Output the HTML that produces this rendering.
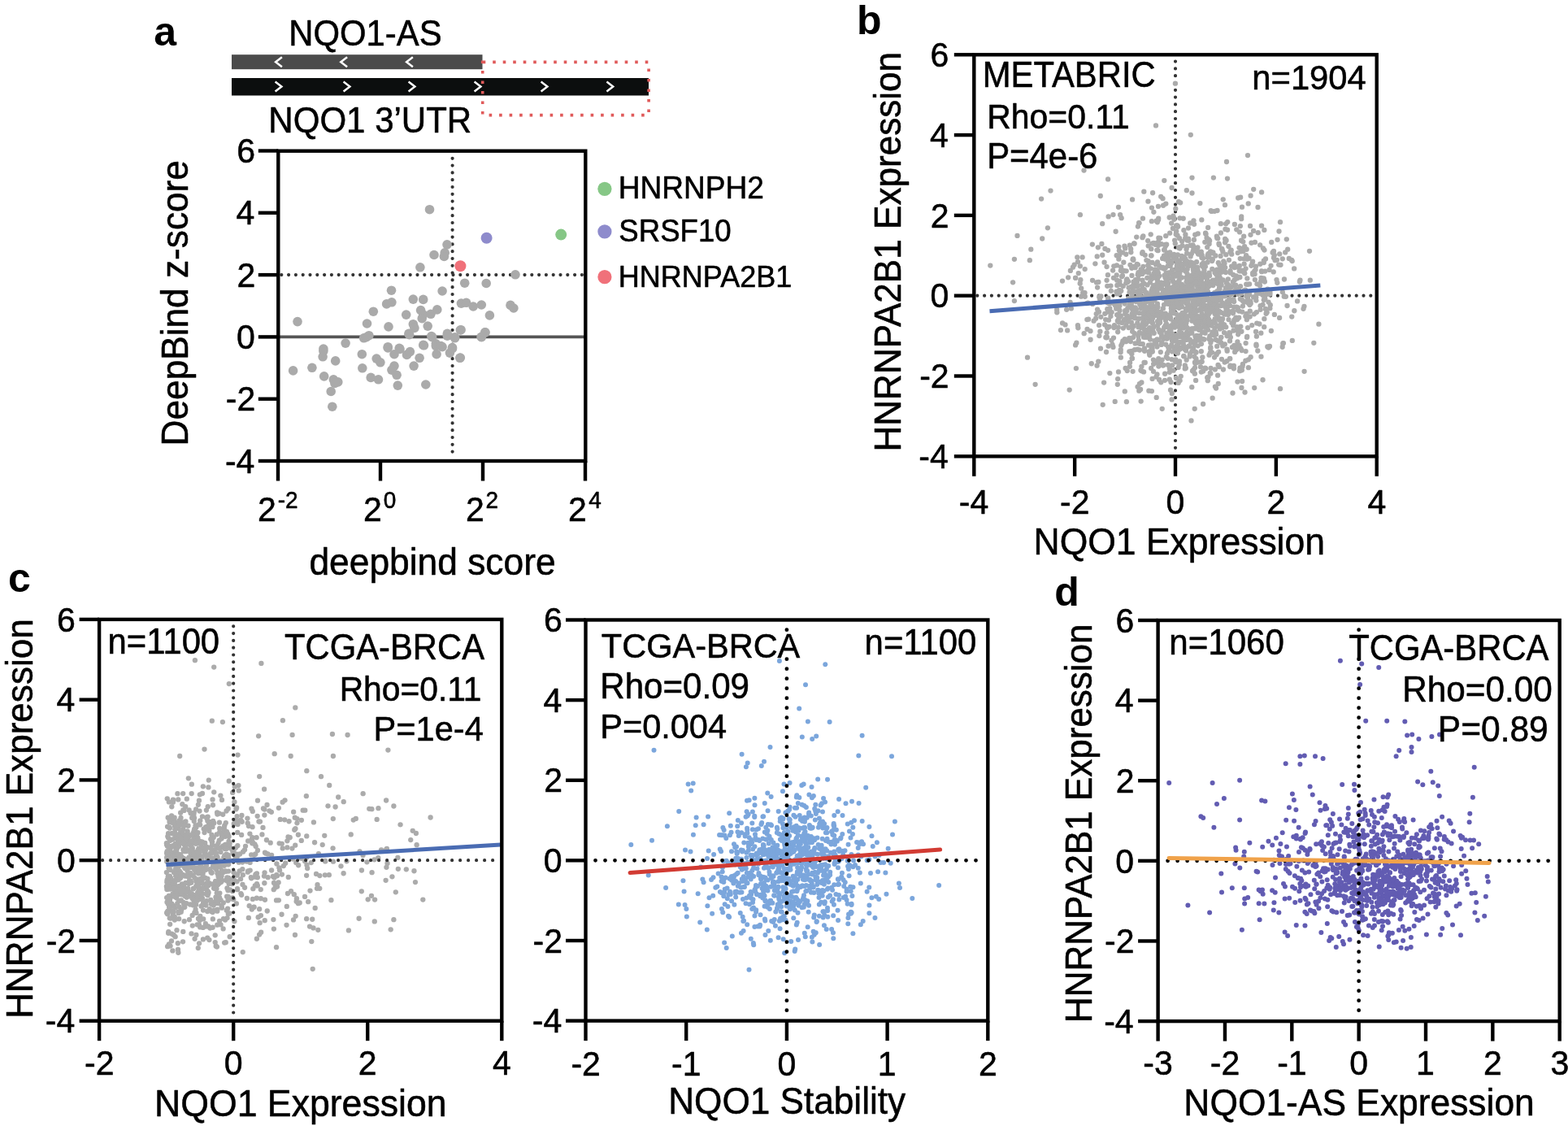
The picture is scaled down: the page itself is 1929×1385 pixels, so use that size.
<!DOCTYPE html>
<html><head><meta charset="utf-8"><title>Figure</title>
<style>html,body{margin:0;padding:0;background:#fff;overflow:hidden;}svg{display:block;}</style></head>
<body><svg width="1929" height="1385" viewBox="0 0 1929 1385" font-family="'Liberation Sans', Arial, Helvetica, sans-serif">
<rect width="100%" height="100%" fill="#fff"/>
<text transform="translate(189.34 55.5)" font-size="50" font-weight="bold" fill="#000">a</text>
<text transform="translate(355.37 55.5) scale(1 1.04)" font-size="41.82" fill="#000" stroke="#000" stroke-width="0.55" stroke-linejoin="round">NQO1-AS</text>
<rect x="285" y="67.2" width="308.5" height="18" fill="#4b4b4b"/>
<rect x="285" y="96" width="513" height="21.5" fill="#0c0e0e"/>
<polyline points="346.9,70.2 339.1,76.2 346.9,82.2" fill="none" stroke="#fff" stroke-width="2.5"/>
<polyline points="427.1,70.2 419.3,76.2 427.1,82.2" fill="none" stroke="#fff" stroke-width="2.5"/>
<polyline points="507.9,70.2 500.1,76.2 507.9,82.2" fill="none" stroke="#fff" stroke-width="2.5"/>
<polyline points="338.6,100.4 346.4,106.4 338.6,112.4" fill="none" stroke="#fff" stroke-width="2.5"/>
<polyline points="422.6,100.4 430.4,106.4 422.6,112.4" fill="none" stroke="#fff" stroke-width="2.5"/>
<polyline points="502.6,100.4 510.4,106.4 502.6,112.4" fill="none" stroke="#fff" stroke-width="2.5"/>
<polyline points="583.6,100.4 591.4,106.4 583.6,112.4" fill="none" stroke="#fff" stroke-width="2.5"/>
<polyline points="665.6,100.4 673.4,106.4 665.6,112.4" fill="none" stroke="#fff" stroke-width="2.5"/>
<polyline points="746.4,100.4 754.2,106.4 746.4,112.4" fill="none" stroke="#fff" stroke-width="2.5"/>
<rect x="593.7" y="76.4" width="204.4" height="65.2" fill="none" stroke="#e05a5a" stroke-width="3.6" stroke-dasharray="3.6 8.9"/>
<text transform="translate(330.35 163.1) scale(1 1.04)" font-size="42.05" fill="#000" stroke="#000" stroke-width="0.55" stroke-linejoin="round">NQO1 3’UTR</text>
<line x1="346.3" y1="338.1" x2="717.3" y2="338.1" stroke="#333" stroke-width="4.2" stroke-linecap="round" stroke-dasharray="0 8.8"/>
<line x1="556.6" y1="194.8" x2="556.6" y2="564" stroke="#333" stroke-width="4.2" stroke-linecap="round" stroke-dasharray="0 8.8"/>
<line x1="342.3" y1="414.4" x2="720.3" y2="414.4" stroke="#555" stroke-width="3.6"/>
<g fill="#aaa"><circle cx="528.5" cy="257.7" r="5.8"/><circle cx="550" cy="300.8" r="5.8"/><circle cx="547.2" cy="310.9" r="5.8"/><circle cx="546.4" cy="315.5" r="5.8"/><circle cx="534" cy="313.5" r="5.8"/><circle cx="516.9" cy="328.8" r="5.8"/><circle cx="634" cy="337.8" r="5.8"/><circle cx="571.7" cy="348.2" r="5.8"/><circle cx="598.2" cy="348.5" r="5.8"/><circle cx="481.5" cy="357.2" r="5.8"/><circle cx="544.1" cy="358" r="5.8"/><circle cx="508.3" cy="368.1" r="5.8"/><circle cx="520.7" cy="368.4" r="5.8"/><circle cx="481.9" cy="371.8" r="5.8"/><circle cx="475.6" cy="373.9" r="5.8"/><circle cx="567.4" cy="373.1" r="5.8"/><circle cx="573.6" cy="372.3" r="5.8"/><circle cx="582.2" cy="377" r="5.8"/><circle cx="592.3" cy="375" r="5.8"/><circle cx="628" cy="375.4" r="5.8"/><circle cx="631.9" cy="379" r="5.8"/><circle cx="459.3" cy="383.2" r="5.8"/><circle cx="517.6" cy="381.6" r="5.8"/><circle cx="537.8" cy="380.9" r="5.8"/><circle cx="499.7" cy="387.1" r="5.8"/><circle cx="520.7" cy="387.1" r="5.8"/><circle cx="530" cy="386.3" r="5.8"/><circle cx="602.4" cy="387.9" r="5.8"/><circle cx="519.2" cy="391.7" r="5.8"/><circle cx="366" cy="395.6" r="5.8"/><circle cx="451.5" cy="398" r="5.8"/><circle cx="478" cy="401.9" r="5.8"/><circle cx="508.3" cy="398.7" r="5.8"/><circle cx="509.9" cy="403.4" r="5.8"/><circle cx="526.2" cy="401.1" r="5.8"/><circle cx="567.1" cy="405.7" r="5.8"/><circle cx="597" cy="408.8" r="5.8"/><circle cx="592.3" cy="414.3" r="5.8"/><circle cx="502.9" cy="410.4" r="5.8"/><circle cx="550.3" cy="410.4" r="5.8"/><circle cx="559.6" cy="415.8" r="5.8"/><circle cx="453.9" cy="412.7" r="5.8"/><circle cx="447.6" cy="415.8" r="5.8"/><circle cx="530.8" cy="413.5" r="5.8"/><circle cx="425.1" cy="422.1" r="5.8"/><circle cx="477.2" cy="426.7" r="5.8"/><circle cx="491.2" cy="428.3" r="5.8"/><circle cx="520.7" cy="424.4" r="5.8"/><circle cx="397.9" cy="429" r="5.8"/><circle cx="536.3" cy="422.8" r="5.8"/><circle cx="544.1" cy="426.7" r="5.8"/><circle cx="556.5" cy="427.5" r="5.8"/><circle cx="397.9" cy="431.8" r="5.8"/><circle cx="397.1" cy="438.8" r="5.8"/><circle cx="412.7" cy="443.9" r="5.8"/><circle cx="360.6" cy="455.9" r="5.8"/><circle cx="383.9" cy="452.3" r="5.8"/><circle cx="445.3" cy="435.7" r="5.8"/><circle cx="445.8" cy="452.8" r="5.8"/><circle cx="463.2" cy="441.1" r="5.8"/><circle cx="467.9" cy="445.8" r="5.8"/><circle cx="477.2" cy="427.9" r="5.8"/><circle cx="485" cy="435.7" r="5.8"/><circle cx="492" cy="429.4" r="5.8"/><circle cx="500.5" cy="436.4" r="5.8"/><circle cx="504.4" cy="432.6" r="5.8"/><circle cx="521.5" cy="424.8" r="5.8"/><circle cx="516.1" cy="440.3" r="5.8"/><circle cx="509.1" cy="450.1" r="5.8"/><circle cx="485" cy="450.1" r="5.8"/><circle cx="481.9" cy="455.1" r="5.8"/><circle cx="488.1" cy="461.3" r="5.8"/><circle cx="398.7" cy="462.9" r="5.8"/><circle cx="410.3" cy="466.8" r="5.8"/><circle cx="415.8" cy="469.9" r="5.8"/><circle cx="411.9" cy="471.4" r="5.8"/><circle cx="407.2" cy="481.5" r="5.8"/><circle cx="408.8" cy="500.2" r="5.8"/><circle cx="456.2" cy="464.4" r="5.8"/><circle cx="465.5" cy="466.8" r="5.8"/><circle cx="489.3" cy="474.1" r="5.8"/><circle cx="523.8" cy="473" r="5.8"/><circle cx="536.3" cy="425.6" r="5.8"/><circle cx="537.1" cy="435.7" r="5.8"/><circle cx="542.5" cy="425.6" r="5.8"/><circle cx="553.4" cy="434.1" r="5.8"/><circle cx="556.5" cy="428.7" r="5.8"/><circle cx="565.8" cy="440.3" r="5.8"/><circle cx="592.3" cy="414.7" r="5.8"/><circle cx="559.6" cy="414.7" r="5.8"/><circle cx="503.6" cy="411.6" r="5.8"/><circle cx="450.8" cy="414.7" r="5.8"/><circle cx="531.6" cy="414.7" r="5.8"/><circle cx="550.3" cy="413.1" r="5.8"/><circle cx="566.3" cy="406" r="5.8"/><circle cx="566.3" cy="440" r="5.8"/><circle cx="596.7" cy="408.8" r="5.8"/></g>
<circle cx="598.6" cy="292.7" r="7" fill="#8e8bcc"/>
<circle cx="566.4" cy="327.2" r="7" fill="#f0717a"/>
<circle cx="690.2" cy="288.6" r="7" fill="#86c786"/>
<rect x="342.3" y="185.7" width="378" height="381.3" fill="none" stroke="#000" stroke-width="4.4"/>
<line x1="317.8" y1="185.5" x2="342.3" y2="185.5" stroke="#000" stroke-width="4.4"/>
<text transform="translate(291.2 200.16) scale(1 1.04)" font-size="41" fill="#000" stroke="#000" stroke-width="0.55" stroke-linejoin="round">6</text>
<line x1="317.8" y1="261.8" x2="342.3" y2="261.8" stroke="#000" stroke-width="4.4"/>
<text transform="translate(290.6 276.46) scale(1 1.04)" font-size="41" fill="#000" stroke="#000" stroke-width="0.55" stroke-linejoin="round">4</text>
<line x1="317.8" y1="338.1" x2="342.3" y2="338.1" stroke="#000" stroke-width="4.4"/>
<text transform="translate(291.46 352.76) scale(1 1.04)" font-size="41" fill="#000" stroke="#000" stroke-width="0.55" stroke-linejoin="round">2</text>
<line x1="317.8" y1="414.4" x2="342.3" y2="414.4" stroke="#000" stroke-width="4.4"/>
<text transform="translate(291 429.06) scale(1 1.04)" font-size="41" fill="#000" stroke="#000" stroke-width="0.55" stroke-linejoin="round">0</text>
<line x1="317.8" y1="490.7" x2="342.3" y2="490.7" stroke="#000" stroke-width="4.4"/>
<text transform="translate(277.81 505.36) scale(1 1.04)" font-size="41" fill="#000" stroke="#000" stroke-width="0.55" stroke-linejoin="round">-2</text>
<line x1="317.8" y1="567" x2="342.3" y2="567" stroke="#000" stroke-width="4.4"/>
<text transform="translate(276.95 581.66) scale(1 1.04)" font-size="41" fill="#000" stroke="#000" stroke-width="0.55" stroke-linejoin="round">-4</text>
<line x1="342" y1="567" x2="342" y2="591.5" stroke="#000" stroke-width="4.4"/>
<line x1="468" y1="567" x2="468" y2="591.5" stroke="#000" stroke-width="4.4"/>
<line x1="594" y1="567" x2="594" y2="591.5" stroke="#000" stroke-width="4.4"/>
<line x1="720" y1="567" x2="720" y2="591.5" stroke="#000" stroke-width="4.4"/>
<text transform="translate(317.04 641.4) scale(1 1.04)" font-size="41" fill="#000" stroke="#000" stroke-width="0.55" stroke-linejoin="round">2</text>
<text transform="translate(341.76 624.7) scale(1 1.04)" font-size="28" fill="#000" stroke="#000" stroke-width="0.55" stroke-linejoin="round">-2</text>
<text transform="translate(446.94 641.4) scale(1 1.04)" font-size="41" fill="#000" stroke="#000" stroke-width="0.55" stroke-linejoin="round">2</text>
<text transform="translate(471.81 624.7) scale(1 1.04)" font-size="28" fill="#000" stroke="#000" stroke-width="0.55" stroke-linejoin="round">0</text>
<text transform="translate(572.94 641.4) scale(1 1.04)" font-size="41" fill="#000" stroke="#000" stroke-width="0.55" stroke-linejoin="round">2</text>
<text transform="translate(597.49 624.7) scale(1 1.04)" font-size="28" fill="#000" stroke="#000" stroke-width="0.55" stroke-linejoin="round">2</text>
<text transform="translate(698.94 641.4) scale(1 1.04)" font-size="41" fill="#000" stroke="#000" stroke-width="0.55" stroke-linejoin="round">2</text>
<text transform="translate(724.26 624.7) scale(1 1.04)" font-size="28" fill="#000" stroke="#000" stroke-width="0.55" stroke-linejoin="round">4</text>
<text transform="translate(380.44 707) scale(1 1.04)" font-size="44.33" fill="#000" stroke="#000" stroke-width="0.55" stroke-linejoin="round">deepbind score</text>
<text transform="translate(230.9 548.43) rotate(-90) scale(1 1.04)" font-size="44.21" fill="#000" stroke="#000" stroke-width="0.55" stroke-linejoin="round">DeepBind z-score</text>
<circle cx="743.9" cy="232.3" r="8.6" fill="#86c786"/>
<circle cx="743.9" cy="284.9" r="8.6" fill="#8e8bcc"/>
<circle cx="743.9" cy="340.7" r="8.6" fill="#f0717a"/>
<text transform="translate(760.76 244) scale(1 1.04)" font-size="37.05" fill="#000" stroke="#000" stroke-width="0.55" stroke-linejoin="round">HNRNPH2</text>
<text transform="translate(761.34 297) scale(1 1.04)" font-size="36.59" fill="#000" stroke="#000" stroke-width="0.55" stroke-linejoin="round">SRSF10</text>
<text transform="translate(760.84 352.6) scale(1 1.04)" font-size="36.02" fill="#000" stroke="#000" stroke-width="0.55" stroke-linejoin="round">HNRNPA2B1</text>
<text transform="translate(1054 42.2)" font-size="50" font-weight="bold" fill="#000">b</text>
<line x1="1446" y1="75.6" x2="1446" y2="558.3" stroke="#333" stroke-width="4.2" stroke-linecap="round" stroke-dasharray="0 8.8"/>
<line x1="1202.3" y1="363.7" x2="1690.7" y2="363.7" stroke="#333" stroke-width="4.2" stroke-linecap="round" stroke-dasharray="0 8.8"/>
<g fill="#ababab"><circle cx="1374.17" cy="387.24" r="3.15"/><circle cx="1527.28" cy="295.98" r="3.15"/><circle cx="1405.69" cy="310.1" r="3.15"/><circle cx="1440.52" cy="470.08" r="3.15"/><circle cx="1451" cy="444.39" r="3.15"/><circle cx="1413.08" cy="409.76" r="3.15"/><circle cx="1377.36" cy="376.13" r="3.15"/><circle cx="1492.26" cy="374.89" r="3.15"/><circle cx="1475.86" cy="392.99" r="3.15"/><circle cx="1344.03" cy="344.78" r="3.15"/><circle cx="1589.02" cy="320.01" r="3.15"/><circle cx="1510.46" cy="361.34" r="3.15"/><circle cx="1412.03" cy="385.25" r="3.15"/><circle cx="1506.69" cy="364.38" r="3.15"/><circle cx="1428.69" cy="410.38" r="3.15"/><circle cx="1451.83" cy="328.64" r="3.15"/><circle cx="1500.23" cy="325.85" r="3.15"/><circle cx="1383.7" cy="417.11" r="3.15"/><circle cx="1488.1" cy="296.04" r="3.15"/><circle cx="1534.99" cy="367.07" r="3.15"/><circle cx="1530.62" cy="324.7" r="3.15"/><circle cx="1438.21" cy="369.37" r="3.15"/><circle cx="1506.73" cy="374.76" r="3.15"/><circle cx="1362.91" cy="338.14" r="3.15"/><circle cx="1446.28" cy="416.34" r="3.15"/><circle cx="1480.9" cy="379.13" r="3.15"/><circle cx="1378.74" cy="430.09" r="3.15"/><circle cx="1450.63" cy="344.55" r="3.15"/><circle cx="1553.55" cy="374.83" r="3.15"/><circle cx="1604.45" cy="376.79" r="3.15"/><circle cx="1499.58" cy="391.91" r="3.15"/><circle cx="1502.5" cy="334.67" r="3.15"/><circle cx="1400.65" cy="357.97" r="3.15"/><circle cx="1386.39" cy="382.3" r="3.15"/><circle cx="1374.83" cy="394.69" r="3.15"/><circle cx="1486.14" cy="279.91" r="3.15"/><circle cx="1498.13" cy="293.18" r="3.15"/><circle cx="1417.76" cy="424.61" r="3.15"/><circle cx="1385.29" cy="312.77" r="3.15"/><circle cx="1469.96" cy="341.77" r="3.15"/><circle cx="1473.12" cy="352.26" r="3.15"/><circle cx="1447.84" cy="347.65" r="3.15"/><circle cx="1527.64" cy="430.99" r="3.15"/><circle cx="1449.99" cy="248.22" r="3.15"/><circle cx="1451.52" cy="268.3" r="3.15"/><circle cx="1392.15" cy="368.84" r="3.15"/><circle cx="1463.03" cy="366.88" r="3.15"/><circle cx="1532.03" cy="356.77" r="3.15"/><circle cx="1458.77" cy="400.16" r="3.15"/><circle cx="1459.33" cy="341.36" r="3.15"/><circle cx="1479.99" cy="368.53" r="3.15"/><circle cx="1471.1" cy="419.59" r="3.15"/><circle cx="1485.5" cy="390.71" r="3.15"/><circle cx="1485.87" cy="398.5" r="3.15"/><circle cx="1490.52" cy="396.33" r="3.15"/><circle cx="1410" cy="387.32" r="3.15"/><circle cx="1472.38" cy="337.58" r="3.15"/><circle cx="1363.98" cy="393.7" r="3.15"/><circle cx="1470.49" cy="447.11" r="3.15"/><circle cx="1383.41" cy="302.64" r="3.15"/><circle cx="1451.23" cy="397.88" r="3.15"/><circle cx="1482.3" cy="297.81" r="3.15"/><circle cx="1431.65" cy="358.5" r="3.15"/><circle cx="1460.86" cy="342.39" r="3.15"/><circle cx="1361.83" cy="414.65" r="3.15"/><circle cx="1406.45" cy="366.93" r="3.15"/><circle cx="1494.5" cy="385.91" r="3.15"/><circle cx="1389.51" cy="375.26" r="3.15"/><circle cx="1492.35" cy="344.53" r="3.15"/><circle cx="1376.19" cy="391.91" r="3.15"/><circle cx="1403.59" cy="331.41" r="3.15"/><circle cx="1392.88" cy="440.94" r="3.15"/><circle cx="1455.7" cy="421.46" r="3.15"/><circle cx="1485.73" cy="346.76" r="3.15"/><circle cx="1394.57" cy="346.66" r="3.15"/><circle cx="1444.95" cy="317.7" r="3.15"/><circle cx="1547.69" cy="286.21" r="3.15"/><circle cx="1437.21" cy="348.03" r="3.15"/><circle cx="1408.81" cy="334.39" r="3.15"/><circle cx="1477.31" cy="355.31" r="3.15"/><circle cx="1442.55" cy="361.75" r="3.15"/><circle cx="1415.31" cy="375.04" r="3.15"/><circle cx="1352.99" cy="367.65" r="3.15"/><circle cx="1501.91" cy="393.08" r="3.15"/><circle cx="1422.76" cy="377.17" r="3.15"/><circle cx="1455.33" cy="329.52" r="3.15"/><circle cx="1394.69" cy="346.87" r="3.15"/><circle cx="1529.45" cy="308.98" r="3.15"/><circle cx="1497.9" cy="388.83" r="3.15"/><circle cx="1511.17" cy="382.72" r="3.15"/><circle cx="1449" cy="347.59" r="3.15"/><circle cx="1481.95" cy="408.25" r="3.15"/><circle cx="1506.03" cy="409.11" r="3.15"/><circle cx="1513.57" cy="335.53" r="3.15"/><circle cx="1473.09" cy="382.18" r="3.15"/><circle cx="1451.76" cy="327.03" r="3.15"/><circle cx="1434.81" cy="365.35" r="3.15"/><circle cx="1412.64" cy="391.91" r="3.15"/><circle cx="1400.28" cy="422.03" r="3.15"/><circle cx="1475.8" cy="310.23" r="3.15"/><circle cx="1441.36" cy="373.73" r="3.15"/><circle cx="1341.58" cy="417.74" r="3.15"/><circle cx="1446.44" cy="442.45" r="3.15"/><circle cx="1515.9" cy="427.03" r="3.15"/><circle cx="1439.61" cy="390.22" r="3.15"/><circle cx="1349.7" cy="315.38" r="3.15"/><circle cx="1448.2" cy="414.79" r="3.15"/><circle cx="1500.01" cy="354.16" r="3.15"/><circle cx="1466.8" cy="359.3" r="3.15"/><circle cx="1560.59" cy="427.55" r="3.15"/><circle cx="1563.53" cy="326.86" r="3.15"/><circle cx="1449.68" cy="470.91" r="3.15"/><circle cx="1501.63" cy="314.97" r="3.15"/><circle cx="1477.65" cy="370.19" r="3.15"/><circle cx="1499.81" cy="451.14" r="3.15"/><circle cx="1538.08" cy="277.92" r="3.15"/><circle cx="1502.02" cy="376.05" r="3.15"/><circle cx="1460.29" cy="295.52" r="3.15"/><circle cx="1418.06" cy="363.96" r="3.15"/><circle cx="1409.03" cy="410.98" r="3.15"/><circle cx="1453.83" cy="318.09" r="3.15"/><circle cx="1521.27" cy="282.37" r="3.15"/><circle cx="1472.41" cy="309.74" r="3.15"/><circle cx="1458.31" cy="429.86" r="3.15"/><circle cx="1469.95" cy="341.56" r="3.15"/><circle cx="1457.33" cy="429.37" r="3.15"/><circle cx="1486.47" cy="400.02" r="3.15"/><circle cx="1391.31" cy="310.23" r="3.15"/><circle cx="1342.76" cy="447.24" r="3.15"/><circle cx="1431.07" cy="252.73" r="3.15"/><circle cx="1389.82" cy="450.78" r="3.15"/><circle cx="1547.3" cy="431.49" r="3.15"/><circle cx="1446.26" cy="336.64" r="3.15"/><circle cx="1440.88" cy="383.52" r="3.15"/><circle cx="1367.66" cy="384.12" r="3.15"/><circle cx="1471.36" cy="417.39" r="3.15"/><circle cx="1419.76" cy="338.96" r="3.15"/><circle cx="1519.2" cy="358.98" r="3.15"/><circle cx="1503.21" cy="374.77" r="3.15"/><circle cx="1411.09" cy="414.62" r="3.15"/><circle cx="1478.69" cy="444.84" r="3.15"/><circle cx="1300.19" cy="381" r="3.15"/><circle cx="1416.93" cy="481.12" r="3.15"/><circle cx="1526.29" cy="401.57" r="3.15"/><circle cx="1500.31" cy="340.34" r="3.15"/><circle cx="1465.28" cy="339.12" r="3.15"/><circle cx="1453.62" cy="393.17" r="3.15"/><circle cx="1377.81" cy="349.94" r="3.15"/><circle cx="1468.02" cy="329.35" r="3.15"/><circle cx="1555.66" cy="365.47" r="3.15"/><circle cx="1331.61" cy="316.47" r="3.15"/><circle cx="1491.09" cy="321.04" r="3.15"/><circle cx="1489.54" cy="452.93" r="3.15"/><circle cx="1509.45" cy="381.32" r="3.15"/><circle cx="1405.77" cy="399.07" r="3.15"/><circle cx="1425.15" cy="297.72" r="3.15"/><circle cx="1457.89" cy="320.16" r="3.15"/><circle cx="1396.75" cy="370.01" r="3.15"/><circle cx="1385.25" cy="348.29" r="3.15"/><circle cx="1404.96" cy="332" r="3.15"/><circle cx="1451.25" cy="407.34" r="3.15"/><circle cx="1476.6" cy="380.44" r="3.15"/><circle cx="1453.89" cy="377.41" r="3.15"/><circle cx="1459.69" cy="392.97" r="3.15"/><circle cx="1416.33" cy="390.47" r="3.15"/><circle cx="1414.22" cy="363.28" r="3.15"/><circle cx="1519.13" cy="432.88" r="3.15"/><circle cx="1452.17" cy="429.06" r="3.15"/><circle cx="1450.59" cy="334.77" r="3.15"/><circle cx="1508.61" cy="295.73" r="3.15"/><circle cx="1525.85" cy="278.04" r="3.15"/><circle cx="1527.8" cy="455.23" r="3.15"/><circle cx="1478.41" cy="353.44" r="3.15"/><circle cx="1452.42" cy="413.96" r="3.15"/><circle cx="1471.77" cy="398.53" r="3.15"/><circle cx="1465.5" cy="383.43" r="3.15"/><circle cx="1534.9" cy="349.78" r="3.15"/><circle cx="1471.93" cy="344.81" r="3.15"/><circle cx="1491.66" cy="489.66" r="3.15"/><circle cx="1453.7" cy="402.66" r="3.15"/><circle cx="1533.4" cy="316.56" r="3.15"/><circle cx="1338.34" cy="372.67" r="3.15"/><circle cx="1476.97" cy="451.16" r="3.15"/><circle cx="1498.32" cy="419.32" r="3.15"/><circle cx="1389.25" cy="415.8" r="3.15"/><circle cx="1577.79" cy="318.33" r="3.15"/><circle cx="1446.73" cy="288.21" r="3.15"/><circle cx="1446.11" cy="427.6" r="3.15"/><circle cx="1393.79" cy="351.68" r="3.15"/><circle cx="1505.31" cy="385.33" r="3.15"/><circle cx="1468.08" cy="345.14" r="3.15"/><circle cx="1421.59" cy="386.79" r="3.15"/><circle cx="1468.18" cy="428.09" r="3.15"/><circle cx="1494.38" cy="403.83" r="3.15"/><circle cx="1524.51" cy="402.75" r="3.15"/><circle cx="1467.6" cy="302.38" r="3.15"/><circle cx="1400.32" cy="413.61" r="3.15"/><circle cx="1423.58" cy="348.53" r="3.15"/><circle cx="1324.35" cy="421.63" r="3.15"/><circle cx="1413.58" cy="408.98" r="3.15"/><circle cx="1497.25" cy="361.27" r="3.15"/><circle cx="1481.82" cy="400.99" r="3.15"/><circle cx="1449.14" cy="278.85" r="3.15"/><circle cx="1435.84" cy="311.04" r="3.15"/><circle cx="1545.56" cy="425.34" r="3.15"/><circle cx="1471.37" cy="348.54" r="3.15"/><circle cx="1507.11" cy="298.35" r="3.15"/><circle cx="1477.8" cy="432.26" r="3.15"/><circle cx="1417.15" cy="396.09" r="3.15"/><circle cx="1543.9" cy="297.91" r="3.15"/><circle cx="1384.75" cy="418.16" r="3.15"/><circle cx="1387.14" cy="346.89" r="3.15"/><circle cx="1430.84" cy="379.46" r="3.15"/><circle cx="1413.72" cy="367.74" r="3.15"/><circle cx="1423.53" cy="426.62" r="3.15"/><circle cx="1421.11" cy="379.55" r="3.15"/><circle cx="1511.51" cy="393.03" r="3.15"/><circle cx="1458.38" cy="288.47" r="3.15"/><circle cx="1475.34" cy="342.24" r="3.15"/><circle cx="1364.82" cy="373.41" r="3.15"/><circle cx="1407.04" cy="377.74" r="3.15"/><circle cx="1517.08" cy="338.01" r="3.15"/><circle cx="1386.71" cy="456.04" r="3.15"/><circle cx="1522.43" cy="420.48" r="3.15"/><circle cx="1396.57" cy="422.39" r="3.15"/><circle cx="1472.34" cy="413.02" r="3.15"/><circle cx="1407.08" cy="457.43" r="3.15"/><circle cx="1466.49" cy="349.06" r="3.15"/><circle cx="1404.04" cy="400.34" r="3.15"/><circle cx="1440.67" cy="314.34" r="3.15"/><circle cx="1550.58" cy="376.16" r="3.15"/><circle cx="1433.91" cy="394.02" r="3.15"/><circle cx="1571.33" cy="347.86" r="3.15"/><circle cx="1429.15" cy="354.98" r="3.15"/><circle cx="1388.3" cy="392.12" r="3.15"/><circle cx="1459.56" cy="346.53" r="3.15"/><circle cx="1431.99" cy="314.7" r="3.15"/><circle cx="1555.36" cy="392.15" r="3.15"/><circle cx="1504.34" cy="309.51" r="3.15"/><circle cx="1522.59" cy="381.22" r="3.15"/><circle cx="1491.28" cy="331" r="3.15"/><circle cx="1596.06" cy="370.39" r="3.15"/><circle cx="1500.54" cy="391.54" r="3.15"/><circle cx="1485.56" cy="358.9" r="3.15"/><circle cx="1408.04" cy="431.8" r="3.15"/><circle cx="1403.48" cy="455.43" r="3.15"/><circle cx="1465.78" cy="376.45" r="3.15"/><circle cx="1512.13" cy="384.15" r="3.15"/><circle cx="1518.92" cy="426.54" r="3.15"/><circle cx="1401.51" cy="274.36" r="3.15"/><circle cx="1485.56" cy="353.59" r="3.15"/><circle cx="1466.3" cy="409.71" r="3.15"/><circle cx="1391.58" cy="352.93" r="3.15"/><circle cx="1484.45" cy="347.18" r="3.15"/><circle cx="1325.93" cy="400.13" r="3.15"/><circle cx="1470.28" cy="385.96" r="3.15"/><circle cx="1397.18" cy="366.76" r="3.15"/><circle cx="1456.36" cy="283.14" r="3.15"/><circle cx="1347.37" cy="324.32" r="3.15"/><circle cx="1412.28" cy="326.29" r="3.15"/><circle cx="1498.37" cy="401.34" r="3.15"/><circle cx="1395.9" cy="430.23" r="3.15"/><circle cx="1453.34" cy="332.03" r="3.15"/><circle cx="1435.05" cy="361.4" r="3.15"/><circle cx="1433.73" cy="385.61" r="3.15"/><circle cx="1466.15" cy="389.73" r="3.15"/><circle cx="1482.89" cy="327.79" r="3.15"/><circle cx="1525.38" cy="341" r="3.15"/><circle cx="1502.74" cy="395.43" r="3.15"/><circle cx="1423.1" cy="382.04" r="3.15"/><circle cx="1535.89" cy="452.19" r="3.15"/><circle cx="1526.4" cy="428.77" r="3.15"/><circle cx="1366.47" cy="351.58" r="3.15"/><circle cx="1493.19" cy="395.48" r="3.15"/><circle cx="1502.32" cy="414.78" r="3.15"/><circle cx="1510.34" cy="359.1" r="3.15"/><circle cx="1486.46" cy="312.11" r="3.15"/><circle cx="1381.39" cy="419.35" r="3.15"/><circle cx="1440.04" cy="391.42" r="3.15"/><circle cx="1337.35" cy="393.09" r="3.15"/><circle cx="1446.29" cy="256.77" r="3.15"/><circle cx="1570.88" cy="319.84" r="3.15"/><circle cx="1494.12" cy="360.14" r="3.15"/><circle cx="1502.93" cy="441.78" r="3.15"/><circle cx="1426.03" cy="339.45" r="3.15"/><circle cx="1397.42" cy="349.98" r="3.15"/><circle cx="1394.31" cy="387.32" r="3.15"/><circle cx="1462.35" cy="411.03" r="3.15"/><circle cx="1409.54" cy="398.97" r="3.15"/><circle cx="1418.96" cy="456.81" r="3.15"/><circle cx="1520.49" cy="390.65" r="3.15"/><circle cx="1361.8" cy="401.75" r="3.15"/><circle cx="1380.43" cy="422.6" r="3.15"/><circle cx="1426.21" cy="392.04" r="3.15"/><circle cx="1449.6" cy="451.89" r="3.15"/><circle cx="1447.91" cy="320.59" r="3.15"/><circle cx="1375.72" cy="386.67" r="3.15"/><circle cx="1466.33" cy="431.9" r="3.15"/><circle cx="1447.92" cy="338.25" r="3.15"/><circle cx="1475.48" cy="347.24" r="3.15"/><circle cx="1393.6" cy="402.37" r="3.15"/><circle cx="1469.24" cy="438.47" r="3.15"/><circle cx="1467.87" cy="377.84" r="3.15"/><circle cx="1417.66" cy="354.55" r="3.15"/><circle cx="1442.84" cy="344.88" r="3.15"/><circle cx="1423.61" cy="332.23" r="3.15"/><circle cx="1532.56" cy="330.36" r="3.15"/><circle cx="1372.81" cy="373.56" r="3.15"/><circle cx="1358.11" cy="470.62" r="3.15"/><circle cx="1433.75" cy="329.61" r="3.15"/><circle cx="1416.63" cy="357.66" r="3.15"/><circle cx="1431.86" cy="330.55" r="3.15"/><circle cx="1496.25" cy="371.69" r="3.15"/><circle cx="1362.28" cy="380.17" r="3.15"/><circle cx="1407.11" cy="404.17" r="3.15"/><circle cx="1386.8" cy="388.51" r="3.15"/><circle cx="1476.37" cy="250.05" r="3.15"/><circle cx="1474.09" cy="312.53" r="3.15"/><circle cx="1414.81" cy="388.08" r="3.15"/><circle cx="1354.39" cy="364.4" r="3.15"/><circle cx="1546.49" cy="349.34" r="3.15"/><circle cx="1482.13" cy="402.08" r="3.15"/><circle cx="1479.43" cy="374.18" r="3.15"/><circle cx="1459.41" cy="358.44" r="3.15"/><circle cx="1454.87" cy="399.25" r="3.15"/><circle cx="1502.64" cy="350.67" r="3.15"/><circle cx="1454.4" cy="315.57" r="3.15"/><circle cx="1419.35" cy="336.49" r="3.15"/><circle cx="1495.71" cy="359.69" r="3.15"/><circle cx="1458.69" cy="382.87" r="3.15"/><circle cx="1411.28" cy="341.81" r="3.15"/><circle cx="1403.66" cy="402.95" r="3.15"/><circle cx="1521.69" cy="402.12" r="3.15"/><circle cx="1491.24" cy="311.4" r="3.15"/><circle cx="1567.84" cy="386.97" r="3.15"/><circle cx="1425.28" cy="441.22" r="3.15"/><circle cx="1412.93" cy="335.44" r="3.15"/><circle cx="1478.3" cy="338.57" r="3.15"/><circle cx="1533.87" cy="316.33" r="3.15"/><circle cx="1489.29" cy="377.42" r="3.15"/><circle cx="1479.97" cy="317.72" r="3.15"/><circle cx="1562.79" cy="375.23" r="3.15"/><circle cx="1412.94" cy="424.72" r="3.15"/><circle cx="1384.19" cy="385.99" r="3.15"/><circle cx="1412.87" cy="363.75" r="3.15"/><circle cx="1437.24" cy="427.08" r="3.15"/><circle cx="1476.56" cy="381.52" r="3.15"/><circle cx="1513.51" cy="358.88" r="3.15"/><circle cx="1478.4" cy="392.91" r="3.15"/><circle cx="1542.07" cy="365.5" r="3.15"/><circle cx="1408.14" cy="377.1" r="3.15"/><circle cx="1563.85" cy="406.98" r="3.15"/><circle cx="1409.03" cy="359.38" r="3.15"/><circle cx="1521.99" cy="342.34" r="3.15"/><circle cx="1401.86" cy="472.21" r="3.15"/><circle cx="1474.85" cy="404.69" r="3.15"/><circle cx="1458.19" cy="333.5" r="3.15"/><circle cx="1484.77" cy="349.81" r="3.15"/><circle cx="1498.1" cy="461.69" r="3.15"/><circle cx="1443.14" cy="361.93" r="3.15"/><circle cx="1451.48" cy="305.48" r="3.15"/><circle cx="1468.91" cy="329.67" r="3.15"/><circle cx="1380.94" cy="338.88" r="3.15"/><circle cx="1413.63" cy="379.3" r="3.15"/><circle cx="1362.74" cy="372.51" r="3.15"/><circle cx="1455.59" cy="426.85" r="3.15"/><circle cx="1581.89" cy="364.82" r="3.15"/><circle cx="1497.52" cy="258.98" r="3.15"/><circle cx="1405.98" cy="374.94" r="3.15"/><circle cx="1414.97" cy="417.54" r="3.15"/><circle cx="1510.89" cy="343.51" r="3.15"/><circle cx="1428.26" cy="470.28" r="3.15"/><circle cx="1363.65" cy="266.42" r="3.15"/><circle cx="1397.01" cy="344.12" r="3.15"/><circle cx="1395.23" cy="386.63" r="3.15"/><circle cx="1397.1" cy="391.31" r="3.15"/><circle cx="1493.8" cy="412.62" r="3.15"/><circle cx="1459.32" cy="365" r="3.15"/><circle cx="1370.48" cy="372.96" r="3.15"/><circle cx="1424.54" cy="446.65" r="3.15"/><circle cx="1390.44" cy="325.86" r="3.15"/><circle cx="1386.44" cy="391" r="3.15"/><circle cx="1369.45" cy="426.91" r="3.15"/><circle cx="1554.83" cy="320.65" r="3.15"/><circle cx="1437.78" cy="335.32" r="3.15"/><circle cx="1488.12" cy="396.15" r="3.15"/><circle cx="1504.78" cy="399.15" r="3.15"/><circle cx="1433.4" cy="318.69" r="3.15"/><circle cx="1485.76" cy="387.72" r="3.15"/><circle cx="1486.09" cy="358.81" r="3.15"/><circle cx="1467.96" cy="303.6" r="3.15"/><circle cx="1578.89" cy="422.11" r="3.15"/><circle cx="1471.46" cy="441.23" r="3.15"/><circle cx="1442.27" cy="411" r="3.15"/><circle cx="1492.1" cy="395.63" r="3.15"/><circle cx="1556.58" cy="363.33" r="3.15"/><circle cx="1511.94" cy="319.81" r="3.15"/><circle cx="1428.04" cy="391.16" r="3.15"/><circle cx="1406.36" cy="290.37" r="3.15"/><circle cx="1402.26" cy="361.27" r="3.15"/><circle cx="1417.58" cy="465.9" r="3.15"/><circle cx="1477.31" cy="369.66" r="3.15"/><circle cx="1503.49" cy="332.28" r="3.15"/><circle cx="1325.97" cy="322.18" r="3.15"/><circle cx="1454.23" cy="403" r="3.15"/><circle cx="1392.33" cy="376.62" r="3.15"/><circle cx="1494.19" cy="259.78" r="3.15"/><circle cx="1507.39" cy="358.86" r="3.15"/><circle cx="1410.95" cy="414.79" r="3.15"/><circle cx="1429.68" cy="442.59" r="3.15"/><circle cx="1401.07" cy="391.99" r="3.15"/><circle cx="1477.57" cy="349.57" r="3.15"/><circle cx="1363.57" cy="425.67" r="3.15"/><circle cx="1391.16" cy="306.18" r="3.15"/><circle cx="1416.29" cy="406.07" r="3.15"/><circle cx="1525.16" cy="456.22" r="3.15"/><circle cx="1592.16" cy="330.4" r="3.15"/><circle cx="1456.43" cy="366.22" r="3.15"/><circle cx="1385.12" cy="382.41" r="3.15"/><circle cx="1459.52" cy="306.43" r="3.15"/><circle cx="1405.78" cy="398.99" r="3.15"/><circle cx="1481.49" cy="332.74" r="3.15"/><circle cx="1391.84" cy="396.28" r="3.15"/><circle cx="1434.24" cy="290.16" r="3.15"/><circle cx="1454.49" cy="367.41" r="3.15"/><circle cx="1484.91" cy="364.92" r="3.15"/><circle cx="1450.91" cy="339.29" r="3.15"/><circle cx="1527.41" cy="367.88" r="3.15"/><circle cx="1462.37" cy="345.31" r="3.15"/><circle cx="1351.95" cy="383.64" r="3.15"/><circle cx="1507.93" cy="335.02" r="3.15"/><circle cx="1438.7" cy="365.06" r="3.15"/><circle cx="1417.13" cy="395.03" r="3.15"/><circle cx="1541.18" cy="335.84" r="3.15"/><circle cx="1398.68" cy="347.29" r="3.15"/><circle cx="1459.43" cy="417.9" r="3.15"/><circle cx="1414.67" cy="383.46" r="3.15"/><circle cx="1532.34" cy="443.75" r="3.15"/><circle cx="1434.55" cy="363.03" r="3.15"/><circle cx="1468.72" cy="326.42" r="3.15"/><circle cx="1375.97" cy="254.86" r="3.15"/><circle cx="1537.03" cy="349.41" r="3.15"/><circle cx="1394.36" cy="319.81" r="3.15"/><circle cx="1507.16" cy="294" r="3.15"/><circle cx="1518.74" cy="329.09" r="3.15"/><circle cx="1525.49" cy="452.76" r="3.15"/><circle cx="1558.64" cy="384.24" r="3.15"/><circle cx="1388.59" cy="353.84" r="3.15"/><circle cx="1478.19" cy="351.6" r="3.15"/><circle cx="1463.15" cy="360.72" r="3.15"/><circle cx="1479.21" cy="408.81" r="3.15"/><circle cx="1517.86" cy="453.3" r="3.15"/><circle cx="1461.52" cy="348.75" r="3.15"/><circle cx="1408.75" cy="313.79" r="3.15"/><circle cx="1449.75" cy="390.02" r="3.15"/><circle cx="1542.98" cy="336.23" r="3.15"/><circle cx="1388.12" cy="395.53" r="3.15"/><circle cx="1459.83" cy="373.49" r="3.15"/><circle cx="1399.38" cy="397.13" r="3.15"/><circle cx="1518.46" cy="324.41" r="3.15"/><circle cx="1361.37" cy="415.27" r="3.15"/><circle cx="1435.86" cy="360.87" r="3.15"/><circle cx="1448.21" cy="323.84" r="3.15"/><circle cx="1461.95" cy="367.46" r="3.15"/><circle cx="1589.81" cy="418.97" r="3.15"/><circle cx="1543.89" cy="344.07" r="3.15"/><circle cx="1396.62" cy="378.33" r="3.15"/><circle cx="1578.31" cy="422.43" r="3.15"/><circle cx="1387.35" cy="378.84" r="3.15"/><circle cx="1348.7" cy="386.03" r="3.15"/><circle cx="1369.92" cy="341.83" r="3.15"/><circle cx="1466.88" cy="389.44" r="3.15"/><circle cx="1485.76" cy="360.85" r="3.15"/><circle cx="1329.32" cy="344.16" r="3.15"/><circle cx="1480.13" cy="456.52" r="3.15"/><circle cx="1440.07" cy="320.99" r="3.15"/><circle cx="1495.53" cy="364.34" r="3.15"/><circle cx="1433.38" cy="415.68" r="3.15"/><circle cx="1506.57" cy="358.29" r="3.15"/><circle cx="1487.44" cy="316.3" r="3.15"/><circle cx="1388.48" cy="403.06" r="3.15"/><circle cx="1537.65" cy="389.5" r="3.15"/><circle cx="1467.39" cy="301.51" r="3.15"/><circle cx="1496.88" cy="290.57" r="3.15"/><circle cx="1527.17" cy="269.15" r="3.15"/><circle cx="1399.76" cy="367.76" r="3.15"/><circle cx="1450.46" cy="412.37" r="3.15"/><circle cx="1408.48" cy="414.82" r="3.15"/><circle cx="1401.6" cy="385.13" r="3.15"/><circle cx="1470.44" cy="413.67" r="3.15"/><circle cx="1474.65" cy="345.44" r="3.15"/><circle cx="1531.14" cy="303.26" r="3.15"/><circle cx="1534.22" cy="413.99" r="3.15"/><circle cx="1454.07" cy="296.8" r="3.15"/><circle cx="1407.6" cy="412.34" r="3.15"/><circle cx="1577.66" cy="426.76" r="3.15"/><circle cx="1449.21" cy="332.65" r="3.15"/><circle cx="1402.3" cy="373.6" r="3.15"/><circle cx="1431.15" cy="366.98" r="3.15"/><circle cx="1519.75" cy="392.26" r="3.15"/><circle cx="1510.52" cy="350.02" r="3.15"/><circle cx="1480.09" cy="496.99" r="3.15"/><circle cx="1441.21" cy="274.53" r="3.15"/><circle cx="1464.87" cy="351.37" r="3.15"/><circle cx="1437.59" cy="315.78" r="3.15"/><circle cx="1459.33" cy="381.16" r="3.15"/><circle cx="1449.4" cy="323.58" r="3.15"/><circle cx="1485.22" cy="304.12" r="3.15"/><circle cx="1435.6" cy="416.63" r="3.15"/><circle cx="1438.69" cy="267.49" r="3.15"/><circle cx="1390.88" cy="420.07" r="3.15"/><circle cx="1445.45" cy="358.3" r="3.15"/><circle cx="1395.27" cy="386.68" r="3.15"/><circle cx="1417.43" cy="375.05" r="3.15"/><circle cx="1438.79" cy="457.86" r="3.15"/><circle cx="1440.87" cy="379.27" r="3.15"/><circle cx="1422.6" cy="423.38" r="3.15"/><circle cx="1518.15" cy="371.09" r="3.15"/><circle cx="1466.75" cy="351.39" r="3.15"/><circle cx="1473.65" cy="360.46" r="3.15"/><circle cx="1468.57" cy="368.48" r="3.15"/><circle cx="1417.23" cy="299.55" r="3.15"/><circle cx="1404.97" cy="350.51" r="3.15"/><circle cx="1503.12" cy="333.01" r="3.15"/><circle cx="1435.17" cy="300.77" r="3.15"/><circle cx="1354.39" cy="371.61" r="3.15"/><circle cx="1330.02" cy="364.64" r="3.15"/><circle cx="1467.92" cy="331.06" r="3.15"/><circle cx="1413.3" cy="378.4" r="3.15"/><circle cx="1451.44" cy="304.08" r="3.15"/><circle cx="1424.11" cy="395.23" r="3.15"/><circle cx="1432.08" cy="374.85" r="3.15"/><circle cx="1445.45" cy="370.81" r="3.15"/><circle cx="1384.22" cy="382.27" r="3.15"/><circle cx="1454.22" cy="364.47" r="3.15"/><circle cx="1511.47" cy="383.87" r="3.15"/><circle cx="1494.92" cy="475.55" r="3.15"/><circle cx="1356.18" cy="313.76" r="3.15"/><circle cx="1378.85" cy="388.41" r="3.15"/><circle cx="1379.36" cy="332.77" r="3.15"/><circle cx="1441.16" cy="416.26" r="3.15"/><circle cx="1503.99" cy="334.19" r="3.15"/><circle cx="1473.69" cy="425.28" r="3.15"/><circle cx="1355.38" cy="299.97" r="3.15"/><circle cx="1458.42" cy="370.98" r="3.15"/><circle cx="1501.29" cy="383.86" r="3.15"/><circle cx="1429.71" cy="502.79" r="3.15"/><circle cx="1418.17" cy="391.32" r="3.15"/><circle cx="1522.09" cy="392.99" r="3.15"/><circle cx="1589.24" cy="389.6" r="3.15"/><circle cx="1382.57" cy="394.49" r="3.15"/><circle cx="1436.85" cy="321.64" r="3.15"/><circle cx="1488.03" cy="384.47" r="3.15"/><circle cx="1353.4" cy="407.7" r="3.15"/><circle cx="1487.54" cy="416.74" r="3.15"/><circle cx="1471.51" cy="348.78" r="3.15"/><circle cx="1431.23" cy="388.72" r="3.15"/><circle cx="1407.73" cy="387.56" r="3.15"/><circle cx="1425.33" cy="354.77" r="3.15"/><circle cx="1438.02" cy="365.32" r="3.15"/><circle cx="1382.94" cy="333.21" r="3.15"/><circle cx="1545.05" cy="327.54" r="3.15"/><circle cx="1392.14" cy="431.82" r="3.15"/><circle cx="1430.93" cy="406.02" r="3.15"/><circle cx="1417.6" cy="323.01" r="3.15"/><circle cx="1431.75" cy="386.51" r="3.15"/><circle cx="1460.59" cy="336.8" r="3.15"/><circle cx="1412.13" cy="411.22" r="3.15"/><circle cx="1441.84" cy="483.88" r="3.15"/><circle cx="1553.53" cy="467.25" r="3.15"/><circle cx="1515.46" cy="397.28" r="3.15"/><circle cx="1438.88" cy="388.31" r="3.15"/><circle cx="1506.97" cy="252.21" r="3.15"/><circle cx="1411.51" cy="332.99" r="3.15"/><circle cx="1468.16" cy="332.48" r="3.15"/><circle cx="1373.9" cy="326.39" r="3.15"/><circle cx="1390.11" cy="445.91" r="3.15"/><circle cx="1405.92" cy="365.68" r="3.15"/><circle cx="1525.79" cy="367.7" r="3.15"/><circle cx="1468.43" cy="271.28" r="3.15"/><circle cx="1486.5" cy="397.73" r="3.15"/><circle cx="1463.93" cy="435.09" r="3.15"/><circle cx="1476.19" cy="361.06" r="3.15"/><circle cx="1479.19" cy="373.39" r="3.15"/><circle cx="1498.89" cy="358.64" r="3.15"/><circle cx="1464.48" cy="353.6" r="3.15"/><circle cx="1403.1" cy="360.08" r="3.15"/><circle cx="1410.23" cy="397.5" r="3.15"/><circle cx="1524.46" cy="382.67" r="3.15"/><circle cx="1535.72" cy="250.39" r="3.15"/><circle cx="1487.16" cy="392.87" r="3.15"/><circle cx="1361.58" cy="344.84" r="3.15"/><circle cx="1545.03" cy="407.99" r="3.15"/><circle cx="1473.69" cy="445.49" r="3.15"/><circle cx="1451.04" cy="321.29" r="3.15"/><circle cx="1456.41" cy="354.25" r="3.15"/><circle cx="1434.06" cy="301.02" r="3.15"/><circle cx="1555.46" cy="307.55" r="3.15"/><circle cx="1551.15" cy="345.79" r="3.15"/><circle cx="1394.63" cy="400.7" r="3.15"/><circle cx="1444.48" cy="269.8" r="3.15"/><circle cx="1472.57" cy="356.97" r="3.15"/><circle cx="1527.97" cy="254.64" r="3.15"/><circle cx="1316.87" cy="332.91" r="3.15"/><circle cx="1508.31" cy="313.18" r="3.15"/><circle cx="1550.31" cy="324.74" r="3.15"/><circle cx="1436.26" cy="337.22" r="3.15"/><circle cx="1452.35" cy="367.92" r="3.15"/><circle cx="1526.12" cy="242.67" r="3.15"/><circle cx="1476.2" cy="398.84" r="3.15"/><circle cx="1378.6" cy="433.19" r="3.15"/><circle cx="1387.96" cy="346.16" r="3.15"/><circle cx="1395.75" cy="391.08" r="3.15"/><circle cx="1373.69" cy="314.27" r="3.15"/><circle cx="1454.14" cy="365.57" r="3.15"/><circle cx="1424.86" cy="302.09" r="3.15"/><circle cx="1456.82" cy="352.23" r="3.15"/><circle cx="1494.75" cy="392.2" r="3.15"/><circle cx="1556.39" cy="367.68" r="3.15"/><circle cx="1466.8" cy="323.28" r="3.15"/><circle cx="1348.14" cy="391.65" r="3.15"/><circle cx="1533.84" cy="393.21" r="3.15"/><circle cx="1447.67" cy="366.44" r="3.15"/><circle cx="1520.9" cy="339.43" r="3.15"/><circle cx="1428.72" cy="300.24" r="3.15"/><circle cx="1471.73" cy="336.51" r="3.15"/><circle cx="1446.68" cy="317.16" r="3.15"/><circle cx="1452.89" cy="366.83" r="3.15"/><circle cx="1527.19" cy="266.47" r="3.15"/><circle cx="1416.96" cy="255.55" r="3.15"/><circle cx="1463.69" cy="388.43" r="3.15"/><circle cx="1466.9" cy="345.76" r="3.15"/><circle cx="1432.15" cy="364.88" r="3.15"/><circle cx="1328.7" cy="348.74" r="3.15"/><circle cx="1474.19" cy="371.68" r="3.15"/><circle cx="1368.5" cy="423.92" r="3.15"/><circle cx="1428.06" cy="383.53" r="3.15"/><circle cx="1478.8" cy="356.32" r="3.15"/><circle cx="1503.51" cy="306.72" r="3.15"/><circle cx="1501.56" cy="329.15" r="3.15"/><circle cx="1488.37" cy="376.46" r="3.15"/><circle cx="1433.58" cy="390.72" r="3.15"/><circle cx="1523.71" cy="426.67" r="3.15"/><circle cx="1439.12" cy="326.78" r="3.15"/><circle cx="1518.36" cy="351.16" r="3.15"/><circle cx="1326.76" cy="336.08" r="3.15"/><circle cx="1399.92" cy="325.56" r="3.15"/><circle cx="1421.51" cy="334.5" r="3.15"/><circle cx="1454.26" cy="363.77" r="3.15"/><circle cx="1317.83" cy="379.45" r="3.15"/><circle cx="1500.82" cy="404.52" r="3.15"/><circle cx="1510.9" cy="386.96" r="3.15"/><circle cx="1499.33" cy="337.16" r="3.15"/><circle cx="1424.91" cy="253.81" r="3.15"/><circle cx="1537.41" cy="375.08" r="3.15"/><circle cx="1423.16" cy="350.26" r="3.15"/><circle cx="1451.06" cy="355.68" r="3.15"/><circle cx="1453.32" cy="376.49" r="3.15"/><circle cx="1445.56" cy="360.29" r="3.15"/><circle cx="1453.21" cy="372.42" r="3.15"/><circle cx="1517.85" cy="449.82" r="3.15"/><circle cx="1536.55" cy="317.75" r="3.15"/><circle cx="1535.88" cy="442.32" r="3.15"/><circle cx="1506.25" cy="386.42" r="3.15"/><circle cx="1492.53" cy="381.16" r="3.15"/><circle cx="1480.19" cy="340.44" r="3.15"/><circle cx="1554.78" cy="368.88" r="3.15"/><circle cx="1429.25" cy="387.65" r="3.15"/><circle cx="1418.3" cy="407.05" r="3.15"/><circle cx="1457.17" cy="353.21" r="3.15"/><circle cx="1359.29" cy="385.79" r="3.15"/><circle cx="1440.9" cy="400.41" r="3.15"/><circle cx="1451.07" cy="429.74" r="3.15"/><circle cx="1395.8" cy="410.25" r="3.15"/><circle cx="1421.52" cy="361.24" r="3.15"/><circle cx="1494.04" cy="439.6" r="3.15"/><circle cx="1441.28" cy="361.39" r="3.15"/><circle cx="1458.74" cy="363.05" r="3.15"/><circle cx="1513.38" cy="310.11" r="3.15"/><circle cx="1419.39" cy="402.2" r="3.15"/><circle cx="1389.18" cy="417.76" r="3.15"/><circle cx="1452.05" cy="373.36" r="3.15"/><circle cx="1478.61" cy="386.01" r="3.15"/><circle cx="1491.86" cy="310.69" r="3.15"/><circle cx="1436.51" cy="358.8" r="3.15"/><circle cx="1430.83" cy="363.93" r="3.15"/><circle cx="1405.33" cy="410.36" r="3.15"/><circle cx="1443.92" cy="352.75" r="3.15"/><circle cx="1509.43" cy="380.54" r="3.15"/><circle cx="1484.56" cy="292.54" r="3.15"/><circle cx="1500.74" cy="334.18" r="3.15"/><circle cx="1433.75" cy="302.77" r="3.15"/><circle cx="1545.43" cy="423.53" r="3.15"/><circle cx="1527.39" cy="407.74" r="3.15"/><circle cx="1453.6" cy="389.42" r="3.15"/><circle cx="1304.9" cy="406.04" r="3.15"/><circle cx="1458.2" cy="292.96" r="3.15"/><circle cx="1611.83" cy="344.64" r="3.15"/><circle cx="1451.63" cy="420.61" r="3.15"/><circle cx="1396.6" cy="384.95" r="3.15"/><circle cx="1552.09" cy="277.69" r="3.15"/><circle cx="1419.76" cy="385.62" r="3.15"/><circle cx="1483.06" cy="338.85" r="3.15"/><circle cx="1498.53" cy="449" r="3.15"/><circle cx="1370.99" cy="400.05" r="3.15"/><circle cx="1462.19" cy="376.51" r="3.15"/><circle cx="1523.01" cy="378.33" r="3.15"/><circle cx="1436.29" cy="370.34" r="3.15"/><circle cx="1492.27" cy="350.99" r="3.15"/><circle cx="1453.76" cy="314.91" r="3.15"/><circle cx="1513.69" cy="449.69" r="3.15"/><circle cx="1560.58" cy="361.56" r="3.15"/><circle cx="1392.45" cy="338.88" r="3.15"/><circle cx="1438.75" cy="359.19" r="3.15"/><circle cx="1477.6" cy="313.94" r="3.15"/><circle cx="1419.1" cy="377.32" r="3.15"/><circle cx="1408" cy="392.24" r="3.15"/><circle cx="1435.36" cy="409.64" r="3.15"/><circle cx="1439.73" cy="326.92" r="3.15"/><circle cx="1417.81" cy="432.42" r="3.15"/><circle cx="1473.91" cy="389.18" r="3.15"/><circle cx="1501.23" cy="369.44" r="3.15"/><circle cx="1497.75" cy="338.38" r="3.15"/><circle cx="1493.99" cy="381.8" r="3.15"/><circle cx="1523.23" cy="411.36" r="3.15"/><circle cx="1377.42" cy="345.94" r="3.15"/><circle cx="1448.65" cy="424.77" r="3.15"/><circle cx="1466.06" cy="404.38" r="3.15"/><circle cx="1485.24" cy="464.39" r="3.15"/><circle cx="1363.22" cy="366.67" r="3.15"/><circle cx="1562.44" cy="359.09" r="3.15"/><circle cx="1404.55" cy="456.35" r="3.15"/><circle cx="1470.33" cy="381.35" r="3.15"/><circle cx="1497.29" cy="342.83" r="3.15"/><circle cx="1517.21" cy="400.4" r="3.15"/><circle cx="1416.18" cy="452.95" r="3.15"/><circle cx="1424.42" cy="377.92" r="3.15"/><circle cx="1476.44" cy="341.91" r="3.15"/><circle cx="1488.76" cy="458.82" r="3.15"/><circle cx="1507.26" cy="329.03" r="3.15"/><circle cx="1452.11" cy="375.42" r="3.15"/><circle cx="1415.76" cy="330.28" r="3.15"/><circle cx="1379.25" cy="425.12" r="3.15"/><circle cx="1554.79" cy="322.99" r="3.15"/><circle cx="1377.05" cy="360.76" r="3.15"/><circle cx="1495.24" cy="333" r="3.15"/><circle cx="1471.24" cy="367.86" r="3.15"/><circle cx="1498.84" cy="323.23" r="3.15"/><circle cx="1509.78" cy="377.42" r="3.15"/><circle cx="1532.35" cy="388.96" r="3.15"/><circle cx="1452.11" cy="421.18" r="3.15"/><circle cx="1478.08" cy="445.07" r="3.15"/><circle cx="1344.11" cy="373.92" r="3.15"/><circle cx="1458.07" cy="387.91" r="3.15"/><circle cx="1403.76" cy="379.37" r="3.15"/><circle cx="1446.73" cy="385.83" r="3.15"/><circle cx="1526.01" cy="352.22" r="3.15"/><circle cx="1461.6" cy="369.47" r="3.15"/><circle cx="1517.68" cy="397.1" r="3.15"/><circle cx="1444.08" cy="336.63" r="3.15"/><circle cx="1478.33" cy="270.46" r="3.15"/><circle cx="1431.99" cy="414.61" r="3.15"/><circle cx="1310.51" cy="399.44" r="3.15"/><circle cx="1414.89" cy="347.32" r="3.15"/><circle cx="1440.39" cy="406.69" r="3.15"/><circle cx="1464.55" cy="322.37" r="3.15"/><circle cx="1455.75" cy="403.58" r="3.15"/><circle cx="1448.41" cy="428.48" r="3.15"/><circle cx="1509.65" cy="413.27" r="3.15"/><circle cx="1491.27" cy="318.99" r="3.15"/><circle cx="1432.98" cy="467.84" r="3.15"/><circle cx="1505.34" cy="362.14" r="3.15"/><circle cx="1439.58" cy="335.8" r="3.15"/><circle cx="1447.3" cy="351.19" r="3.15"/><circle cx="1529.96" cy="334.4" r="3.15"/><circle cx="1425.18" cy="268.65" r="3.15"/><circle cx="1371.89" cy="375.56" r="3.15"/><circle cx="1465.87" cy="312.09" r="3.15"/><circle cx="1552.28" cy="334.22" r="3.15"/><circle cx="1443.92" cy="317.38" r="3.15"/><circle cx="1450.23" cy="402.12" r="3.15"/><circle cx="1444.2" cy="312.9" r="3.15"/><circle cx="1458.86" cy="379.99" r="3.15"/><circle cx="1530.17" cy="290.63" r="3.15"/><circle cx="1567.83" cy="313.82" r="3.15"/><circle cx="1482.82" cy="359.07" r="3.15"/><circle cx="1450.06" cy="335.05" r="3.15"/><circle cx="1561.61" cy="331.94" r="3.15"/><circle cx="1461.69" cy="351.04" r="3.15"/><circle cx="1459.82" cy="234.17" r="3.15"/><circle cx="1435.7" cy="402.18" r="3.15"/><circle cx="1438.13" cy="427.26" r="3.15"/><circle cx="1469.84" cy="423.72" r="3.15"/><circle cx="1439.75" cy="373.58" r="3.15"/><circle cx="1479.97" cy="361.92" r="3.15"/><circle cx="1461.39" cy="327.85" r="3.15"/><circle cx="1487.84" cy="311.91" r="3.15"/><circle cx="1434.45" cy="349.47" r="3.15"/><circle cx="1444.8" cy="353.48" r="3.15"/><circle cx="1470.08" cy="403.8" r="3.15"/><circle cx="1460.1" cy="311.68" r="3.15"/><circle cx="1461.91" cy="293.61" r="3.15"/><circle cx="1522.87" cy="361.81" r="3.15"/><circle cx="1395.13" cy="327.94" r="3.15"/><circle cx="1345.6" cy="394.68" r="3.15"/><circle cx="1497.51" cy="358.17" r="3.15"/><circle cx="1442.43" cy="354.85" r="3.15"/><circle cx="1533.09" cy="314.17" r="3.15"/><circle cx="1451.35" cy="428.65" r="3.15"/><circle cx="1389.6" cy="359.19" r="3.15"/><circle cx="1581.18" cy="310.43" r="3.15"/><circle cx="1479.02" cy="341.69" r="3.15"/><circle cx="1430.43" cy="328.78" r="3.15"/><circle cx="1413.36" cy="480.65" r="3.15"/><circle cx="1488.19" cy="399.5" r="3.15"/><circle cx="1417.6" cy="382.25" r="3.15"/><circle cx="1478.35" cy="395.78" r="3.15"/><circle cx="1522.45" cy="469.62" r="3.15"/><circle cx="1376.98" cy="314.07" r="3.15"/><circle cx="1435.79" cy="350.55" r="3.15"/><circle cx="1483.39" cy="453.33" r="3.15"/><circle cx="1550.67" cy="380.87" r="3.15"/><circle cx="1509.03" cy="358.1" r="3.15"/><circle cx="1430.13" cy="317.94" r="3.15"/><circle cx="1539.31" cy="326.86" r="3.15"/><circle cx="1435.59" cy="412.49" r="3.15"/><circle cx="1446.74" cy="394.96" r="3.15"/><circle cx="1477.5" cy="351.45" r="3.15"/><circle cx="1393.58" cy="319.25" r="3.15"/><circle cx="1524.16" cy="390.72" r="3.15"/><circle cx="1468.4" cy="335.57" r="3.15"/><circle cx="1423.51" cy="358.88" r="3.15"/><circle cx="1389.86" cy="301.69" r="3.15"/><circle cx="1477.05" cy="340.03" r="3.15"/><circle cx="1495.42" cy="314.51" r="3.15"/><circle cx="1433.13" cy="459.73" r="3.15"/><circle cx="1444.72" cy="430.24" r="3.15"/><circle cx="1487.55" cy="436.64" r="3.15"/><circle cx="1452.36" cy="398.16" r="3.15"/><circle cx="1350.11" cy="353.58" r="3.15"/><circle cx="1493.72" cy="376.96" r="3.15"/><circle cx="1469.65" cy="340.73" r="3.15"/><circle cx="1497.34" cy="400.29" r="3.15"/><circle cx="1412.71" cy="321.21" r="3.15"/><circle cx="1334.66" cy="331.1" r="3.15"/><circle cx="1384.61" cy="452.93" r="3.15"/><circle cx="1472.68" cy="417.15" r="3.15"/><circle cx="1574.11" cy="390.88" r="3.15"/><circle cx="1589.71" cy="321.1" r="3.15"/><circle cx="1472.92" cy="328.7" r="3.15"/><circle cx="1372.61" cy="284.76" r="3.15"/><circle cx="1436.48" cy="440.81" r="3.15"/><circle cx="1481.09" cy="355.78" r="3.15"/><circle cx="1480.49" cy="367.26" r="3.15"/><circle cx="1461.01" cy="381.03" r="3.15"/><circle cx="1531.89" cy="370.96" r="3.15"/><circle cx="1404.38" cy="470.49" r="3.15"/><circle cx="1332.19" cy="360.08" r="3.15"/><circle cx="1405.6" cy="391.14" r="3.15"/><circle cx="1389.39" cy="432.34" r="3.15"/><circle cx="1582.81" cy="294.36" r="3.15"/><circle cx="1444.97" cy="402.65" r="3.15"/><circle cx="1374.2" cy="361.43" r="3.15"/><circle cx="1490.71" cy="400.59" r="3.15"/><circle cx="1512.92" cy="441.14" r="3.15"/><circle cx="1458.6" cy="391.09" r="3.15"/><circle cx="1466.54" cy="353.24" r="3.15"/><circle cx="1513.88" cy="414.85" r="3.15"/><circle cx="1484.88" cy="343.22" r="3.15"/><circle cx="1415.69" cy="288.3" r="3.15"/><circle cx="1489.11" cy="309.52" r="3.15"/><circle cx="1508.46" cy="381.06" r="3.15"/><circle cx="1475.03" cy="405.82" r="3.15"/><circle cx="1505.27" cy="321.42" r="3.15"/><circle cx="1488.84" cy="433.98" r="3.15"/><circle cx="1442.06" cy="418.93" r="3.15"/><circle cx="1447.15" cy="284.43" r="3.15"/><circle cx="1490.47" cy="347.13" r="3.15"/><circle cx="1423.96" cy="344.65" r="3.15"/><circle cx="1521.11" cy="377.53" r="3.15"/><circle cx="1451.48" cy="372.83" r="3.15"/><circle cx="1412.68" cy="326.78" r="3.15"/><circle cx="1419.32" cy="380.29" r="3.15"/><circle cx="1463.7" cy="341.64" r="3.15"/><circle cx="1445.79" cy="299.62" r="3.15"/><circle cx="1487.61" cy="299.98" r="3.15"/><circle cx="1473.75" cy="374.43" r="3.15"/><circle cx="1476.53" cy="342.79" r="3.15"/><circle cx="1435.56" cy="316.92" r="3.15"/><circle cx="1538.5" cy="288.79" r="3.15"/><circle cx="1314.14" cy="341.3" r="3.15"/><circle cx="1553.25" cy="362.68" r="3.15"/><circle cx="1423.43" cy="417.32" r="3.15"/><circle cx="1522.57" cy="406.88" r="3.15"/><circle cx="1431.52" cy="416.85" r="3.15"/><circle cx="1503.71" cy="403.19" r="3.15"/><circle cx="1463.9" cy="326.62" r="3.15"/><circle cx="1513.23" cy="441.14" r="3.15"/><circle cx="1405.51" cy="344.7" r="3.15"/><circle cx="1423.48" cy="460.38" r="3.15"/><circle cx="1418.1" cy="237.27" r="3.15"/><circle cx="1484.27" cy="389.65" r="3.15"/><circle cx="1481.7" cy="354.15" r="3.15"/><circle cx="1448.37" cy="277.29" r="3.15"/><circle cx="1440.31" cy="373.04" r="3.15"/><circle cx="1438.72" cy="358.74" r="3.15"/><circle cx="1460.31" cy="355.47" r="3.15"/><circle cx="1401.33" cy="338.08" r="3.15"/><circle cx="1452.11" cy="387.47" r="3.15"/><circle cx="1447.16" cy="277.41" r="3.15"/><circle cx="1424.59" cy="308.21" r="3.15"/><circle cx="1422.88" cy="357.31" r="3.15"/><circle cx="1539.51" cy="298.76" r="3.15"/><circle cx="1420.35" cy="369.36" r="3.15"/><circle cx="1478.83" cy="387.4" r="3.15"/><circle cx="1533.28" cy="364.09" r="3.15"/><circle cx="1497.53" cy="337.76" r="3.15"/><circle cx="1456.5" cy="438.32" r="3.15"/><circle cx="1513.1" cy="375.9" r="3.15"/><circle cx="1374.13" cy="344.64" r="3.15"/><circle cx="1385.23" cy="420.21" r="3.15"/><circle cx="1432.76" cy="347.88" r="3.15"/><circle cx="1442.8" cy="417.81" r="3.15"/><circle cx="1449.9" cy="353.63" r="3.15"/><circle cx="1562.44" cy="361.71" r="3.15"/><circle cx="1551.51" cy="341.81" r="3.15"/><circle cx="1453.17" cy="399.4" r="3.15"/><circle cx="1469.88" cy="459.65" r="3.15"/><circle cx="1403.65" cy="493.54" r="3.15"/><circle cx="1378.86" cy="439.69" r="3.15"/><circle cx="1535.07" cy="403.07" r="3.15"/><circle cx="1425.76" cy="447.08" r="3.15"/><circle cx="1487.1" cy="294.57" r="3.15"/><circle cx="1380.91" cy="332.48" r="3.15"/><circle cx="1534.59" cy="318.52" r="3.15"/><circle cx="1490.16" cy="418.74" r="3.15"/><circle cx="1566.97" cy="308.92" r="3.15"/><circle cx="1459.21" cy="401.74" r="3.15"/><circle cx="1363.04" cy="307.86" r="3.15"/><circle cx="1410.64" cy="370.92" r="3.15"/><circle cx="1383.79" cy="481.45" r="3.15"/><circle cx="1545.24" cy="365.77" r="3.15"/><circle cx="1419.74" cy="409.83" r="3.15"/><circle cx="1412.44" cy="247.67" r="3.15"/><circle cx="1489.25" cy="428.89" r="3.15"/><circle cx="1470.5" cy="379.26" r="3.15"/><circle cx="1483.39" cy="377.96" r="3.15"/><circle cx="1426.72" cy="408.43" r="3.15"/><circle cx="1341.48" cy="407.2" r="3.15"/><circle cx="1377.88" cy="372.17" r="3.15"/><circle cx="1330.21" cy="354.65" r="3.15"/><circle cx="1528.28" cy="383.55" r="3.15"/><circle cx="1507.17" cy="376.9" r="3.15"/><circle cx="1434" cy="367.15" r="3.15"/><circle cx="1490.87" cy="411.53" r="3.15"/><circle cx="1493.69" cy="376.25" r="3.15"/><circle cx="1491.58" cy="363.03" r="3.15"/><circle cx="1485.65" cy="314.27" r="3.15"/><circle cx="1505.71" cy="330.51" r="3.15"/><circle cx="1460.03" cy="341.78" r="3.15"/><circle cx="1328.83" cy="327.36" r="3.15"/><circle cx="1527.42" cy="307.42" r="3.15"/><circle cx="1489.39" cy="383.43" r="3.15"/><circle cx="1312.12" cy="380.82" r="3.15"/><circle cx="1465.29" cy="386.65" r="3.15"/><circle cx="1405.27" cy="336.94" r="3.15"/><circle cx="1424.12" cy="400.15" r="3.15"/><circle cx="1306.96" cy="345.55" r="3.15"/><circle cx="1499.33" cy="382.36" r="3.15"/><circle cx="1450.54" cy="392.36" r="3.15"/><circle cx="1501.92" cy="345.84" r="3.15"/><circle cx="1517.44" cy="406.72" r="3.15"/><circle cx="1528.86" cy="305.59" r="3.15"/><circle cx="1549.37" cy="398.49" r="3.15"/><circle cx="1472.03" cy="390.69" r="3.15"/><circle cx="1467.77" cy="308.72" r="3.15"/><circle cx="1418.95" cy="442.53" r="3.15"/><circle cx="1485.53" cy="322.7" r="3.15"/><circle cx="1441.77" cy="365.78" r="3.15"/><circle cx="1388.26" cy="367.25" r="3.15"/><circle cx="1523.94" cy="355.65" r="3.15"/><circle cx="1496.19" cy="411.3" r="3.15"/><circle cx="1349.02" cy="347.44" r="3.15"/><circle cx="1442.9" cy="337.39" r="3.15"/><circle cx="1378.79" cy="332.83" r="3.15"/><circle cx="1525.73" cy="318.12" r="3.15"/><circle cx="1466.09" cy="353.24" r="3.15"/><circle cx="1488.34" cy="413.51" r="3.15"/><circle cx="1509.47" cy="429.56" r="3.15"/><circle cx="1532.56" cy="432.06" r="3.15"/><circle cx="1440.19" cy="392.33" r="3.15"/><circle cx="1491.83" cy="318.97" r="3.15"/><circle cx="1470.59" cy="432.63" r="3.15"/><circle cx="1501.94" cy="384.6" r="3.15"/><circle cx="1488.02" cy="339.2" r="3.15"/><circle cx="1537.77" cy="382.73" r="3.15"/><circle cx="1487.01" cy="381.56" r="3.15"/><circle cx="1428.76" cy="423.88" r="3.15"/><circle cx="1463.13" cy="361.98" r="3.15"/><circle cx="1391.17" cy="402.2" r="3.15"/><circle cx="1474.59" cy="403.98" r="3.15"/><circle cx="1542.91" cy="386.29" r="3.15"/><circle cx="1421.6" cy="354.5" r="3.15"/><circle cx="1361.55" cy="328.08" r="3.15"/><circle cx="1451.71" cy="427.45" r="3.15"/><circle cx="1427.29" cy="348.44" r="3.15"/><circle cx="1456.22" cy="424.9" r="3.15"/><circle cx="1422.37" cy="463.56" r="3.15"/><circle cx="1460.8" cy="403.39" r="3.15"/><circle cx="1397.92" cy="371.15" r="3.15"/><circle cx="1545.37" cy="369.56" r="3.15"/><circle cx="1443.32" cy="353.52" r="3.15"/><circle cx="1485.81" cy="468.21" r="3.15"/><circle cx="1499.94" cy="301.16" r="3.15"/><circle cx="1447.59" cy="331.34" r="3.15"/><circle cx="1482.32" cy="337.33" r="3.15"/><circle cx="1442.19" cy="449.33" r="3.15"/><circle cx="1430.73" cy="349.88" r="3.15"/><circle cx="1443.55" cy="395.93" r="3.15"/><circle cx="1484.4" cy="393.06" r="3.15"/><circle cx="1383.71" cy="373.5" r="3.15"/><circle cx="1404.42" cy="450.81" r="3.15"/><circle cx="1410.35" cy="320.1" r="3.15"/><circle cx="1423.95" cy="322.4" r="3.15"/><circle cx="1522.75" cy="328.19" r="3.15"/><circle cx="1454.63" cy="302.16" r="3.15"/><circle cx="1438.89" cy="453.37" r="3.15"/><circle cx="1464.71" cy="384.12" r="3.15"/><circle cx="1517.22" cy="383.63" r="3.15"/><circle cx="1413.58" cy="432.39" r="3.15"/><circle cx="1515.15" cy="327.54" r="3.15"/><circle cx="1405.81" cy="423.09" r="3.15"/><circle cx="1541.15" cy="337.49" r="3.15"/><circle cx="1545.85" cy="361.33" r="3.15"/><circle cx="1467.97" cy="361.25" r="3.15"/><circle cx="1432.65" cy="365.25" r="3.15"/><circle cx="1504.32" cy="333.53" r="3.15"/><circle cx="1433.71" cy="400.46" r="3.15"/><circle cx="1545.84" cy="384.12" r="3.15"/><circle cx="1525.04" cy="285.45" r="3.15"/><circle cx="1501.42" cy="366.14" r="3.15"/><circle cx="1409.2" cy="371.48" r="3.15"/><circle cx="1513.23" cy="451.01" r="3.15"/><circle cx="1443.38" cy="346.77" r="3.15"/><circle cx="1444.35" cy="339.81" r="3.15"/><circle cx="1433.64" cy="356.87" r="3.15"/><circle cx="1451.08" cy="293.21" r="3.15"/><circle cx="1486.53" cy="463.53" r="3.15"/><circle cx="1506.46" cy="323.71" r="3.15"/><circle cx="1506.62" cy="445.62" r="3.15"/><circle cx="1438.8" cy="466.75" r="3.15"/><circle cx="1524.83" cy="327.01" r="3.15"/><circle cx="1420.68" cy="378.13" r="3.15"/><circle cx="1447.56" cy="392.15" r="3.15"/><circle cx="1392.22" cy="372.12" r="3.15"/><circle cx="1528.12" cy="469.02" r="3.15"/><circle cx="1473.82" cy="400.12" r="3.15"/><circle cx="1466.5" cy="361.38" r="3.15"/><circle cx="1452.4" cy="400.59" r="3.15"/><circle cx="1512" cy="372.23" r="3.15"/><circle cx="1430.74" cy="449.51" r="3.15"/><circle cx="1482.21" cy="362.72" r="3.15"/><circle cx="1603.51" cy="379.86" r="3.15"/><circle cx="1451.31" cy="362.1" r="3.15"/><circle cx="1423.78" cy="298.62" r="3.15"/><circle cx="1401.66" cy="371.49" r="3.15"/><circle cx="1506.2" cy="399.38" r="3.15"/><circle cx="1463.58" cy="353.71" r="3.15"/><circle cx="1416.68" cy="428.56" r="3.15"/><circle cx="1412.13" cy="296.03" r="3.15"/><circle cx="1461.53" cy="372.63" r="3.15"/><circle cx="1402.51" cy="375.1" r="3.15"/><circle cx="1579.94" cy="343.52" r="3.15"/><circle cx="1448.86" cy="434.47" r="3.15"/><circle cx="1449.67" cy="374.88" r="3.15"/><circle cx="1454.63" cy="384.85" r="3.15"/><circle cx="1356.17" cy="275.17" r="3.15"/><circle cx="1376.89" cy="308.31" r="3.15"/><circle cx="1439.17" cy="286.64" r="3.15"/><circle cx="1458.5" cy="371.86" r="3.15"/><circle cx="1389.04" cy="370.09" r="3.15"/><circle cx="1557.01" cy="318.44" r="3.15"/><circle cx="1486.09" cy="405.72" r="3.15"/><circle cx="1533.96" cy="414.96" r="3.15"/><circle cx="1527.04" cy="295.6" r="3.15"/><circle cx="1447.15" cy="351.76" r="3.15"/><circle cx="1599.46" cy="344.64" r="3.15"/><circle cx="1467.07" cy="456.34" r="3.15"/><circle cx="1352.09" cy="400.09" r="3.15"/><circle cx="1326.33" cy="403.25" r="3.15"/><circle cx="1460.2" cy="408.39" r="3.15"/><circle cx="1509.92" cy="356.3" r="3.15"/><circle cx="1464.1" cy="418.61" r="3.15"/><circle cx="1559.32" cy="426.39" r="3.15"/><circle cx="1442.93" cy="281.02" r="3.15"/><circle cx="1492.38" cy="349.52" r="3.15"/><circle cx="1502.13" cy="421.67" r="3.15"/><circle cx="1401.15" cy="274.21" r="3.15"/><circle cx="1477.64" cy="345.59" r="3.15"/><circle cx="1480.94" cy="355.2" r="3.15"/><circle cx="1529.27" cy="297.34" r="3.15"/><circle cx="1516.35" cy="361.18" r="3.15"/><circle cx="1416.52" cy="314.3" r="3.15"/><circle cx="1501.95" cy="286.5" r="3.15"/><circle cx="1521.24" cy="430.11" r="3.15"/><circle cx="1461.96" cy="280.54" r="3.15"/><circle cx="1502.8" cy="327.98" r="3.15"/><circle cx="1503.84" cy="362.44" r="3.15"/><circle cx="1527.44" cy="476.99" r="3.15"/><circle cx="1464.19" cy="274.48" r="3.15"/><circle cx="1487.01" cy="352.34" r="3.15"/><circle cx="1471" cy="338.79" r="3.15"/><circle cx="1463.48" cy="426.03" r="3.15"/><circle cx="1424.56" cy="341.23" r="3.15"/><circle cx="1440.53" cy="342.19" r="3.15"/><circle cx="1395.57" cy="299.67" r="3.15"/><circle cx="1448.28" cy="414.03" r="3.15"/><circle cx="1498.74" cy="471.91" r="3.15"/><circle cx="1494.75" cy="397.05" r="3.15"/><circle cx="1502.08" cy="415.14" r="3.15"/><circle cx="1452.99" cy="356.58" r="3.15"/><circle cx="1538.66" cy="373.24" r="3.15"/><circle cx="1433.26" cy="360.57" r="3.15"/><circle cx="1503.02" cy="305.8" r="3.15"/><circle cx="1483.08" cy="286.77" r="3.15"/><circle cx="1416.76" cy="368.6" r="3.15"/><circle cx="1419.11" cy="447.83" r="3.15"/><circle cx="1501.85" cy="368.17" r="3.15"/><circle cx="1461.44" cy="379.62" r="3.15"/><circle cx="1474.77" cy="373.35" r="3.15"/><circle cx="1491.62" cy="370.32" r="3.15"/><circle cx="1466.27" cy="476.14" r="3.15"/><circle cx="1501.33" cy="342.65" r="3.15"/><circle cx="1425.26" cy="348.6" r="3.15"/><circle cx="1449.49" cy="355.76" r="3.15"/><circle cx="1484.82" cy="376.24" r="3.15"/><circle cx="1413" cy="331.08" r="3.15"/><circle cx="1457.78" cy="453.42" r="3.15"/><circle cx="1449.02" cy="378.04" r="3.15"/><circle cx="1465.75" cy="344.35" r="3.15"/><circle cx="1359.02" cy="399.3" r="3.15"/><circle cx="1560.51" cy="371.54" r="3.15"/><circle cx="1454.66" cy="324.86" r="3.15"/><circle cx="1490.91" cy="379.86" r="3.15"/><circle cx="1400.68" cy="418.3" r="3.15"/><circle cx="1385.29" cy="399.9" r="3.15"/><circle cx="1461.15" cy="355.8" r="3.15"/><circle cx="1441.31" cy="424.24" r="3.15"/><circle cx="1496.69" cy="371.08" r="3.15"/><circle cx="1407.12" cy="395.3" r="3.15"/><circle cx="1403.65" cy="373.4" r="3.15"/><circle cx="1478.67" cy="336.5" r="3.15"/><circle cx="1499.51" cy="336.58" r="3.15"/><circle cx="1512.21" cy="367.63" r="3.15"/><circle cx="1457.97" cy="362.72" r="3.15"/><circle cx="1474.66" cy="335.23" r="3.15"/><circle cx="1414.42" cy="412.53" r="3.15"/><circle cx="1534.68" cy="362.17" r="3.15"/><circle cx="1524.61" cy="424.73" r="3.15"/><circle cx="1522.77" cy="311.04" r="3.15"/><circle cx="1368.32" cy="372.57" r="3.15"/><circle cx="1509.71" cy="431.65" r="3.15"/><circle cx="1418.01" cy="397.72" r="3.15"/><circle cx="1487.57" cy="335.71" r="3.15"/><circle cx="1483.96" cy="358.12" r="3.15"/><circle cx="1528.91" cy="447.92" r="3.15"/><circle cx="1448.61" cy="289.71" r="3.15"/><circle cx="1439.92" cy="362.52" r="3.15"/><circle cx="1401.99" cy="357.06" r="3.15"/><circle cx="1391.87" cy="389.99" r="3.15"/><circle cx="1492.29" cy="408.93" r="3.15"/><circle cx="1407.55" cy="446" r="3.15"/><circle cx="1497.32" cy="362.71" r="3.15"/><circle cx="1437.42" cy="373.84" r="3.15"/><circle cx="1426.76" cy="385.47" r="3.15"/><circle cx="1513.58" cy="333.18" r="3.15"/><circle cx="1507.84" cy="354.08" r="3.15"/><circle cx="1402.59" cy="422.94" r="3.15"/><circle cx="1449.21" cy="391.44" r="3.15"/><circle cx="1458.27" cy="318.33" r="3.15"/><circle cx="1496.59" cy="435.03" r="3.15"/><circle cx="1416.89" cy="272.14" r="3.15"/><circle cx="1434.92" cy="398.36" r="3.15"/><circle cx="1452.14" cy="249.31" r="3.15"/><circle cx="1497.95" cy="347.96" r="3.15"/><circle cx="1509.34" cy="444.25" r="3.15"/><circle cx="1427.78" cy="350.66" r="3.15"/><circle cx="1558.29" cy="361.58" r="3.15"/><circle cx="1482.62" cy="389.52" r="3.15"/><circle cx="1413.19" cy="370.03" r="3.15"/><circle cx="1370.24" cy="371.94" r="3.15"/><circle cx="1323.15" cy="341.82" r="3.15"/><circle cx="1468.74" cy="383.48" r="3.15"/><circle cx="1490.01" cy="367.7" r="3.15"/><circle cx="1530.53" cy="332.92" r="3.15"/><circle cx="1486.59" cy="369.13" r="3.15"/><circle cx="1360.99" cy="433" r="3.15"/><circle cx="1442.13" cy="332.02" r="3.15"/><circle cx="1497.88" cy="383.39" r="3.15"/><circle cx="1334.74" cy="364.77" r="3.15"/><circle cx="1411.42" cy="406.34" r="3.15"/><circle cx="1493.64" cy="375.7" r="3.15"/><circle cx="1461.24" cy="416.87" r="3.15"/><circle cx="1343.85" cy="300.56" r="3.15"/><circle cx="1429.37" cy="421.46" r="3.15"/><circle cx="1459.27" cy="323.94" r="3.15"/><circle cx="1433.11" cy="358.9" r="3.15"/><circle cx="1406.51" cy="385.75" r="3.15"/><circle cx="1472.06" cy="322.21" r="3.15"/><circle cx="1477.14" cy="357.67" r="3.15"/><circle cx="1490.49" cy="259.96" r="3.15"/><circle cx="1454.43" cy="395.58" r="3.15"/><circle cx="1380.14" cy="340.14" r="3.15"/><circle cx="1460.57" cy="414.24" r="3.15"/><circle cx="1459.21" cy="415.28" r="3.15"/><circle cx="1513.31" cy="369.41" r="3.15"/><circle cx="1506.08" cy="324.52" r="3.15"/><circle cx="1416.5" cy="339.84" r="3.15"/><circle cx="1502.07" cy="375.5" r="3.15"/><circle cx="1515.21" cy="312.7" r="3.15"/><circle cx="1447.67" cy="425.3" r="3.15"/><circle cx="1512.22" cy="409.11" r="3.15"/><circle cx="1467.85" cy="371.71" r="3.15"/><circle cx="1468.52" cy="454.63" r="3.15"/><circle cx="1450.02" cy="304.73" r="3.15"/><circle cx="1504.11" cy="372.57" r="3.15"/><circle cx="1471.35" cy="346.66" r="3.15"/><circle cx="1392.31" cy="435.2" r="3.15"/><circle cx="1445.3" cy="374.05" r="3.15"/><circle cx="1425.37" cy="450.56" r="3.15"/><circle cx="1476.85" cy="374.77" r="3.15"/><circle cx="1450.52" cy="362.27" r="3.15"/><circle cx="1500.88" cy="365.12" r="3.15"/><circle cx="1564.24" cy="297.91" r="3.15"/><circle cx="1418.28" cy="369.95" r="3.15"/><circle cx="1446.47" cy="445.24" r="3.15"/><circle cx="1575.5" cy="325.79" r="3.15"/><circle cx="1363.1" cy="368.55" r="3.15"/><circle cx="1466.52" cy="394.69" r="3.15"/><circle cx="1370.32" cy="327.32" r="3.15"/><circle cx="1545.89" cy="413.67" r="3.15"/><circle cx="1377.9" cy="389.75" r="3.15"/><circle cx="1441.1" cy="334.65" r="3.15"/><circle cx="1448.22" cy="327.67" r="3.15"/><circle cx="1362.32" cy="403.51" r="3.15"/><circle cx="1598.87" cy="346.52" r="3.15"/><circle cx="1448.72" cy="364.32" r="3.15"/><circle cx="1551.99" cy="333.51" r="3.15"/><circle cx="1418.72" cy="380.59" r="3.15"/><circle cx="1374.8" cy="472.83" r="3.15"/><circle cx="1470.48" cy="384.81" r="3.15"/><circle cx="1468.92" cy="295.01" r="3.15"/><circle cx="1397.99" cy="380.35" r="3.15"/><circle cx="1369.1" cy="332.54" r="3.15"/><circle cx="1417.83" cy="380.63" r="3.15"/><circle cx="1475.26" cy="418.71" r="3.15"/><circle cx="1490.1" cy="367.61" r="3.15"/><circle cx="1415.41" cy="379.23" r="3.15"/><circle cx="1438.06" cy="410.27" r="3.15"/><circle cx="1488.96" cy="373.84" r="3.15"/><circle cx="1519.85" cy="431.09" r="3.15"/><circle cx="1423.88" cy="444.25" r="3.15"/><circle cx="1465.16" cy="421.38" r="3.15"/><circle cx="1300.3" cy="384.26" r="3.15"/><circle cx="1402.43" cy="370.25" r="3.15"/><circle cx="1482" cy="395.38" r="3.15"/><circle cx="1456.86" cy="315.81" r="3.15"/><circle cx="1447.01" cy="339.61" r="3.15"/><circle cx="1549.33" cy="360.82" r="3.15"/><circle cx="1441.06" cy="314.08" r="3.15"/><circle cx="1395.16" cy="299.37" r="3.15"/><circle cx="1469.47" cy="332.98" r="3.15"/><circle cx="1469.31" cy="393.57" r="3.15"/><circle cx="1392.27" cy="329.73" r="3.15"/><circle cx="1514.58" cy="307.74" r="3.15"/><circle cx="1554.61" cy="342.31" r="3.15"/><circle cx="1423.88" cy="373.76" r="3.15"/><circle cx="1407.74" cy="356.04" r="3.15"/><circle cx="1452.75" cy="350.86" r="3.15"/><circle cx="1528.49" cy="450.75" r="3.15"/><circle cx="1425.36" cy="292.72" r="3.15"/><circle cx="1415.88" cy="366.28" r="3.15"/><circle cx="1423.81" cy="273.31" r="3.15"/><circle cx="1471.21" cy="362.58" r="3.15"/><circle cx="1469.72" cy="404.38" r="3.15"/><circle cx="1447.81" cy="327.46" r="3.15"/><circle cx="1526.09" cy="358.98" r="3.15"/><circle cx="1585.79" cy="317.88" r="3.15"/><circle cx="1424.61" cy="388.76" r="3.15"/><circle cx="1516.87" cy="385.33" r="3.15"/><circle cx="1473.05" cy="398.28" r="3.15"/><circle cx="1407.47" cy="348.87" r="3.15"/><circle cx="1438" cy="428.1" r="3.15"/><circle cx="1463.64" cy="357.88" r="3.15"/><circle cx="1376.34" cy="318.68" r="3.15"/><circle cx="1445.63" cy="413.27" r="3.15"/><circle cx="1498.27" cy="375.83" r="3.15"/><circle cx="1375.17" cy="408.25" r="3.15"/><circle cx="1464.91" cy="385.36" r="3.15"/><circle cx="1559.46" cy="355.69" r="3.15"/><circle cx="1423.49" cy="336.08" r="3.15"/><circle cx="1406.37" cy="327.85" r="3.15"/><circle cx="1313.14" cy="406.4" r="3.15"/><circle cx="1451.34" cy="335.8" r="3.15"/><circle cx="1364.75" cy="401.82" r="3.15"/><circle cx="1489.33" cy="421.39" r="3.15"/><circle cx="1551.32" cy="409.65" r="3.15"/><circle cx="1489.35" cy="459.43" r="3.15"/><circle cx="1412.35" cy="368.62" r="3.15"/><circle cx="1494.79" cy="454.45" r="3.15"/><circle cx="1430.66" cy="360.43" r="3.15"/><circle cx="1393.08" cy="245.44" r="3.15"/><circle cx="1428.96" cy="414.23" r="3.15"/><circle cx="1471.1" cy="467.96" r="3.15"/><circle cx="1436.63" cy="351.93" r="3.15"/><circle cx="1487.49" cy="417.11" r="3.15"/><circle cx="1579.74" cy="364.72" r="3.15"/><circle cx="1492.38" cy="367.17" r="3.15"/><circle cx="1500.47" cy="355.59" r="3.15"/><circle cx="1419.38" cy="260.78" r="3.15"/><circle cx="1533.24" cy="349.65" r="3.15"/><circle cx="1477.46" cy="354.59" r="3.15"/><circle cx="1514.9" cy="369.74" r="3.15"/><circle cx="1412.9" cy="404.8" r="3.15"/><circle cx="1470.57" cy="396.95" r="3.15"/><circle cx="1323.07" cy="424.44" r="3.15"/><circle cx="1436.76" cy="327.07" r="3.15"/><circle cx="1408.98" cy="376.97" r="3.15"/><circle cx="1399.7" cy="337.9" r="3.15"/><circle cx="1555.89" cy="346.49" r="3.15"/><circle cx="1369.47" cy="264.11" r="3.15"/><circle cx="1448.4" cy="371.39" r="3.15"/><circle cx="1448.79" cy="337.19" r="3.15"/><circle cx="1487.15" cy="393.77" r="3.15"/><circle cx="1514.39" cy="307.95" r="3.15"/><circle cx="1365.32" cy="379.52" r="3.15"/><circle cx="1425.86" cy="365.19" r="3.15"/><circle cx="1416.57" cy="432.74" r="3.15"/><circle cx="1496.43" cy="336.62" r="3.15"/><circle cx="1510.04" cy="282.76" r="3.15"/><circle cx="1433.19" cy="301.12" r="3.15"/><circle cx="1425.61" cy="418.12" r="3.15"/><circle cx="1398.75" cy="324.81" r="3.15"/><circle cx="1477.3" cy="397.28" r="3.15"/><circle cx="1551.48" cy="438.71" r="3.15"/><circle cx="1477.91" cy="423.07" r="3.15"/><circle cx="1416.26" cy="306.13" r="3.15"/><circle cx="1408.8" cy="381.52" r="3.15"/><circle cx="1415.62" cy="424.4" r="3.15"/><circle cx="1362.24" cy="351.79" r="3.15"/><circle cx="1555.03" cy="343.71" r="3.15"/><circle cx="1460.31" cy="378.79" r="3.15"/><circle cx="1437.24" cy="341.57" r="3.15"/><circle cx="1583.55" cy="376.01" r="3.15"/><circle cx="1468.72" cy="304.42" r="3.15"/><circle cx="1540.65" cy="323.19" r="3.15"/><circle cx="1471.53" cy="366.58" r="3.15"/><circle cx="1518.83" cy="344.24" r="3.15"/><circle cx="1460.14" cy="321.1" r="3.15"/><circle cx="1435.05" cy="370.57" r="3.15"/><circle cx="1479.4" cy="338.45" r="3.15"/><circle cx="1496.84" cy="368.64" r="3.15"/><circle cx="1518.08" cy="377.55" r="3.15"/><circle cx="1467.42" cy="456.15" r="3.15"/><circle cx="1441.72" cy="425.96" r="3.15"/><circle cx="1434.79" cy="415.39" r="3.15"/><circle cx="1473.53" cy="362.76" r="3.15"/><circle cx="1428.16" cy="241.85" r="3.15"/><circle cx="1437.26" cy="412.82" r="3.15"/><circle cx="1486.79" cy="386.68" r="3.15"/><circle cx="1489.35" cy="427.26" r="3.15"/><circle cx="1484.67" cy="384.67" r="3.15"/><circle cx="1413.33" cy="380.52" r="3.15"/><circle cx="1373.7" cy="338.46" r="3.15"/><circle cx="1471.56" cy="433.61" r="3.15"/><circle cx="1462.43" cy="343.51" r="3.15"/><circle cx="1434.27" cy="357.12" r="3.15"/><circle cx="1467.69" cy="381.8" r="3.15"/><circle cx="1504.29" cy="425.39" r="3.15"/><circle cx="1444.37" cy="419.43" r="3.15"/><circle cx="1478.61" cy="376.87" r="3.15"/><circle cx="1400.14" cy="343.48" r="3.15"/><circle cx="1443.32" cy="373.85" r="3.15"/><circle cx="1408.49" cy="406.95" r="3.15"/><circle cx="1373.36" cy="358.66" r="3.15"/><circle cx="1480.58" cy="417.2" r="3.15"/><circle cx="1500.06" cy="393.64" r="3.15"/><circle cx="1478.47" cy="316.9" r="3.15"/><circle cx="1367.41" cy="418.73" r="3.15"/><circle cx="1469.4" cy="362.83" r="3.15"/><circle cx="1351.34" cy="346.88" r="3.15"/><circle cx="1405.16" cy="311.74" r="3.15"/><circle cx="1537.19" cy="361.95" r="3.15"/><circle cx="1464.64" cy="301.73" r="3.15"/><circle cx="1522.63" cy="425.03" r="3.15"/><circle cx="1393.04" cy="380.41" r="3.15"/><circle cx="1337.02" cy="373.13" r="3.15"/><circle cx="1412.76" cy="364.93" r="3.15"/><circle cx="1528.55" cy="369.79" r="3.15"/><circle cx="1508.07" cy="275.33" r="3.15"/><circle cx="1516.5" cy="382.59" r="3.15"/><circle cx="1447.13" cy="318.47" r="3.15"/><circle cx="1450.42" cy="346.47" r="3.15"/><circle cx="1444.06" cy="268.23" r="3.15"/><circle cx="1460.64" cy="331.33" r="3.15"/><circle cx="1556.34" cy="333.55" r="3.15"/><circle cx="1534.36" cy="342.42" r="3.15"/><circle cx="1394.03" cy="318.38" r="3.15"/><circle cx="1427.17" cy="292.93" r="3.15"/><circle cx="1476.16" cy="415.57" r="3.15"/><circle cx="1423.33" cy="376.27" r="3.15"/><circle cx="1432.64" cy="306.85" r="3.15"/><circle cx="1446.86" cy="419.45" r="3.15"/><circle cx="1425.21" cy="405.09" r="3.15"/><circle cx="1544.57" cy="331.87" r="3.15"/><circle cx="1520.7" cy="328.3" r="3.15"/><circle cx="1376.34" cy="303.56" r="3.15"/><circle cx="1553.93" cy="305.3" r="3.15"/><circle cx="1454.05" cy="354.15" r="3.15"/><circle cx="1454.54" cy="414.77" r="3.15"/><circle cx="1446.85" cy="395.83" r="3.15"/><circle cx="1506.18" cy="361.71" r="3.15"/><circle cx="1496.97" cy="343.8" r="3.15"/><circle cx="1426.55" cy="362.73" r="3.15"/><circle cx="1459.38" cy="324.95" r="3.15"/><circle cx="1381.83" cy="403.6" r="3.15"/><circle cx="1562.34" cy="379.17" r="3.15"/><circle cx="1407.93" cy="428.38" r="3.15"/><circle cx="1405.93" cy="268.67" r="3.15"/><circle cx="1415.72" cy="372.93" r="3.15"/><circle cx="1464.59" cy="315.41" r="3.15"/><circle cx="1499.47" cy="299.67" r="3.15"/><circle cx="1436.49" cy="346.52" r="3.15"/><circle cx="1458.26" cy="371.51" r="3.15"/><circle cx="1437.42" cy="387.72" r="3.15"/><circle cx="1530.39" cy="371.63" r="3.15"/><circle cx="1469.93" cy="445.55" r="3.15"/><circle cx="1360.15" cy="393.09" r="3.15"/><circle cx="1541.13" cy="321.58" r="3.15"/><circle cx="1476.14" cy="347.52" r="3.15"/><circle cx="1566.96" cy="316.98" r="3.15"/><circle cx="1422.1" cy="325.42" r="3.15"/><circle cx="1428.79" cy="329.47" r="3.15"/><circle cx="1447.11" cy="357.35" r="3.15"/><circle cx="1376.92" cy="356.98" r="3.15"/><circle cx="1436.04" cy="318.78" r="3.15"/><circle cx="1528.85" cy="376.58" r="3.15"/><circle cx="1497.2" cy="425.93" r="3.15"/><circle cx="1319.94" cy="328.7" r="3.15"/><circle cx="1530.7" cy="357.37" r="3.15"/><circle cx="1477.79" cy="309.54" r="3.15"/><circle cx="1504.07" cy="392.03" r="3.15"/><circle cx="1459.67" cy="442.68" r="3.15"/><circle cx="1468.2" cy="370.71" r="3.15"/><circle cx="1460.59" cy="393.8" r="3.15"/><circle cx="1460.29" cy="409.55" r="3.15"/><circle cx="1398.23" cy="291.55" r="3.15"/><circle cx="1516.81" cy="346.75" r="3.15"/><circle cx="1469.74" cy="419.43" r="3.15"/><circle cx="1479.35" cy="439.45" r="3.15"/><circle cx="1477.1" cy="367.32" r="3.15"/><circle cx="1439.98" cy="335.82" r="3.15"/><circle cx="1453.98" cy="349.89" r="3.15"/><circle cx="1381.07" cy="310.58" r="3.15"/><circle cx="1472.33" cy="346.83" r="3.15"/><circle cx="1473.21" cy="339.46" r="3.15"/><circle cx="1443.62" cy="455.64" r="3.15"/><circle cx="1359.38" cy="305.92" r="3.15"/><circle cx="1533.59" cy="385.92" r="3.15"/><circle cx="1447.51" cy="318.62" r="3.15"/><circle cx="1456.24" cy="437.95" r="3.15"/><circle cx="1439.6" cy="407.45" r="3.15"/><circle cx="1423.36" cy="307.61" r="3.15"/><circle cx="1434.25" cy="423.76" r="3.15"/><circle cx="1393.91" cy="357.77" r="3.15"/><circle cx="1424.05" cy="383.29" r="3.15"/><circle cx="1574.99" cy="273.22" r="3.15"/><circle cx="1524.77" cy="340.97" r="3.15"/><circle cx="1571.55" cy="294.78" r="3.15"/><circle cx="1422.03" cy="365.9" r="3.15"/><circle cx="1349.57" cy="449.71" r="3.15"/><circle cx="1379.65" cy="268.15" r="3.15"/><circle cx="1307.05" cy="397.39" r="3.15"/><circle cx="1519.25" cy="357.17" r="3.15"/><circle cx="1527.37" cy="361.08" r="3.15"/><circle cx="1463.57" cy="438.4" r="3.15"/><circle cx="1478.93" cy="327.26" r="3.15"/><circle cx="1478.44" cy="380.3" r="3.15"/><circle cx="1450.84" cy="448.25" r="3.15"/><circle cx="1499.06" cy="432.87" r="3.15"/><circle cx="1399.55" cy="475.87" r="3.15"/><circle cx="1432.24" cy="402.64" r="3.15"/><circle cx="1449.02" cy="373.79" r="3.15"/><circle cx="1360.35" cy="415.01" r="3.15"/><circle cx="1399.95" cy="368.98" r="3.15"/><circle cx="1482.29" cy="380.55" r="3.15"/><circle cx="1477.15" cy="339.26" r="3.15"/><circle cx="1316.65" cy="371.88" r="3.15"/><circle cx="1509.6" cy="370.83" r="3.15"/><circle cx="1477.44" cy="403.54" r="3.15"/><circle cx="1501.28" cy="420.67" r="3.15"/><circle cx="1453.67" cy="409.53" r="3.15"/><circle cx="1490.88" cy="345.88" r="3.15"/><circle cx="1383.61" cy="392.56" r="3.15"/><circle cx="1445.12" cy="295.6" r="3.15"/><circle cx="1396.64" cy="329.2" r="3.15"/><circle cx="1427.82" cy="433.04" r="3.15"/><circle cx="1524.24" cy="341.12" r="3.15"/><circle cx="1550.17" cy="301.34" r="3.15"/><circle cx="1459.33" cy="397.18" r="3.15"/><circle cx="1432.14" cy="307.61" r="3.15"/><circle cx="1501.85" cy="399.09" r="3.15"/><circle cx="1483.53" cy="287.96" r="3.15"/><circle cx="1566.71" cy="334.45" r="3.15"/><circle cx="1493.3" cy="375.19" r="3.15"/><circle cx="1323.9" cy="453.04" r="3.15"/><circle cx="1460.77" cy="371.21" r="3.15"/><circle cx="1438.96" cy="403.58" r="3.15"/><circle cx="1411.55" cy="350.47" r="3.15"/><circle cx="1465.1" cy="408.6" r="3.15"/><circle cx="1460.65" cy="342.94" r="3.15"/><circle cx="1437.22" cy="390.23" r="3.15"/><circle cx="1543.19" cy="333.66" r="3.15"/><circle cx="1478.66" cy="325.23" r="3.15"/><circle cx="1480.47" cy="356.34" r="3.15"/><circle cx="1466.4" cy="341.41" r="3.15"/><circle cx="1526.8" cy="309.35" r="3.15"/><circle cx="1393.96" cy="415.07" r="3.15"/><circle cx="1526.24" cy="333.44" r="3.15"/><circle cx="1443.86" cy="354.5" r="3.15"/><circle cx="1542.07" cy="283.99" r="3.15"/><circle cx="1538.38" cy="370.54" r="3.15"/><circle cx="1485.76" cy="316.87" r="3.15"/><circle cx="1431.54" cy="449.07" r="3.15"/><circle cx="1473.44" cy="304.42" r="3.15"/><circle cx="1477.58" cy="344.16" r="3.15"/><circle cx="1374.31" cy="350.92" r="3.15"/><circle cx="1438.92" cy="323.1" r="3.15"/><circle cx="1417.62" cy="428.46" r="3.15"/><circle cx="1535.52" cy="372.78" r="3.15"/><circle cx="1554.22" cy="357.05" r="3.15"/><circle cx="1416.07" cy="382.67" r="3.15"/><circle cx="1427.42" cy="392.23" r="3.15"/><circle cx="1382.34" cy="322.77" r="3.15"/><circle cx="1472.27" cy="363.39" r="3.15"/><circle cx="1503.51" cy="375.19" r="3.15"/><circle cx="1559.37" cy="358.77" r="3.15"/><circle cx="1384.31" cy="305.38" r="3.15"/><circle cx="1510.23" cy="273.09" r="3.15"/><circle cx="1448.9" cy="313.46" r="3.15"/><circle cx="1416.41" cy="343.47" r="3.15"/><circle cx="1437.54" cy="431.58" r="3.15"/><circle cx="1413.87" cy="395.3" r="3.15"/><circle cx="1482.61" cy="409.68" r="3.15"/><circle cx="1457.2" cy="411.57" r="3.15"/><circle cx="1524.58" cy="304.82" r="3.15"/><circle cx="1427.11" cy="396.53" r="3.15"/><circle cx="1350.85" cy="304.35" r="3.15"/><circle cx="1400.78" cy="363.09" r="3.15"/><circle cx="1476.46" cy="371.35" r="3.15"/><circle cx="1373.22" cy="379.69" r="3.15"/><circle cx="1414.34" cy="436.87" r="3.15"/><circle cx="1487.39" cy="384.18" r="3.15"/><circle cx="1379.05" cy="328.36" r="3.15"/><circle cx="1504.81" cy="330.18" r="3.15"/><circle cx="1476.15" cy="357.33" r="3.15"/><circle cx="1423.72" cy="334.4" r="3.15"/><circle cx="1454.37" cy="358.34" r="3.15"/><circle cx="1428.49" cy="347.74" r="3.15"/><circle cx="1434.3" cy="250.62" r="3.15"/><circle cx="1438.22" cy="359.74" r="3.15"/><circle cx="1457.8" cy="449.34" r="3.15"/><circle cx="1451.64" cy="468.08" r="3.15"/><circle cx="1414.45" cy="403.12" r="3.15"/><circle cx="1401.05" cy="358.11" r="3.15"/><circle cx="1574.23" cy="312.42" r="3.15"/><circle cx="1394.17" cy="369.9" r="3.15"/><circle cx="1448.01" cy="359.56" r="3.15"/><circle cx="1524.77" cy="333.21" r="3.15"/><circle cx="1512.92" cy="410.08" r="3.15"/><circle cx="1415.39" cy="369.87" r="3.15"/><circle cx="1570.5" cy="344.04" r="3.15"/><circle cx="1556.9" cy="379.89" r="3.15"/><circle cx="1438.79" cy="406.56" r="3.15"/><circle cx="1386.44" cy="343.4" r="3.15"/><circle cx="1492.47" cy="310.77" r="3.15"/><circle cx="1446.3" cy="362.58" r="3.15"/><circle cx="1440.03" cy="479.73" r="3.15"/><circle cx="1410.76" cy="406.04" r="3.15"/><circle cx="1422.68" cy="387.92" r="3.15"/><circle cx="1465.91" cy="344.5" r="3.15"/><circle cx="1507.7" cy="386.6" r="3.15"/><circle cx="1339.04" cy="392.71" r="3.15"/><circle cx="1321.67" cy="325.67" r="3.15"/><circle cx="1511.4" cy="303.02" r="3.15"/><circle cx="1408.63" cy="365.05" r="3.15"/><circle cx="1495.83" cy="417.9" r="3.15"/><circle cx="1462.75" cy="425.51" r="3.15"/><circle cx="1527.45" cy="332.75" r="3.15"/><circle cx="1508.26" cy="402.29" r="3.15"/><circle cx="1440.89" cy="369.35" r="3.15"/><circle cx="1447.48" cy="377" r="3.15"/><circle cx="1474.79" cy="359.52" r="3.15"/><circle cx="1498.87" cy="349.43" r="3.15"/><circle cx="1421.02" cy="419.14" r="3.15"/><circle cx="1370.44" cy="403.05" r="3.15"/><circle cx="1462.45" cy="358.84" r="3.15"/><circle cx="1454.13" cy="366.78" r="3.15"/><circle cx="1447.74" cy="433.73" r="3.15"/><circle cx="1399.9" cy="278.61" r="3.15"/><circle cx="1491.03" cy="433.62" r="3.15"/><circle cx="1358.55" cy="322.65" r="3.15"/><circle cx="1429.15" cy="448" r="3.15"/><circle cx="1530.12" cy="318.28" r="3.15"/><circle cx="1393.6" cy="456.83" r="3.15"/><circle cx="1480.33" cy="323.29" r="3.15"/><circle cx="1482.36" cy="359.09" r="3.15"/><circle cx="1481.01" cy="329.14" r="3.15"/><circle cx="1361.61" cy="409.32" r="3.15"/><circle cx="1514.16" cy="353.41" r="3.15"/><circle cx="1464.95" cy="356.62" r="3.15"/><circle cx="1484.85" cy="359.58" r="3.15"/><circle cx="1474.24" cy="394.85" r="3.15"/><circle cx="1460.31" cy="303.26" r="3.15"/><circle cx="1526.23" cy="452.85" r="3.15"/><circle cx="1538.62" cy="439.14" r="3.15"/><circle cx="1351.26" cy="444.7" r="3.15"/><circle cx="1412.72" cy="302.4" r="3.15"/><circle cx="1447.46" cy="412.06" r="3.15"/><circle cx="1333.66" cy="410.17" r="3.15"/><circle cx="1540.22" cy="400.11" r="3.15"/><circle cx="1413" cy="386.39" r="3.15"/><circle cx="1489.05" cy="379.96" r="3.15"/><circle cx="1469.45" cy="391.99" r="3.15"/><circle cx="1444.75" cy="442.9" r="3.15"/><circle cx="1399.83" cy="351.67" r="3.15"/><circle cx="1436.57" cy="369.99" r="3.15"/><circle cx="1462.31" cy="295.75" r="3.15"/><circle cx="1501.78" cy="346.68" r="3.15"/><circle cx="1445.59" cy="373.18" r="3.15"/><circle cx="1434.72" cy="439.08" r="3.15"/><circle cx="1443.14" cy="365.33" r="3.15"/><circle cx="1531.25" cy="336.3" r="3.15"/><circle cx="1473.75" cy="287.4" r="3.15"/><circle cx="1418.97" cy="351.25" r="3.15"/><circle cx="1385.65" cy="333.34" r="3.15"/><circle cx="1433.96" cy="340.58" r="3.15"/><circle cx="1405.47" cy="292.17" r="3.15"/><circle cx="1433.42" cy="314.3" r="3.15"/><circle cx="1534.45" cy="362.04" r="3.15"/><circle cx="1496.58" cy="436.19" r="3.15"/><circle cx="1470.24" cy="288.73" r="3.15"/><circle cx="1480.24" cy="362.77" r="3.15"/><circle cx="1555.19" cy="402.14" r="3.15"/><circle cx="1392.66" cy="440.83" r="3.15"/><circle cx="1482.57" cy="452.6" r="3.15"/><circle cx="1445.65" cy="356.22" r="3.15"/><circle cx="1465.27" cy="376" r="3.15"/><circle cx="1461.39" cy="353.22" r="3.15"/><circle cx="1439.26" cy="310.34" r="3.15"/><circle cx="1488.05" cy="396.53" r="3.15"/><circle cx="1334.52" cy="360.09" r="3.15"/><circle cx="1473.66" cy="393.29" r="3.15"/><circle cx="1495.8" cy="408.51" r="3.15"/><circle cx="1403.07" cy="478.95" r="3.15"/><circle cx="1401.82" cy="408.94" r="3.15"/><circle cx="1565.62" cy="310.65" r="3.15"/><circle cx="1406.38" cy="395.75" r="3.15"/><circle cx="1435.84" cy="354.76" r="3.15"/><circle cx="1413.46" cy="364.55" r="3.15"/><circle cx="1422.59" cy="271.64" r="3.15"/><circle cx="1419.22" cy="298.94" r="3.15"/><circle cx="1337.53" cy="404.92" r="3.15"/><circle cx="1592.31" cy="382.25" r="3.15"/><circle cx="1416.05" cy="314.43" r="3.15"/><circle cx="1478.76" cy="355.11" r="3.15"/><circle cx="1452.67" cy="362.46" r="3.15"/><circle cx="1533.62" cy="306.77" r="3.15"/><circle cx="1496.44" cy="337.78" r="3.15"/><circle cx="1521.21" cy="356.37" r="3.15"/><circle cx="1504.71" cy="344.5" r="3.15"/><circle cx="1459.02" cy="431.36" r="3.15"/><circle cx="1508.66" cy="347.9" r="3.15"/><circle cx="1366.86" cy="357.78" r="3.15"/><circle cx="1507.4" cy="281.92" r="3.15"/><circle cx="1496.74" cy="348.36" r="3.15"/><circle cx="1474.26" cy="396" r="3.15"/><circle cx="1381.66" cy="351.93" r="3.15"/><circle cx="1532.62" cy="422.12" r="3.15"/><circle cx="1418.9" cy="385.95" r="3.15"/><circle cx="1492.52" cy="347.54" r="3.15"/><circle cx="1352.35" cy="413.04" r="3.15"/><circle cx="1446.9" cy="464.98" r="3.15"/><circle cx="1420.37" cy="419.19" r="3.15"/><circle cx="1412.93" cy="408.71" r="3.15"/><circle cx="1419.31" cy="341.63" r="3.15"/><circle cx="1557.6" cy="385.73" r="3.15"/><circle cx="1455.01" cy="371.46" r="3.15"/><circle cx="1476.22" cy="412.78" r="3.15"/><circle cx="1577.86" cy="359.31" r="3.15"/><circle cx="1375.83" cy="402.76" r="3.15"/><circle cx="1543.56" cy="337.22" r="3.15"/><circle cx="1435.92" cy="358.44" r="3.15"/><circle cx="1421.3" cy="300.8" r="3.15"/><circle cx="1433.64" cy="342.01" r="3.15"/><circle cx="1354.32" cy="389.8" r="3.15"/><circle cx="1370" cy="415.62" r="3.15"/><circle cx="1392.58" cy="362.5" r="3.15"/><circle cx="1425" cy="335.8" r="3.15"/><circle cx="1497.25" cy="292.76" r="3.15"/><circle cx="1518.28" cy="393.69" r="3.15"/><circle cx="1435.88" cy="434.76" r="3.15"/><circle cx="1477.79" cy="457.58" r="3.15"/><circle cx="1481.39" cy="417.59" r="3.15"/><circle cx="1443.74" cy="380.74" r="3.15"/><circle cx="1469.61" cy="383.73" r="3.15"/><circle cx="1423.26" cy="387.91" r="3.15"/><circle cx="1488.11" cy="371.91" r="3.15"/><circle cx="1443.9" cy="356.09" r="3.15"/><circle cx="1458.85" cy="452.7" r="3.15"/><circle cx="1471.05" cy="368.93" r="3.15"/><circle cx="1464.86" cy="379.7" r="3.15"/><circle cx="1416.01" cy="382.74" r="3.15"/><circle cx="1380.18" cy="396.97" r="3.15"/><circle cx="1452.73" cy="462.87" r="3.15"/><circle cx="1424.42" cy="351.5" r="3.15"/><circle cx="1426.44" cy="397.17" r="3.15"/><circle cx="1450.55" cy="378.81" r="3.15"/><circle cx="1416.22" cy="359.89" r="3.15"/><circle cx="1481.86" cy="369.61" r="3.15"/><circle cx="1479.08" cy="351.81" r="3.15"/><circle cx="1405.46" cy="354.57" r="3.15"/><circle cx="1477.33" cy="416.4" r="3.15"/><circle cx="1402.01" cy="430.52" r="3.15"/><circle cx="1497.31" cy="331.57" r="3.15"/><circle cx="1491.45" cy="408.44" r="3.15"/><circle cx="1455.69" cy="268.73" r="3.15"/><circle cx="1506.78" cy="423.45" r="3.15"/><circle cx="1514.28" cy="362.37" r="3.15"/><circle cx="1481.43" cy="375.1" r="3.15"/><circle cx="1352.3" cy="365.27" r="3.15"/><circle cx="1463.7" cy="417.72" r="3.15"/><circle cx="1467.57" cy="356.93" r="3.15"/><circle cx="1501.85" cy="275.19" r="3.15"/><circle cx="1400.36" cy="402.33" r="3.15"/><circle cx="1496.04" cy="477.48" r="3.15"/><circle cx="1476.07" cy="341.64" r="3.15"/><circle cx="1479.12" cy="352.39" r="3.15"/><circle cx="1385.79" cy="344.68" r="3.15"/><circle cx="1407.02" cy="414.72" r="3.15"/><circle cx="1520.16" cy="350.65" r="3.15"/><circle cx="1502.88" cy="328.73" r="3.15"/><circle cx="1451.24" cy="397" r="3.15"/><circle cx="1517.47" cy="368.19" r="3.15"/><circle cx="1470.87" cy="348.07" r="3.15"/><circle cx="1432.29" cy="338.81" r="3.15"/><circle cx="1366.42" cy="389" r="3.15"/><circle cx="1513.25" cy="361.32" r="3.15"/><circle cx="1447.84" cy="278.28" r="3.15"/><circle cx="1469.04" cy="275.79" r="3.15"/><circle cx="1353.98" cy="428.65" r="3.15"/><circle cx="1424.98" cy="270.44" r="3.15"/><circle cx="1472.43" cy="390.76" r="3.15"/><circle cx="1441.64" cy="323.2" r="3.15"/><circle cx="1413.91" cy="434.68" r="3.15"/><circle cx="1392.6" cy="386.02" r="3.15"/><circle cx="1467.29" cy="404.31" r="3.15"/><circle cx="1434.64" cy="335.57" r="3.15"/><circle cx="1436.26" cy="364.85" r="3.15"/><circle cx="1438.91" cy="353.71" r="3.15"/><circle cx="1418.71" cy="356.68" r="3.15"/><circle cx="1436.63" cy="365.31" r="3.15"/><circle cx="1420.52" cy="331.73" r="3.15"/><circle cx="1456.87" cy="368.27" r="3.15"/><circle cx="1377.58" cy="382" r="3.15"/><circle cx="1393.15" cy="407.66" r="3.15"/><circle cx="1456.71" cy="417.42" r="3.15"/><circle cx="1445.77" cy="400.45" r="3.15"/><circle cx="1463.92" cy="356.51" r="3.15"/><circle cx="1568.66" cy="320.19" r="3.15"/><circle cx="1497.29" cy="378.42" r="3.15"/><circle cx="1518.88" cy="276.01" r="3.15"/><circle cx="1478.62" cy="313.76" r="3.15"/><circle cx="1448.37" cy="372.97" r="3.15"/><circle cx="1410.09" cy="359.86" r="3.15"/><circle cx="1350.07" cy="380.61" r="3.15"/><circle cx="1375.15" cy="466.08" r="3.15"/><circle cx="1323.07" cy="341.79" r="3.15"/><circle cx="1391.75" cy="367.26" r="3.15"/><circle cx="1365.32" cy="459.07" r="3.15"/><circle cx="1400.41" cy="335.15" r="3.15"/><circle cx="1453.86" cy="401.58" r="3.15"/><circle cx="1431.92" cy="387.14" r="3.15"/><circle cx="1504.94" cy="454.51" r="3.15"/><circle cx="1505.88" cy="374.2" r="3.15"/><circle cx="1512.72" cy="351.72" r="3.15"/><circle cx="1503.5" cy="392.95" r="3.15"/><circle cx="1470.08" cy="374.76" r="3.15"/><circle cx="1426.08" cy="467" r="3.15"/><circle cx="1480.55" cy="348.82" r="3.15"/><circle cx="1441.03" cy="378.39" r="3.15"/><circle cx="1443.71" cy="378.01" r="3.15"/><circle cx="1478.13" cy="342.22" r="3.15"/><circle cx="1393.44" cy="328.99" r="3.15"/><circle cx="1363.2" cy="383.68" r="3.15"/><circle cx="1473.39" cy="331.37" r="3.15"/><circle cx="1555.36" cy="282.93" r="3.15"/><circle cx="1518.31" cy="424.78" r="3.15"/><circle cx="1376" cy="457.46" r="3.15"/><circle cx="1418.68" cy="361" r="3.15"/><circle cx="1325.29" cy="316.42" r="3.15"/><circle cx="1406.55" cy="384.85" r="3.15"/><circle cx="1561.98" cy="425.92" r="3.15"/><circle cx="1546.24" cy="397.57" r="3.15"/><circle cx="1397.81" cy="359.11" r="3.15"/><circle cx="1436.99" cy="448.9" r="3.15"/><circle cx="1408.74" cy="446.02" r="3.15"/><circle cx="1379.27" cy="357.63" r="3.15"/><circle cx="1441.43" cy="442.08" r="3.15"/><circle cx="1436.65" cy="373.6" r="3.15"/><circle cx="1460.5" cy="427.09" r="3.15"/><circle cx="1469.99" cy="452.33" r="3.15"/><circle cx="1494.59" cy="335.41" r="3.15"/><circle cx="1532.74" cy="318.3" r="3.15"/><circle cx="1450.77" cy="413.84" r="3.15"/><circle cx="1443.42" cy="265.75" r="3.15"/><circle cx="1455.69" cy="367.99" r="3.15"/><circle cx="1480.3" cy="348.91" r="3.15"/><circle cx="1447.83" cy="366.82" r="3.15"/><circle cx="1399.45" cy="429.71" r="3.15"/><circle cx="1425.9" cy="326.53" r="3.15"/><circle cx="1496.94" cy="365.58" r="3.15"/><circle cx="1397.23" cy="352.67" r="3.15"/><circle cx="1501.08" cy="364.68" r="3.15"/><circle cx="1376.64" cy="396.6" r="3.15"/><circle cx="1489.64" cy="259.1" r="3.15"/><circle cx="1488.5" cy="350.82" r="3.15"/><circle cx="1443.32" cy="385.14" r="3.15"/><circle cx="1453.91" cy="341.46" r="3.15"/><circle cx="1442.17" cy="432.39" r="3.15"/><circle cx="1550.04" cy="351.22" r="3.15"/><circle cx="1430.52" cy="244.16" r="3.15"/><circle cx="1414.1" cy="407.74" r="3.15"/><circle cx="1476.52" cy="348.48" r="3.15"/><circle cx="1517.78" cy="427.1" r="3.15"/><circle cx="1474.16" cy="370.78" r="3.15"/><circle cx="1446.97" cy="319.87" r="3.15"/><circle cx="1512.97" cy="419.42" r="3.15"/><circle cx="1445.9" cy="102.7" r="3.15"/><circle cx="1422" cy="154.4" r="3.15"/><circle cx="1464.8" cy="165.8" r="3.15"/><circle cx="1535" cy="191.1" r="3.15"/><circle cx="1333.5" cy="209.6" r="3.15"/><circle cx="1509" cy="199" r="3.15"/><circle cx="1363.1" cy="220.4" r="3.15"/><circle cx="1432.3" cy="222.1" r="3.15"/><circle cx="1466.5" cy="218.6" r="3.15"/><circle cx="1492.9" cy="218.6" r="3.15"/><circle cx="1510" cy="219.6" r="3.15"/><circle cx="1441.6" cy="231" r="3.15"/><circle cx="1292.5" cy="234.6" r="3.15"/><circle cx="1281.1" cy="244.6" r="3.15"/><circle cx="1353.8" cy="241" r="3.15"/><circle cx="1407.3" cy="235.7" r="3.15"/><circle cx="1466.5" cy="237.5" r="3.15"/><circle cx="1542.2" cy="232.8" r="3.15"/><circle cx="1552.1" cy="236.4" r="3.15"/><circle cx="1538.6" cy="240.7" r="3.15"/><circle cx="1504.7" cy="245.3" r="3.15"/><circle cx="1523.2" cy="243.5" r="3.15"/><circle cx="1547.5" cy="254.9" r="3.15"/><circle cx="1378.1" cy="264.2" r="3.15"/><circle cx="1328.9" cy="264.2" r="3.15"/><circle cx="1288.9" cy="280.3" r="3.15"/><circle cx="1251.5" cy="289.9" r="3.15"/><circle cx="1282.2" cy="293.5" r="3.15"/><circle cx="1268.3" cy="306.7" r="3.15"/><circle cx="1247.9" cy="318.8" r="3.15"/><circle cx="1266.8" cy="320.2" r="3.15"/><circle cx="1218.3" cy="326.6" r="3.15"/><circle cx="1611" cy="308.8" r="3.15"/><circle cx="1584.2" cy="306.7" r="3.15"/><circle cx="1573.5" cy="284.5" r="3.15"/><circle cx="1573.2" cy="325.6" r="3.15"/><circle cx="1246.1" cy="347.3" r="3.15"/><circle cx="1247.9" cy="370.1" r="3.15"/><circle cx="1622.4" cy="398.7" r="3.15"/><circle cx="1616.3" cy="421.8" r="3.15"/><circle cx="1604.6" cy="456.8" r="3.15"/><circle cx="1575" cy="478.2" r="3.15"/><circle cx="1543.2" cy="477.1" r="3.15"/><circle cx="1264" cy="439.7" r="3.15"/><circle cx="1273.6" cy="472.8" r="3.15"/><circle cx="1315.7" cy="479.6" r="3.15"/><circle cx="1356.7" cy="497.8" r="3.15"/><circle cx="1371.7" cy="493.9" r="3.15"/><circle cx="1385.9" cy="494.2" r="3.15"/><circle cx="1469.7" cy="502.8" r="3.15"/><circle cx="1465.5" cy="517.4" r="3.15"/><circle cx="1516.5" cy="483.5" r="3.15"/><circle cx="1531.5" cy="482.5" r="3.15"/><circle cx="1441.6" cy="491.4" r="3.15"/><circle cx="1422.7" cy="488.9" r="3.15"/><circle cx="1401.3" cy="480.7" r="3.15"/></g>
<line x1="1217.5" y1="382.72" x2="1624.34" y2="351" stroke="#4a6cb3" stroke-width="5"/>
<rect x="1198.3" y="67.3" width="495.4" height="494" fill="none" stroke="#000" stroke-width="4.4"/>
<line x1="1173.8" y1="67.3" x2="1198.3" y2="67.3" stroke="#000" stroke-width="4.4"/>
<text transform="translate(1144.6 81.96) scale(1 1.04)" font-size="41" fill="#000" stroke="#000" stroke-width="0.55" stroke-linejoin="round">6</text>
<line x1="1173.8" y1="166.1" x2="1198.3" y2="166.1" stroke="#000" stroke-width="4.4"/>
<text transform="translate(1144 180.76) scale(1 1.04)" font-size="41" fill="#000" stroke="#000" stroke-width="0.55" stroke-linejoin="round">4</text>
<line x1="1173.8" y1="264.9" x2="1198.3" y2="264.9" stroke="#000" stroke-width="4.4"/>
<text transform="translate(1144.86 279.56) scale(1 1.04)" font-size="41" fill="#000" stroke="#000" stroke-width="0.55" stroke-linejoin="round">2</text>
<line x1="1173.8" y1="363.7" x2="1198.3" y2="363.7" stroke="#000" stroke-width="4.4"/>
<text transform="translate(1144.4 378.36) scale(1 1.04)" font-size="41" fill="#000" stroke="#000" stroke-width="0.55" stroke-linejoin="round">0</text>
<line x1="1173.8" y1="462.5" x2="1198.3" y2="462.5" stroke="#000" stroke-width="4.4"/>
<text transform="translate(1131.21 477.16) scale(1 1.04)" font-size="41" fill="#000" stroke="#000" stroke-width="0.55" stroke-linejoin="round">-2</text>
<line x1="1173.8" y1="561.3" x2="1198.3" y2="561.3" stroke="#000" stroke-width="4.4"/>
<text transform="translate(1130.35 575.96) scale(1 1.04)" font-size="41" fill="#000" stroke="#000" stroke-width="0.55" stroke-linejoin="round">-4</text>
<line x1="1198.3" y1="561.3" x2="1198.3" y2="585.8" stroke="#000" stroke-width="4.4"/>
<text transform="translate(1179.76 632.1) scale(1 1.04)" font-size="41" fill="#000" stroke="#000" stroke-width="0.55" stroke-linejoin="round">-4</text>
<line x1="1322.15" y1="561.3" x2="1322.15" y2="585.8" stroke="#000" stroke-width="4.4"/>
<text transform="translate(1304.04 632.1) scale(1 1.04)" font-size="41" fill="#000" stroke="#000" stroke-width="0.55" stroke-linejoin="round">-2</text>
<line x1="1446" y1="561.3" x2="1446" y2="585.8" stroke="#000" stroke-width="4.4"/>
<text transform="translate(1434.6 632.1) scale(1 1.04)" font-size="41" fill="#000" stroke="#000" stroke-width="0.55" stroke-linejoin="round">0</text>
<line x1="1569.85" y1="561.3" x2="1569.85" y2="585.8" stroke="#000" stroke-width="4.4"/>
<text transform="translate(1558.45 632.1) scale(1 1.04)" font-size="41" fill="#000" stroke="#000" stroke-width="0.55" stroke-linejoin="round">2</text>
<line x1="1693.7" y1="561.3" x2="1693.7" y2="585.8" stroke="#000" stroke-width="4.4"/>
<text transform="translate(1682.43 632.1) scale(1 1.04)" font-size="41" fill="#000" stroke="#000" stroke-width="0.55" stroke-linejoin="round">4</text>
<text transform="translate(1208.77 107.2) scale(1 1.04)" font-size="41.83" fill="#000" stroke="#000" stroke-width="0.55" stroke-linejoin="round">METABRIC</text>
<text transform="translate(1214.24 158.1) scale(1 1.04)" font-size="40.91" fill="#000" stroke="#000" stroke-width="0.55" stroke-linejoin="round">Rho=0.11</text>
<text transform="translate(1214.16 206.8) scale(1 1.04)" font-size="41.9" fill="#000" stroke="#000" stroke-width="0.55" stroke-linejoin="round">P=4e-6</text>
<text transform="translate(1540.33 110.4) scale(1 1.04)" font-size="41.72" fill="#000" stroke="#000" stroke-width="0.55" stroke-linejoin="round">n=1904</text>
<text transform="translate(1271.55 682.3) scale(1 1.04)" font-size="44.49" fill="#000" stroke="#000" stroke-width="0.55" stroke-linejoin="round">NQO1 Expression</text>
<text transform="translate(1108.4 555.62) rotate(-90) scale(1 1.04)" font-size="44.1" fill="#000" stroke="#000" stroke-width="0.55" stroke-linejoin="round">HNRNPA2B1 Expression</text>
<text transform="translate(9.95 727.8)" font-size="50" font-weight="bold" fill="#000">c</text>
<g fill="#ababab"><circle cx="267.46" cy="1074.16" r="3.15"/><circle cx="212.59" cy="1124.79" r="3.15"/><circle cx="211.2" cy="1148.6" r="3.15"/><circle cx="248.94" cy="1104.8" r="3.15"/><circle cx="280.77" cy="1124" r="3.15"/><circle cx="264.36" cy="1048.1" r="3.15"/><circle cx="385.48" cy="1141.39" r="3.15"/><circle cx="276.82" cy="1043.92" r="3.15"/><circle cx="281.43" cy="1055.97" r="3.15"/><circle cx="219.11" cy="1035.99" r="3.15"/><circle cx="355.56" cy="1010.26" r="3.15"/><circle cx="208.66" cy="1011.39" r="3.15"/><circle cx="400.17" cy="1059.39" r="3.15"/><circle cx="254.06" cy="1108.23" r="3.15"/><circle cx="246.46" cy="1105.79" r="3.15"/><circle cx="210.82" cy="1063.73" r="3.15"/><circle cx="325.56" cy="1073.36" r="3.15"/><circle cx="206.85" cy="1111.89" r="3.15"/><circle cx="208.54" cy="1017.81" r="3.15"/><circle cx="431.72" cy="1026.45" r="3.15"/><circle cx="244.42" cy="1043.76" r="3.15"/><circle cx="269.74" cy="1033.59" r="3.15"/><circle cx="287.49" cy="1072.94" r="3.15"/><circle cx="409.8" cy="1007.12" r="3.15"/><circle cx="222.86" cy="1107.51" r="3.15"/><circle cx="205.16" cy="1049.58" r="3.15"/><circle cx="280.5" cy="1026.08" r="3.15"/><circle cx="264.68" cy="1150.29" r="3.15"/><circle cx="218.45" cy="1065.2" r="3.15"/><circle cx="257.14" cy="1019.38" r="3.15"/><circle cx="246.16" cy="1140.39" r="3.15"/><circle cx="208.69" cy="1107.72" r="3.15"/><circle cx="225.83" cy="1028.02" r="3.15"/><circle cx="216.24" cy="1042.8" r="3.15"/><circle cx="205.96" cy="1052.28" r="3.15"/><circle cx="242.87" cy="1050.83" r="3.15"/><circle cx="245.41" cy="1100.52" r="3.15"/><circle cx="254.31" cy="1005.29" r="3.15"/><circle cx="231.89" cy="1077.44" r="3.15"/><circle cx="210.69" cy="1052.57" r="3.15"/><circle cx="294.65" cy="1071.45" r="3.15"/><circle cx="287.77" cy="1083.21" r="3.15"/><circle cx="221.64" cy="1075.06" r="3.15"/><circle cx="258.04" cy="1069.27" r="3.15"/><circle cx="204.92" cy="1090.22" r="3.15"/><circle cx="264.26" cy="1045.32" r="3.15"/><circle cx="234.94" cy="1037.61" r="3.15"/><circle cx="214.25" cy="1053.35" r="3.15"/><circle cx="214.75" cy="1048.48" r="3.15"/><circle cx="274.63" cy="1142.47" r="3.15"/><circle cx="293.78" cy="972.44" r="3.15"/><circle cx="259.51" cy="1072.73" r="3.15"/><circle cx="341" cy="1077.29" r="3.15"/><circle cx="273.14" cy="1082.78" r="3.15"/><circle cx="316.84" cy="1079.26" r="3.15"/><circle cx="215.89" cy="1019.81" r="3.15"/><circle cx="241.23" cy="1090" r="3.15"/><circle cx="226.69" cy="1133.27" r="3.15"/><circle cx="269.85" cy="1043.85" r="3.15"/><circle cx="352.81" cy="1114.89" r="3.15"/><circle cx="257.79" cy="1118.12" r="3.15"/><circle cx="247.91" cy="1072.62" r="3.15"/><circle cx="220.33" cy="1094.99" r="3.15"/><circle cx="360.32" cy="1056.52" r="3.15"/><circle cx="206.03" cy="1082.97" r="3.15"/><circle cx="302.01" cy="1040.87" r="3.15"/><circle cx="267.1" cy="999.3" r="3.15"/><circle cx="328.53" cy="990.02" r="3.15"/><circle cx="222.4" cy="1076.38" r="3.15"/><circle cx="205.98" cy="1040.75" r="3.15"/><circle cx="256.43" cy="968.39" r="3.15"/><circle cx="321.17" cy="1146.76" r="3.15"/><circle cx="319.1" cy="1149.56" r="3.15"/><circle cx="230.64" cy="1071.33" r="3.15"/><circle cx="220.91" cy="1063.38" r="3.15"/><circle cx="243.97" cy="1129.95" r="3.15"/><circle cx="250.36" cy="1047.1" r="3.15"/><circle cx="310.77" cy="997.88" r="3.15"/><circle cx="224.8" cy="1033.98" r="3.15"/><circle cx="253.17" cy="1044.82" r="3.15"/><circle cx="275.82" cy="1064.81" r="3.15"/><circle cx="235.12" cy="1040.49" r="3.15"/><circle cx="367.17" cy="1064.24" r="3.15"/><circle cx="209.53" cy="1163.6" r="3.15"/><circle cx="211.12" cy="1025.03" r="3.15"/><circle cx="236.82" cy="1043.49" r="3.15"/><circle cx="240.1" cy="1053.46" r="3.15"/><circle cx="226.56" cy="1063.29" r="3.15"/><circle cx="409.56" cy="1043.35" r="3.15"/><circle cx="278.74" cy="1119.69" r="3.15"/><circle cx="338.86" cy="1089.9" r="3.15"/><circle cx="243.76" cy="1166.11" r="3.15"/><circle cx="215.62" cy="1050.57" r="3.15"/><circle cx="214.89" cy="1131.5" r="3.15"/><circle cx="270.24" cy="1023.34" r="3.15"/><circle cx="249.88" cy="1155.47" r="3.15"/><circle cx="244.41" cy="1094.75" r="3.15"/><circle cx="287.78" cy="1013.15" r="3.15"/><circle cx="272.5" cy="1084.31" r="3.15"/><circle cx="263.21" cy="1012.52" r="3.15"/><circle cx="263.96" cy="1092.73" r="3.15"/><circle cx="226.78" cy="1066.22" r="3.15"/><circle cx="216.87" cy="1070.43" r="3.15"/><circle cx="222.24" cy="1073.28" r="3.15"/><circle cx="293.75" cy="1060.66" r="3.15"/><circle cx="205.24" cy="1059.73" r="3.15"/><circle cx="265.1" cy="1083.81" r="3.15"/><circle cx="271.53" cy="1137.39" r="3.15"/><circle cx="269.95" cy="1011.65" r="3.15"/><circle cx="209.13" cy="1136.79" r="3.15"/><circle cx="278.44" cy="1050.56" r="3.15"/><circle cx="219.45" cy="1100.37" r="3.15"/><circle cx="256.28" cy="1139.28" r="3.15"/><circle cx="222.46" cy="1005.88" r="3.15"/><circle cx="205.6" cy="1082.43" r="3.15"/><circle cx="287.24" cy="1106.28" r="3.15"/><circle cx="232.4" cy="1060.11" r="3.15"/><circle cx="259.63" cy="1111.79" r="3.15"/><circle cx="214.78" cy="1127.56" r="3.15"/><circle cx="212.39" cy="1032.48" r="3.15"/><circle cx="350.14" cy="1008.34" r="3.15"/><circle cx="240.03" cy="1059.52" r="3.15"/><circle cx="344.79" cy="1007.93" r="3.15"/><circle cx="228.32" cy="1041.71" r="3.15"/><circle cx="267.82" cy="1109.68" r="3.15"/><circle cx="261.96" cy="990.23" r="3.15"/><circle cx="383.31" cy="1158.05" r="3.15"/><circle cx="226.84" cy="1098.32" r="3.15"/><circle cx="389.03" cy="1074.97" r="3.15"/><circle cx="237.74" cy="1113.41" r="3.15"/><circle cx="225.5" cy="1109.85" r="3.15"/><circle cx="290.89" cy="1111.39" r="3.15"/><circle cx="291.59" cy="1004.09" r="3.15"/><circle cx="375.09" cy="1059.31" r="3.15"/><circle cx="305.86" cy="1128.92" r="3.15"/><circle cx="304.42" cy="1006.59" r="3.15"/><circle cx="218.42" cy="976.16" r="3.15"/><circle cx="221.23" cy="1089.83" r="3.15"/><circle cx="231.56" cy="1026.87" r="3.15"/><circle cx="215.88" cy="1039.15" r="3.15"/><circle cx="210.58" cy="1048.33" r="3.15"/><circle cx="247.22" cy="1083.73" r="3.15"/><circle cx="249.54" cy="1042.78" r="3.15"/><circle cx="325.1" cy="970.66" r="3.15"/><circle cx="219.68" cy="1123.14" r="3.15"/><circle cx="271.77" cy="1075.71" r="3.15"/><circle cx="346.89" cy="1075.61" r="3.15"/><circle cx="220.22" cy="1107.95" r="3.15"/><circle cx="274.78" cy="1110.48" r="3.15"/><circle cx="270.32" cy="1098.54" r="3.15"/><circle cx="261.84" cy="1130.39" r="3.15"/><circle cx="297.72" cy="1010.86" r="3.15"/><circle cx="225.39" cy="1020.18" r="3.15"/><circle cx="227.24" cy="1102.06" r="3.15"/><circle cx="375.02" cy="1102.89" r="3.15"/><circle cx="242.55" cy="1024.9" r="3.15"/><circle cx="260.51" cy="1013" r="3.15"/><circle cx="310.37" cy="1030.08" r="3.15"/><circle cx="310.88" cy="1105.91" r="3.15"/><circle cx="247.57" cy="1114.64" r="3.15"/><circle cx="323.49" cy="1017.95" r="3.15"/><circle cx="266.45" cy="1093.37" r="3.15"/><circle cx="210.27" cy="1103.31" r="3.15"/><circle cx="213.63" cy="1149.95" r="3.15"/><circle cx="350.51" cy="984.36" r="3.15"/><circle cx="343.65" cy="1037.3" r="3.15"/><circle cx="223.93" cy="1087.5" r="3.15"/><circle cx="208.41" cy="1093.18" r="3.15"/><circle cx="225.34" cy="1045.11" r="3.15"/><circle cx="219.89" cy="1090.3" r="3.15"/><circle cx="253.28" cy="1069.75" r="3.15"/><circle cx="271.36" cy="978.55" r="3.15"/><circle cx="285.32" cy="1045.03" r="3.15"/><circle cx="265.37" cy="1062.71" r="3.15"/><circle cx="282.7" cy="1152.13" r="3.15"/><circle cx="255.76" cy="992.13" r="3.15"/><circle cx="241.98" cy="1067.63" r="3.15"/><circle cx="220.9" cy="1033.9" r="3.15"/><circle cx="361" cy="1131.47" r="3.15"/><circle cx="226.26" cy="1088.3" r="3.15"/><circle cx="273.28" cy="1041.8" r="3.15"/><circle cx="259.22" cy="1106.95" r="3.15"/><circle cx="210.72" cy="1041.94" r="3.15"/><circle cx="280.69" cy="1102.89" r="3.15"/><circle cx="255.03" cy="1054.74" r="3.15"/><circle cx="226.04" cy="1055.91" r="3.15"/><circle cx="226.64" cy="1036.56" r="3.15"/><circle cx="340.42" cy="1062.48" r="3.15"/><circle cx="215.81" cy="1041.15" r="3.15"/><circle cx="387.05" cy="1036.25" r="3.15"/><circle cx="222.6" cy="1031.45" r="3.15"/><circle cx="315.59" cy="1030.21" r="3.15"/><circle cx="227.51" cy="1066.18" r="3.15"/><circle cx="241.9" cy="1037.71" r="3.15"/><circle cx="237.3" cy="1104.4" r="3.15"/><circle cx="222.72" cy="1121.82" r="3.15"/><circle cx="336.89" cy="1142.56" r="3.15"/><circle cx="400.07" cy="1058.98" r="3.15"/><circle cx="241.75" cy="1061.36" r="3.15"/><circle cx="224.76" cy="1056.29" r="3.15"/><circle cx="304.73" cy="1012.49" r="3.15"/><circle cx="206.33" cy="1039.47" r="3.15"/><circle cx="365.47" cy="1007.05" r="3.15"/><circle cx="231.16" cy="1035.17" r="3.15"/><circle cx="208.02" cy="1053.28" r="3.15"/><circle cx="337" cy="1085.93" r="3.15"/><circle cx="252.38" cy="1045.46" r="3.15"/><circle cx="409.98" cy="1059.66" r="3.15"/><circle cx="215.42" cy="1027.77" r="3.15"/><circle cx="220.71" cy="1071.36" r="3.15"/><circle cx="489.82" cy="1068.87" r="3.15"/><circle cx="225.39" cy="1076.09" r="3.15"/><circle cx="205.52" cy="1109.7" r="3.15"/><circle cx="271.01" cy="1066.2" r="3.15"/><circle cx="226.49" cy="996.93" r="3.15"/><circle cx="230.52" cy="1076.33" r="3.15"/><circle cx="232.38" cy="1029.25" r="3.15"/><circle cx="331.39" cy="997.29" r="3.15"/><circle cx="325.44" cy="995.59" r="3.15"/><circle cx="232.18" cy="1086.96" r="3.15"/><circle cx="320.86" cy="1105.21" r="3.15"/><circle cx="441.61" cy="1129.77" r="3.15"/><circle cx="389.95" cy="1092.83" r="3.15"/><circle cx="250.66" cy="1019.54" r="3.15"/><circle cx="253.88" cy="1091.89" r="3.15"/><circle cx="281.54" cy="1029.02" r="3.15"/><circle cx="206.7" cy="1005.64" r="3.15"/><circle cx="261.62" cy="1122.05" r="3.15"/><circle cx="255.22" cy="1058.41" r="3.15"/><circle cx="245.85" cy="977.32" r="3.15"/><circle cx="298.84" cy="1076.22" r="3.15"/><circle cx="268.55" cy="1078" r="3.15"/><circle cx="353.36" cy="1034.35" r="3.15"/><circle cx="309.82" cy="1118.53" r="3.15"/><circle cx="221.69" cy="1092.04" r="3.15"/><circle cx="206.52" cy="1091.19" r="3.15"/><circle cx="245" cy="1137.58" r="3.15"/><circle cx="242.47" cy="1104.24" r="3.15"/><circle cx="266.28" cy="1069.63" r="3.15"/><circle cx="234.35" cy="1054.49" r="3.15"/><circle cx="234.92" cy="1076.26" r="3.15"/><circle cx="457.55" cy="1073.16" r="3.15"/><circle cx="270.16" cy="1018.91" r="3.15"/><circle cx="206.35" cy="1120.87" r="3.15"/><circle cx="217.23" cy="1104.54" r="3.15"/><circle cx="268.92" cy="1086.35" r="3.15"/><circle cx="465.46" cy="994.19" r="3.15"/><circle cx="216.91" cy="1011.91" r="3.15"/><circle cx="219.88" cy="1019.09" r="3.15"/><circle cx="217.88" cy="1043.4" r="3.15"/><circle cx="240.92" cy="1048.38" r="3.15"/><circle cx="243.97" cy="1088.17" r="3.15"/><circle cx="245.64" cy="1129.32" r="3.15"/><circle cx="223.62" cy="1027.45" r="3.15"/><circle cx="205.77" cy="982.35" r="3.15"/><circle cx="292.06" cy="1094.16" r="3.15"/><circle cx="248.97" cy="1004.3" r="3.15"/><circle cx="351.16" cy="1061.74" r="3.15"/><circle cx="280.76" cy="994.75" r="3.15"/><circle cx="256.06" cy="1042.33" r="3.15"/><circle cx="329.62" cy="1079.16" r="3.15"/><circle cx="244.18" cy="1071.54" r="3.15"/><circle cx="316.99" cy="984.65" r="3.15"/><circle cx="206.89" cy="1079.37" r="3.15"/><circle cx="232.28" cy="1038.09" r="3.15"/><circle cx="266.96" cy="1088.91" r="3.15"/><circle cx="277.81" cy="1038.87" r="3.15"/><circle cx="252.25" cy="1036.98" r="3.15"/><circle cx="286.45" cy="1049.03" r="3.15"/><circle cx="309.28" cy="1080.33" r="3.15"/><circle cx="370.87" cy="1008.78" r="3.15"/><circle cx="250.88" cy="1079.8" r="3.15"/><circle cx="217.52" cy="1144.21" r="3.15"/><circle cx="218.97" cy="1090.68" r="3.15"/><circle cx="226.63" cy="1039.04" r="3.15"/><circle cx="230.7" cy="1077.17" r="3.15"/><circle cx="239.07" cy="1006.1" r="3.15"/><circle cx="262.5" cy="1048.26" r="3.15"/><circle cx="434.76" cy="1008.54" r="3.15"/><circle cx="245.41" cy="1044.78" r="3.15"/><circle cx="247.08" cy="1037.48" r="3.15"/><circle cx="214.85" cy="1015.76" r="3.15"/><circle cx="215.28" cy="1116.68" r="3.15"/><circle cx="512.63" cy="1039.2" r="3.15"/><circle cx="403.49" cy="991.3" r="3.15"/><circle cx="270.94" cy="1058.76" r="3.15"/><circle cx="240.19" cy="1018.63" r="3.15"/><circle cx="404.81" cy="1076.13" r="3.15"/><circle cx="238.29" cy="1002.32" r="3.15"/><circle cx="281.29" cy="1079.95" r="3.15"/><circle cx="261.48" cy="1087.52" r="3.15"/><circle cx="209.11" cy="1045.39" r="3.15"/><circle cx="245.32" cy="1049.61" r="3.15"/><circle cx="334.1" cy="1051.78" r="3.15"/><circle cx="231.87" cy="957.3" r="3.15"/><circle cx="257.43" cy="1022.09" r="3.15"/><circle cx="242.9" cy="1059.03" r="3.15"/><circle cx="258.06" cy="1010.85" r="3.15"/><circle cx="282.95" cy="1094.45" r="3.15"/><circle cx="253.42" cy="1113.6" r="3.15"/><circle cx="236.8" cy="1138.62" r="3.15"/><circle cx="213.17" cy="1122.03" r="3.15"/><circle cx="444.92" cy="1070.49" r="3.15"/><circle cx="231.71" cy="1056.41" r="3.15"/><circle cx="217.05" cy="1096.89" r="3.15"/><circle cx="253.89" cy="996.55" r="3.15"/><circle cx="241.23" cy="1083.99" r="3.15"/><circle cx="297.15" cy="1100.86" r="3.15"/><circle cx="244.4" cy="1089.62" r="3.15"/><circle cx="358.05" cy="1096.27" r="3.15"/><circle cx="298.31" cy="1069.22" r="3.15"/><circle cx="384.23" cy="1130.74" r="3.15"/><circle cx="208.89" cy="1018.7" r="3.15"/><circle cx="272.98" cy="983.95" r="3.15"/><circle cx="222.61" cy="1098.24" r="3.15"/><circle cx="267.96" cy="1107.33" r="3.15"/><circle cx="256.4" cy="1098.39" r="3.15"/><circle cx="376.85" cy="979.16" r="3.15"/><circle cx="407.42" cy="1107.18" r="3.15"/><circle cx="240.17" cy="1028.51" r="3.15"/><circle cx="214.65" cy="1039.37" r="3.15"/><circle cx="268.86" cy="1064.24" r="3.15"/><circle cx="234.57" cy="1000.26" r="3.15"/><circle cx="229.67" cy="1103.76" r="3.15"/><circle cx="319.95" cy="1010.53" r="3.15"/><circle cx="342.87" cy="1107.32" r="3.15"/><circle cx="252.45" cy="1047.49" r="3.15"/><circle cx="223.46" cy="1053.93" r="3.15"/><circle cx="217.07" cy="1054.96" r="3.15"/><circle cx="243.51" cy="1045.77" r="3.15"/><circle cx="237.89" cy="1106.52" r="3.15"/><circle cx="222.9" cy="1036.96" r="3.15"/><circle cx="265.65" cy="1065.69" r="3.15"/><circle cx="243.68" cy="1033.89" r="3.15"/><circle cx="364.19" cy="1061.11" r="3.15"/><circle cx="298.18" cy="1060.59" r="3.15"/><circle cx="223.18" cy="1027.12" r="3.15"/><circle cx="286.16" cy="974.88" r="3.15"/><circle cx="319.63" cy="1135.13" r="3.15"/><circle cx="275.68" cy="1019.16" r="3.15"/><circle cx="240.61" cy="1072.91" r="3.15"/><circle cx="219.77" cy="1071.62" r="3.15"/><circle cx="256.76" cy="959.57" r="3.15"/><circle cx="315.92" cy="1074.34" r="3.15"/><circle cx="272.54" cy="1077.42" r="3.15"/><circle cx="210.1" cy="1080.17" r="3.15"/><circle cx="215.34" cy="1020.2" r="3.15"/><circle cx="252.49" cy="1139.42" r="3.15"/><circle cx="214.14" cy="1087.08" r="3.15"/><circle cx="256.67" cy="1089.04" r="3.15"/><circle cx="225.35" cy="1089.19" r="3.15"/><circle cx="219.96" cy="1041.09" r="3.15"/><circle cx="312.63" cy="1115.76" r="3.15"/><circle cx="293.41" cy="966.1" r="3.15"/><circle cx="316.84" cy="1089.33" r="3.15"/><circle cx="256.98" cy="1013.98" r="3.15"/><circle cx="265.44" cy="1103.38" r="3.15"/><circle cx="283" cy="1042.49" r="3.15"/><circle cx="297.11" cy="1026.95" r="3.15"/><circle cx="228.66" cy="1065.9" r="3.15"/><circle cx="222.77" cy="1014.59" r="3.15"/><circle cx="505.24" cy="1033.12" r="3.15"/><circle cx="206.04" cy="1016.79" r="3.15"/><circle cx="252.5" cy="1044.97" r="3.15"/><circle cx="312.61" cy="1051.76" r="3.15"/><circle cx="341.07" cy="1090.46" r="3.15"/><circle cx="347.68" cy="1043.41" r="3.15"/><circle cx="243.93" cy="1074.31" r="3.15"/><circle cx="220.99" cy="1076.95" r="3.15"/><circle cx="266.43" cy="1041.31" r="3.15"/><circle cx="291.65" cy="1053.19" r="3.15"/><circle cx="218.72" cy="1097.7" r="3.15"/><circle cx="297.16" cy="1059.39" r="3.15"/><circle cx="213.68" cy="1089.42" r="3.15"/><circle cx="338.91" cy="1091.58" r="3.15"/><circle cx="261.98" cy="1065.46" r="3.15"/><circle cx="274.03" cy="1027.12" r="3.15"/><circle cx="257.29" cy="1086.15" r="3.15"/><circle cx="240.06" cy="1101.16" r="3.15"/><circle cx="265.97" cy="1040.34" r="3.15"/><circle cx="261.02" cy="1039.86" r="3.15"/><circle cx="239.35" cy="1122.38" r="3.15"/><circle cx="492.54" cy="1014.35" r="3.15"/><circle cx="314.32" cy="1050.39" r="3.15"/><circle cx="242.75" cy="1102.98" r="3.15"/><circle cx="233" cy="1102.44" r="3.15"/><circle cx="229.45" cy="1067.9" r="3.15"/><circle cx="309.77" cy="1032.61" r="3.15"/><circle cx="342.88" cy="993.81" r="3.15"/><circle cx="218.49" cy="1062.3" r="3.15"/><circle cx="255.4" cy="1080.9" r="3.15"/><circle cx="232.36" cy="1065.96" r="3.15"/><circle cx="275.6" cy="1018.05" r="3.15"/><circle cx="280.2" cy="1051.71" r="3.15"/><circle cx="279.44" cy="1092.38" r="3.15"/><circle cx="214.28" cy="1095.06" r="3.15"/><circle cx="250.18" cy="1093.08" r="3.15"/><circle cx="239.56" cy="1079.87" r="3.15"/><circle cx="211.29" cy="992.24" r="3.15"/><circle cx="274.77" cy="1040.32" r="3.15"/><circle cx="242.6" cy="1137.29" r="3.15"/><circle cx="222.13" cy="1092.68" r="3.15"/><circle cx="336.39" cy="1131.12" r="3.15"/><circle cx="240.28" cy="1037.49" r="3.15"/><circle cx="238.74" cy="1009.92" r="3.15"/><circle cx="217.88" cy="1075.5" r="3.15"/><circle cx="219.75" cy="1091.08" r="3.15"/><circle cx="257.18" cy="1056.49" r="3.15"/><circle cx="241.12" cy="995.32" r="3.15"/><circle cx="241.09" cy="1023.49" r="3.15"/><circle cx="208.24" cy="1090.96" r="3.15"/><circle cx="334.1" cy="1070.49" r="3.15"/><circle cx="258.98" cy="1055.67" r="3.15"/><circle cx="239.73" cy="1033.62" r="3.15"/><circle cx="229.84" cy="982.72" r="3.15"/><circle cx="211.31" cy="1111.76" r="3.15"/><circle cx="289.61" cy="1054.52" r="3.15"/><circle cx="279.43" cy="1083.55" r="3.15"/><circle cx="234.27" cy="1076.18" r="3.15"/><circle cx="308.82" cy="1079.27" r="3.15"/><circle cx="282.36" cy="1123.4" r="3.15"/><circle cx="235.18" cy="1085.76" r="3.15"/><circle cx="296.16" cy="1008.61" r="3.15"/><circle cx="277.72" cy="1159.19" r="3.15"/><circle cx="243.65" cy="1090.67" r="3.15"/><circle cx="232.97" cy="1131.21" r="3.15"/><circle cx="249.96" cy="1119.55" r="3.15"/><circle cx="377.12" cy="1130.2" r="3.15"/><circle cx="354.77" cy="1078.91" r="3.15"/><circle cx="244.94" cy="984.67" r="3.15"/><circle cx="303.4" cy="1059.7" r="3.15"/><circle cx="456.97" cy="1101.84" r="3.15"/><circle cx="377.27" cy="1054.83" r="3.15"/><circle cx="489.35" cy="1054.95" r="3.15"/><circle cx="363.69" cy="1126.81" r="3.15"/><circle cx="217.9" cy="1076.87" r="3.15"/><circle cx="209.22" cy="1086.04" r="3.15"/><circle cx="247.66" cy="1069.68" r="3.15"/><circle cx="263.06" cy="1092.56" r="3.15"/><circle cx="223.55" cy="1077.63" r="3.15"/><circle cx="209.93" cy="1033.02" r="3.15"/><circle cx="238.24" cy="1032.32" r="3.15"/><circle cx="276.29" cy="1015.32" r="3.15"/><circle cx="296.05" cy="1081.19" r="3.15"/><circle cx="252.9" cy="1136.14" r="3.15"/><circle cx="340.01" cy="1107.4" r="3.15"/><circle cx="278.82" cy="1022.99" r="3.15"/><circle cx="265.68" cy="1163.68" r="3.15"/><circle cx="209.68" cy="1041.22" r="3.15"/><circle cx="263.22" cy="974.37" r="3.15"/><circle cx="307.38" cy="1025.59" r="3.15"/><circle cx="239.77" cy="1070.36" r="3.15"/><circle cx="274.23" cy="1001.75" r="3.15"/><circle cx="255.38" cy="1088.48" r="3.15"/><circle cx="241.21" cy="1112.86" r="3.15"/><circle cx="271.63" cy="1107.04" r="3.15"/><circle cx="370.78" cy="1033.93" r="3.15"/><circle cx="291.39" cy="1054.48" r="3.15"/><circle cx="249.88" cy="1073.12" r="3.15"/><circle cx="254.8" cy="1019.48" r="3.15"/><circle cx="215.62" cy="1152.14" r="3.15"/><circle cx="387.68" cy="1116.88" r="3.15"/><circle cx="212.37" cy="1169.43" r="3.15"/><circle cx="285.54" cy="1087.22" r="3.15"/><circle cx="223.23" cy="1058" r="3.15"/><circle cx="245.92" cy="1074.06" r="3.15"/><circle cx="208.56" cy="1087.79" r="3.15"/><circle cx="205.06" cy="1054.87" r="3.15"/><circle cx="332.72" cy="1036.63" r="3.15"/><circle cx="221.77" cy="1024.43" r="3.15"/><circle cx="279.09" cy="1102.68" r="3.15"/><circle cx="475.42" cy="1066.86" r="3.15"/><circle cx="213.67" cy="1051.58" r="3.15"/><circle cx="229.6" cy="1032.09" r="3.15"/><circle cx="207.62" cy="1067.96" r="3.15"/><circle cx="314.45" cy="1075.61" r="3.15"/><circle cx="277.99" cy="1082.6" r="3.15"/><circle cx="396.71" cy="1039.03" r="3.15"/><circle cx="316.67" cy="1003.8" r="3.15"/><circle cx="232.48" cy="1054.56" r="3.15"/><circle cx="261.12" cy="1035.36" r="3.15"/><circle cx="220.35" cy="1031.33" r="3.15"/><circle cx="213.84" cy="1114.2" r="3.15"/><circle cx="271.01" cy="1042.9" r="3.15"/><circle cx="366.87" cy="1111.13" r="3.15"/><circle cx="248.95" cy="1099.32" r="3.15"/><circle cx="313.75" cy="1089.33" r="3.15"/><circle cx="356.6" cy="1030.1" r="3.15"/><circle cx="227.34" cy="1034.38" r="3.15"/><circle cx="292.03" cy="1075.33" r="3.15"/><circle cx="318.46" cy="1010.49" r="3.15"/><circle cx="282.64" cy="1037.43" r="3.15"/><circle cx="217.26" cy="1046.88" r="3.15"/><circle cx="208.15" cy="1040.53" r="3.15"/><circle cx="281.5" cy="1038.44" r="3.15"/><circle cx="207.32" cy="1084.28" r="3.15"/><circle cx="229.33" cy="1111.15" r="3.15"/><circle cx="206.63" cy="1120.97" r="3.15"/><circle cx="412.61" cy="992.49" r="3.15"/><circle cx="291.09" cy="993.45" r="3.15"/><circle cx="335.89" cy="1077.94" r="3.15"/><circle cx="241.45" cy="1017.4" r="3.15"/><circle cx="265.76" cy="1057.78" r="3.15"/><circle cx="259.26" cy="1049.24" r="3.15"/><circle cx="476.54" cy="1061.91" r="3.15"/><circle cx="216.29" cy="1050.66" r="3.15"/><circle cx="280.16" cy="1026.1" r="3.15"/><circle cx="219.92" cy="1028.6" r="3.15"/><circle cx="213.43" cy="984.06" r="3.15"/><circle cx="446.5" cy="1051.93" r="3.15"/><circle cx="276.87" cy="1028.93" r="3.15"/><circle cx="307.63" cy="1060.94" r="3.15"/><circle cx="347.6" cy="986.72" r="3.15"/><circle cx="237.96" cy="1093.26" r="3.15"/><circle cx="241.39" cy="1150.02" r="3.15"/><circle cx="255.04" cy="1016.59" r="3.15"/><circle cx="230.56" cy="1022.3" r="3.15"/><circle cx="275.09" cy="1072.79" r="3.15"/><circle cx="213.12" cy="1059.8" r="3.15"/><circle cx="243.03" cy="1098.15" r="3.15"/><circle cx="251.2" cy="1046.82" r="3.15"/><circle cx="291.9" cy="1009.74" r="3.15"/><circle cx="482.43" cy="1078.33" r="3.15"/><circle cx="206.63" cy="1093.3" r="3.15"/><circle cx="212.25" cy="1040.34" r="3.15"/><circle cx="238.23" cy="1112.66" r="3.15"/><circle cx="226.07" cy="1047.18" r="3.15"/><circle cx="288.79" cy="967.66" r="3.15"/><circle cx="209.08" cy="1083.22" r="3.15"/><circle cx="207.92" cy="1161.39" r="3.15"/><circle cx="267.24" cy="1137.7" r="3.15"/><circle cx="252.57" cy="1080.02" r="3.15"/><circle cx="248.49" cy="1094.2" r="3.15"/><circle cx="239.07" cy="1020" r="3.15"/><circle cx="309.44" cy="994.74" r="3.15"/><circle cx="246.33" cy="1070.43" r="3.15"/><circle cx="225.75" cy="1026.73" r="3.15"/><circle cx="315.84" cy="1089.31" r="3.15"/><circle cx="265.19" cy="1111.03" r="3.15"/><circle cx="281.05" cy="1071.62" r="3.15"/><circle cx="212.87" cy="1120.52" r="3.15"/><circle cx="286.14" cy="1096.16" r="3.15"/><circle cx="286.08" cy="1104.47" r="3.15"/><circle cx="363.44" cy="1019.27" r="3.15"/><circle cx="205.38" cy="1094.05" r="3.15"/><circle cx="264.7" cy="1159.07" r="3.15"/><circle cx="254.53" cy="1139.33" r="3.15"/><circle cx="227.46" cy="1015.13" r="3.15"/><circle cx="249.41" cy="1086.84" r="3.15"/><circle cx="245.05" cy="1013.93" r="3.15"/><circle cx="260.83" cy="1035.63" r="3.15"/><circle cx="235.66" cy="976.09" r="3.15"/><circle cx="207.28" cy="1056.97" r="3.15"/><circle cx="244.01" cy="1045.82" r="3.15"/><circle cx="242.18" cy="1025.63" r="3.15"/><circle cx="272.54" cy="1061.81" r="3.15"/><circle cx="240.25" cy="1032.99" r="3.15"/><circle cx="267.97" cy="1105.89" r="3.15"/><circle cx="228.37" cy="1085.85" r="3.15"/><circle cx="215.75" cy="1037.96" r="3.15"/><circle cx="218.28" cy="1111.06" r="3.15"/><circle cx="205.17" cy="1104.12" r="3.15"/><circle cx="242.05" cy="1054.16" r="3.15"/><circle cx="393.26" cy="1092.82" r="3.15"/><circle cx="227.8" cy="1057.83" r="3.15"/><circle cx="210.42" cy="1085.05" r="3.15"/><circle cx="298.45" cy="1087.89" r="3.15"/><circle cx="252.99" cy="1017.31" r="3.15"/><circle cx="288.88" cy="1051.1" r="3.15"/><circle cx="291.5" cy="1084.31" r="3.15"/><circle cx="207.07" cy="1025.26" r="3.15"/><circle cx="310.28" cy="1037.32" r="3.15"/><circle cx="354.51" cy="1029.43" r="3.15"/><circle cx="238.14" cy="1061.29" r="3.15"/><circle cx="266.9" cy="1164.6" r="3.15"/><circle cx="262.74" cy="1030.12" r="3.15"/><circle cx="240.54" cy="1015.25" r="3.15"/><circle cx="305.2" cy="1071.48" r="3.15"/><circle cx="307.68" cy="1070.6" r="3.15"/><circle cx="246.32" cy="1126.9" r="3.15"/><circle cx="222.23" cy="1055.4" r="3.15"/><circle cx="313.8" cy="1078.64" r="3.15"/><circle cx="237.55" cy="1048.02" r="3.15"/><circle cx="209.07" cy="1033.96" r="3.15"/><circle cx="240.6" cy="1118.68" r="3.15"/><circle cx="253.18" cy="1041.03" r="3.15"/><circle cx="428.91" cy="1144.38" r="3.15"/><circle cx="214.52" cy="1052.87" r="3.15"/><circle cx="234.26" cy="1048.88" r="3.15"/><circle cx="267.4" cy="1001.53" r="3.15"/><circle cx="310.87" cy="1035.81" r="3.15"/><circle cx="282.31" cy="1081.24" r="3.15"/><circle cx="234.08" cy="1045.17" r="3.15"/><circle cx="309.16" cy="1051.38" r="3.15"/><circle cx="422.63" cy="1074.25" r="3.15"/><circle cx="263.59" cy="1119.54" r="3.15"/><circle cx="399.24" cy="1027.87" r="3.15"/><circle cx="238.12" cy="1062.37" r="3.15"/><circle cx="360.65" cy="1055.11" r="3.15"/><circle cx="234.33" cy="1076.36" r="3.15"/><circle cx="220.63" cy="1056.34" r="3.15"/><circle cx="315.78" cy="1104.77" r="3.15"/><circle cx="224.52" cy="1011.51" r="3.15"/><circle cx="242.65" cy="1049.43" r="3.15"/><circle cx="267.37" cy="1054.01" r="3.15"/><circle cx="237.39" cy="1103.74" r="3.15"/><circle cx="346.78" cy="1037.87" r="3.15"/><circle cx="254.61" cy="1086.25" r="3.15"/><circle cx="253.98" cy="1091.63" r="3.15"/><circle cx="390.54" cy="1088.19" r="3.15"/><circle cx="216.03" cy="1014.63" r="3.15"/><circle cx="362.96" cy="1149.98" r="3.15"/><circle cx="233.06" cy="1083.26" r="3.15"/><circle cx="271.44" cy="1085.29" r="3.15"/><circle cx="210.99" cy="1113.15" r="3.15"/><circle cx="206.07" cy="1124.26" r="3.15"/><circle cx="251.19" cy="1067.79" r="3.15"/><circle cx="248.55" cy="1056.78" r="3.15"/><circle cx="215.89" cy="1025.31" r="3.15"/><circle cx="220.38" cy="1115.41" r="3.15"/><circle cx="240.95" cy="1036.92" r="3.15"/><circle cx="277.19" cy="1040.05" r="3.15"/><circle cx="319.12" cy="1118.14" r="3.15"/><circle cx="243.7" cy="1081.75" r="3.15"/><circle cx="314.66" cy="1040.94" r="3.15"/><circle cx="280.13" cy="1117.61" r="3.15"/><circle cx="469.09" cy="1045.33" r="3.15"/><circle cx="255.66" cy="1004.59" r="3.15"/><circle cx="212.91" cy="983.69" r="3.15"/><circle cx="235.66" cy="1046.17" r="3.15"/><circle cx="265.95" cy="1049.52" r="3.15"/><circle cx="239.6" cy="1022.65" r="3.15"/><circle cx="290.45" cy="995.25" r="3.15"/><circle cx="216.7" cy="1082.28" r="3.15"/><circle cx="218.8" cy="1160.27" r="3.15"/><circle cx="247.65" cy="1063.24" r="3.15"/><circle cx="249.85" cy="967.35" r="3.15"/><circle cx="379.17" cy="1109.15" r="3.15"/><circle cx="216.03" cy="1051.93" r="3.15"/><circle cx="366.88" cy="1026.74" r="3.15"/><circle cx="303.84" cy="1105" r="3.15"/><circle cx="289.7" cy="1008.78" r="3.15"/><circle cx="219.45" cy="1082.29" r="3.15"/><circle cx="323.97" cy="994.48" r="3.15"/><circle cx="246.25" cy="1009.35" r="3.15"/><circle cx="228.97" cy="1077.06" r="3.15"/><circle cx="205.74" cy="1058.5" r="3.15"/><circle cx="242.77" cy="1107.67" r="3.15"/><circle cx="207.87" cy="986.4" r="3.15"/><circle cx="248.83" cy="1053.71" r="3.15"/><circle cx="251.5" cy="1024.11" r="3.15"/><circle cx="241.86" cy="1059.68" r="3.15"/><circle cx="213.25" cy="1091.59" r="3.15"/><circle cx="353.38" cy="1042.4" r="3.15"/><circle cx="227.26" cy="1115.83" r="3.15"/><circle cx="270.05" cy="1132.78" r="3.15"/><circle cx="212.43" cy="1099.68" r="3.15"/><circle cx="212.95" cy="1025.15" r="3.15"/><circle cx="267.3" cy="1054.53" r="3.15"/><circle cx="509.46" cy="1071.25" r="3.15"/><circle cx="324.92" cy="1077.62" r="3.15"/><circle cx="262.15" cy="1009.88" r="3.15"/><circle cx="281.73" cy="960.67" r="3.15"/><circle cx="208.88" cy="1077.56" r="3.15"/><circle cx="209.73" cy="1120.63" r="3.15"/><circle cx="342.6" cy="1085.52" r="3.15"/><circle cx="215.3" cy="1053.25" r="3.15"/><circle cx="232.62" cy="996.51" r="3.15"/><circle cx="370.78" cy="1055.76" r="3.15"/><circle cx="250.2" cy="1130.4" r="3.15"/><circle cx="272.68" cy="1027.25" r="3.15"/><circle cx="343.41" cy="1067.37" r="3.15"/><circle cx="352.54" cy="1137.81" r="3.15"/><circle cx="266.57" cy="1064.24" r="3.15"/><circle cx="207.07" cy="1093.32" r="3.15"/><circle cx="234.42" cy="1053.79" r="3.15"/><circle cx="391.94" cy="1050.08" r="3.15"/><circle cx="225.33" cy="996.48" r="3.15"/><circle cx="209.72" cy="1070.07" r="3.15"/><circle cx="243.64" cy="1088.74" r="3.15"/><circle cx="269.85" cy="1082.07" r="3.15"/><circle cx="226.13" cy="1037.88" r="3.15"/><circle cx="219.27" cy="983.45" r="3.15"/><circle cx="465.27" cy="1055.16" r="3.15"/><circle cx="277.28" cy="1044.14" r="3.15"/><circle cx="233.86" cy="1112.52" r="3.15"/><circle cx="272.93" cy="1116.65" r="3.15"/><circle cx="228.04" cy="1092.91" r="3.15"/><circle cx="222.89" cy="1099.31" r="3.15"/><circle cx="217.09" cy="1031.61" r="3.15"/><circle cx="249.4" cy="1081.25" r="3.15"/><circle cx="272.46" cy="1114.02" r="3.15"/><circle cx="243.87" cy="989.82" r="3.15"/><circle cx="234.48" cy="1060.71" r="3.15"/><circle cx="239.26" cy="1107.98" r="3.15"/><circle cx="257.42" cy="1156.06" r="3.15"/><circle cx="207.2" cy="1030.84" r="3.15"/><circle cx="259.39" cy="1032.22" r="3.15"/><circle cx="325.98" cy="1106.76" r="3.15"/><circle cx="222.29" cy="1064.38" r="3.15"/><circle cx="245.59" cy="1057.47" r="3.15"/><circle cx="249.05" cy="1113.58" r="3.15"/><circle cx="267.44" cy="1118.7" r="3.15"/><circle cx="216.46" cy="1067.32" r="3.15"/><circle cx="381.51" cy="1095.59" r="3.15"/><circle cx="243.41" cy="1072.96" r="3.15"/><circle cx="259.8" cy="1031.89" r="3.15"/><circle cx="234.59" cy="1067.09" r="3.15"/><circle cx="226.97" cy="1056.8" r="3.15"/><circle cx="362.24" cy="1020.73" r="3.15"/><circle cx="276.13" cy="1159.59" r="3.15"/><circle cx="260.68" cy="1109.53" r="3.15"/><circle cx="234.65" cy="1034.55" r="3.15"/><circle cx="219.75" cy="1063.1" r="3.15"/><circle cx="249.37" cy="1036.04" r="3.15"/><circle cx="325.73" cy="1132.13" r="3.15"/><circle cx="265.77" cy="1053.67" r="3.15"/><circle cx="205.14" cy="1122.7" r="3.15"/><circle cx="268.6" cy="1087.39" r="3.15"/><circle cx="253.95" cy="1064.54" r="3.15"/><circle cx="460.78" cy="1133.47" r="3.15"/><circle cx="237.71" cy="1061.43" r="3.15"/><circle cx="260.39" cy="1073.64" r="3.15"/><circle cx="378.18" cy="1068.08" r="3.15"/><circle cx="239.29" cy="1108.9" r="3.15"/><circle cx="235.84" cy="964.65" r="3.15"/><circle cx="246.54" cy="1082.93" r="3.15"/><circle cx="208.86" cy="1116.74" r="3.15"/><circle cx="222.13" cy="1079.55" r="3.15"/><circle cx="280.05" cy="1063.13" r="3.15"/><circle cx="446.62" cy="976.15" r="3.15"/><circle cx="206.31" cy="1028.84" r="3.15"/><circle cx="416.18" cy="980.49" r="3.15"/><circle cx="255.54" cy="1101.29" r="3.15"/><circle cx="277.81" cy="1012.12" r="3.15"/><circle cx="277.85" cy="1057.24" r="3.15"/><circle cx="211.01" cy="1157.43" r="3.15"/><circle cx="305.94" cy="1016.11" r="3.15"/><circle cx="238.62" cy="1021.88" r="3.15"/><circle cx="305.14" cy="1034.52" r="3.15"/><circle cx="234.28" cy="1074.02" r="3.15"/><circle cx="246.16" cy="1014.56" r="3.15"/><circle cx="265.58" cy="1092.71" r="3.15"/><circle cx="280.59" cy="1104.24" r="3.15"/><circle cx="205.6" cy="1047.22" r="3.15"/><circle cx="211.06" cy="1003.47" r="3.15"/><circle cx="267.26" cy="1120.67" r="3.15"/><circle cx="208.75" cy="1129.31" r="3.15"/><circle cx="218.94" cy="1057.24" r="3.15"/><circle cx="325.96" cy="1048.75" r="3.15"/><circle cx="268.58" cy="1037.07" r="3.15"/><circle cx="270.74" cy="1065.02" r="3.15"/><circle cx="220.56" cy="1014.28" r="3.15"/><circle cx="287.43" cy="1046.9" r="3.15"/><circle cx="426.52" cy="1059.31" r="3.15"/><circle cx="372.69" cy="996.63" r="3.15"/><circle cx="226.66" cy="1111.45" r="3.15"/><circle cx="235.51" cy="1148.41" r="3.15"/><circle cx="261.47" cy="1017.16" r="3.15"/><circle cx="261.64" cy="1140.77" r="3.15"/><circle cx="320.95" cy="1126.03" r="3.15"/><circle cx="276.29" cy="1052.37" r="3.15"/><circle cx="288.39" cy="1133.37" r="3.15"/><circle cx="241.51" cy="1122.91" r="3.15"/><circle cx="255.21" cy="1055.69" r="3.15"/><circle cx="279.58" cy="1129.04" r="3.15"/><circle cx="237.68" cy="1024.77" r="3.15"/><circle cx="259.66" cy="1057.68" r="3.15"/><circle cx="239.58" cy="1154.85" r="3.15"/><circle cx="272.04" cy="1076.05" r="3.15"/><circle cx="248.29" cy="1035.38" r="3.15"/><circle cx="245.81" cy="1131.97" r="3.15"/><circle cx="215.65" cy="1093.29" r="3.15"/><circle cx="254.8" cy="1095.41" r="3.15"/><circle cx="316.02" cy="1087.17" r="3.15"/><circle cx="214.65" cy="1005.73" r="3.15"/><circle cx="228.43" cy="1010.5" r="3.15"/><circle cx="325.36" cy="1002.53" r="3.15"/><circle cx="377.25" cy="1028.39" r="3.15"/><circle cx="363.23" cy="1039.71" r="3.15"/><circle cx="310.56" cy="1017.19" r="3.15"/><circle cx="249.58" cy="1076.73" r="3.15"/><circle cx="315.88" cy="1154.75" r="3.15"/><circle cx="250.13" cy="1110.22" r="3.15"/><circle cx="213.51" cy="1058.15" r="3.15"/><circle cx="267.76" cy="1088.31" r="3.15"/><circle cx="256.33" cy="1097.06" r="3.15"/><circle cx="212.9" cy="986.63" r="3.15"/><circle cx="219.44" cy="1034.18" r="3.15"/><circle cx="237.47" cy="1051.8" r="3.15"/><circle cx="244.05" cy="1072.11" r="3.15"/><circle cx="236.51" cy="1105.11" r="3.15"/><circle cx="382.77" cy="1061.07" r="3.15"/><circle cx="216.12" cy="1077.37" r="3.15"/><circle cx="253.6" cy="1099.56" r="3.15"/><circle cx="228.77" cy="1043.82" r="3.15"/><circle cx="236.15" cy="1005.96" r="3.15"/><circle cx="297.43" cy="1002.92" r="3.15"/><circle cx="252.28" cy="1043.59" r="3.15"/><circle cx="275.8" cy="1022.16" r="3.15"/><circle cx="245.44" cy="1034.72" r="3.15"/><circle cx="463.67" cy="1007.93" r="3.15"/><circle cx="211.59" cy="1011.78" r="3.15"/><circle cx="454.27" cy="994.79" r="3.15"/><circle cx="327.16" cy="1049.69" r="3.15"/><circle cx="255.4" cy="1009.87" r="3.15"/><circle cx="207.25" cy="1049.02" r="3.15"/><circle cx="281.16" cy="1063.25" r="3.15"/><circle cx="275.3" cy="1054.76" r="3.15"/><circle cx="227.54" cy="1068.03" r="3.15"/><circle cx="452.7" cy="1106.36" r="3.15"/><circle cx="269.74" cy="1000.56" r="3.15"/><circle cx="240.84" cy="1056.85" r="3.15"/><circle cx="213.96" cy="1072.9" r="3.15"/><circle cx="244.31" cy="1097.46" r="3.15"/><circle cx="262.68" cy="1113.62" r="3.15"/><circle cx="320.76" cy="1094.12" r="3.15"/><circle cx="356.32" cy="1030.16" r="3.15"/><circle cx="206.78" cy="1086.95" r="3.15"/><circle cx="269.13" cy="1042.96" r="3.15"/><circle cx="256.97" cy="1053.37" r="3.15"/><circle cx="301" cy="1045.34" r="3.15"/><circle cx="224.32" cy="989.23" r="3.15"/><circle cx="231.4" cy="1092.94" r="3.15"/><circle cx="280.54" cy="1095.22" r="3.15"/><circle cx="208.15" cy="1115.94" r="3.15"/><circle cx="296.38" cy="1099.03" r="3.15"/><circle cx="229.09" cy="1046.23" r="3.15"/><circle cx="298.74" cy="1171.05" r="3.15"/><circle cx="272.94" cy="1063.58" r="3.15"/><circle cx="206.13" cy="1164.2" r="3.15"/><circle cx="221.91" cy="1051.48" r="3.15"/><circle cx="316.97" cy="1045.99" r="3.15"/><circle cx="346.53" cy="1124.77" r="3.15"/><circle cx="419.47" cy="1065.34" r="3.15"/><circle cx="211.44" cy="1090.61" r="3.15"/><circle cx="237.96" cy="1092.79" r="3.15"/><circle cx="232.3" cy="1059.56" r="3.15"/><circle cx="511.86" cy="1024.99" r="3.15"/><circle cx="205.66" cy="1038.4" r="3.15"/><circle cx="214.87" cy="1088.02" r="3.15"/><circle cx="451.43" cy="1060.36" r="3.15"/><circle cx="292.19" cy="1023.94" r="3.15"/><circle cx="204.89" cy="1073.08" r="3.15"/><circle cx="237.69" cy="1077.05" r="3.15"/><circle cx="217.11" cy="1097.27" r="3.15"/><circle cx="237.32" cy="1066.24" r="3.15"/><circle cx="301.06" cy="1091.74" r="3.15"/><circle cx="486.82" cy="1097.37" r="3.15"/><circle cx="278.35" cy="1071.84" r="3.15"/><circle cx="226.14" cy="1032.62" r="3.15"/><circle cx="280.95" cy="1052.2" r="3.15"/><circle cx="269.19" cy="1074.03" r="3.15"/><circle cx="210.82" cy="1085.17" r="3.15"/><circle cx="206.5" cy="1050.28" r="3.15"/><circle cx="281.47" cy="1034.97" r="3.15"/><circle cx="329.49" cy="1050.39" r="3.15"/><circle cx="236.82" cy="1056.13" r="3.15"/><circle cx="290.78" cy="1052.07" r="3.15"/><circle cx="206.16" cy="1056.62" r="3.15"/><circle cx="233.19" cy="1097.14" r="3.15"/><circle cx="245.09" cy="1160.31" r="3.15"/><circle cx="222.13" cy="999.77" r="3.15"/><circle cx="460.57" cy="1057.37" r="3.15"/><circle cx="385.91" cy="1011.47" r="3.15"/><circle cx="247.76" cy="1081.19" r="3.15"/><circle cx="266.38" cy="1105.59" r="3.15"/><circle cx="241.1" cy="1058.77" r="3.15"/><circle cx="269.96" cy="1083.09" r="3.15"/><circle cx="228.59" cy="1031.01" r="3.15"/><circle cx="222.16" cy="1076.94" r="3.15"/><circle cx="265.81" cy="1107.14" r="3.15"/><circle cx="474.61" cy="1082.86" r="3.15"/><circle cx="280.41" cy="1107.71" r="3.15"/><circle cx="235.89" cy="1099.03" r="3.15"/><circle cx="218.1" cy="1051.13" r="3.15"/><circle cx="205.54" cy="1092.1" r="3.15"/><circle cx="311.97" cy="1115.84" r="3.15"/><circle cx="263.36" cy="1066.98" r="3.15"/><circle cx="225.03" cy="1095.11" r="3.15"/><circle cx="223.15" cy="1118.93" r="3.15"/><circle cx="212.06" cy="1082.82" r="3.15"/><circle cx="216.16" cy="1103.34" r="3.15"/><circle cx="361.81" cy="1100.21" r="3.15"/><circle cx="348.84" cy="1065.09" r="3.15"/><circle cx="218.97" cy="1168.02" r="3.15"/><circle cx="375.25" cy="996.69" r="3.15"/><circle cx="292.31" cy="1040.17" r="3.15"/><circle cx="209.37" cy="1091.53" r="3.15"/><circle cx="261.27" cy="1055.46" r="3.15"/><circle cx="222.58" cy="1011.31" r="3.15"/><circle cx="269.99" cy="1103.86" r="3.15"/><circle cx="212.82" cy="1052.24" r="3.15"/><circle cx="224.21" cy="1023.38" r="3.15"/><circle cx="234.71" cy="1083.57" r="3.15"/><circle cx="391.31" cy="1143.82" r="3.15"/><circle cx="268.38" cy="1085.19" r="3.15"/><circle cx="271.14" cy="1062.77" r="3.15"/><circle cx="259.18" cy="1043.26" r="3.15"/><circle cx="247.2" cy="1054.03" r="3.15"/><circle cx="267.93" cy="1110.99" r="3.15"/><circle cx="218.71" cy="1067.22" r="3.15"/><circle cx="259.56" cy="1013.28" r="3.15"/><circle cx="226.19" cy="1116.12" r="3.15"/><circle cx="238.7" cy="999.57" r="3.15"/><circle cx="271.46" cy="1047.95" r="3.15"/><circle cx="228.19" cy="992.27" r="3.15"/><circle cx="216.26" cy="1069.19" r="3.15"/><circle cx="230.59" cy="1060.41" r="3.15"/><circle cx="218.06" cy="1056.26" r="3.15"/><circle cx="231.31" cy="1097.45" r="3.15"/><circle cx="230.49" cy="1024.44" r="3.15"/><circle cx="219.19" cy="1051.06" r="3.15"/><circle cx="228.04" cy="1077.64" r="3.15"/><circle cx="215.62" cy="1083.81" r="3.15"/><circle cx="209" cy="1106.42" r="3.15"/><circle cx="269.05" cy="1079.04" r="3.15"/><circle cx="317.66" cy="1128.23" r="3.15"/><circle cx="475.87" cy="1043.9" r="3.15"/><circle cx="292.57" cy="1013.94" r="3.15"/><circle cx="368.7" cy="1110.4" r="3.15"/><circle cx="219.26" cy="1121.32" r="3.15"/><circle cx="228.76" cy="1047.2" r="3.15"/><circle cx="206.76" cy="1077.95" r="3.15"/><circle cx="220.66" cy="1009.31" r="3.15"/><circle cx="260.24" cy="1049.41" r="3.15"/><circle cx="399.83" cy="1076.28" r="3.15"/><circle cx="223.08" cy="1100.25" r="3.15"/><circle cx="344.04" cy="1070.43" r="3.15"/><circle cx="325.31" cy="1086.26" r="3.15"/><circle cx="207.76" cy="1101.96" r="3.15"/><circle cx="214.1" cy="1057.88" r="3.15"/><circle cx="299.02" cy="1047.71" r="3.15"/><circle cx="291.14" cy="1050.67" r="3.15"/><circle cx="362.75" cy="1005.68" r="3.15"/><circle cx="225.28" cy="1145.95" r="3.15"/><circle cx="264.6" cy="1060.33" r="3.15"/><circle cx="322.45" cy="1026.46" r="3.15"/><circle cx="216.67" cy="1019.06" r="3.15"/><circle cx="336.76" cy="1094.17" r="3.15"/><circle cx="246.2" cy="1065.55" r="3.15"/><circle cx="277.05" cy="1131.6" r="3.15"/><circle cx="480.68" cy="1143.37" r="3.15"/><circle cx="231.87" cy="1078.6" r="3.15"/><circle cx="289.93" cy="1042.78" r="3.15"/><circle cx="304.79" cy="1072.71" r="3.15"/><circle cx="393.36" cy="1077.11" r="3.15"/><circle cx="327.97" cy="1033.24" r="3.15"/><circle cx="258.41" cy="1141.51" r="3.15"/><circle cx="365.46" cy="1012.32" r="3.15"/><circle cx="267.35" cy="1107.46" r="3.15"/><circle cx="265.49" cy="1049.25" r="3.15"/><circle cx="216.57" cy="1058.56" r="3.15"/><circle cx="212.82" cy="1092.25" r="3.15"/><circle cx="239.59" cy="1020.81" r="3.15"/><circle cx="311.33" cy="1093.13" r="3.15"/><circle cx="206.3" cy="1040.18" r="3.15"/><circle cx="248.95" cy="976" r="3.15"/><circle cx="272.56" cy="1031.46" r="3.15"/><circle cx="377.49" cy="1063.95" r="3.15"/><circle cx="218.83" cy="1065.96" r="3.15"/><circle cx="227.93" cy="1067.54" r="3.15"/><circle cx="239.11" cy="1069.33" r="3.15"/><circle cx="232.56" cy="1066.08" r="3.15"/><circle cx="245.5" cy="997.56" r="3.15"/><circle cx="207.11" cy="1147.82" r="3.15"/><circle cx="276.98" cy="1071.36" r="3.15"/><circle cx="221.57" cy="1094.7" r="3.15"/><circle cx="254.36" cy="1006.55" r="3.15"/><circle cx="212.83" cy="1063.06" r="3.15"/><circle cx="279.03" cy="1043.77" r="3.15"/><circle cx="284.32" cy="1105.47" r="3.15"/><circle cx="279.37" cy="1079.42" r="3.15"/><circle cx="213.85" cy="1054.59" r="3.15"/><circle cx="214.14" cy="1007.19" r="3.15"/><circle cx="236.98" cy="1063.23" r="3.15"/><circle cx="313.43" cy="1038.34" r="3.15"/><circle cx="266.61" cy="1026.39" r="3.15"/><circle cx="221.39" cy="1051.16" r="3.15"/><circle cx="292" cy="1093.03" r="3.15"/><circle cx="205.19" cy="1039.3" r="3.15"/><circle cx="260.53" cy="1073.27" r="3.15"/><circle cx="212.91" cy="1062.41" r="3.15"/><circle cx="209.75" cy="1009.22" r="3.15"/><circle cx="235.8" cy="1027.24" r="3.15"/><circle cx="243.45" cy="1024.1" r="3.15"/><circle cx="226.2" cy="1036.29" r="3.15"/><circle cx="231.49" cy="1015.76" r="3.15"/><circle cx="253.62" cy="1089.11" r="3.15"/><circle cx="266.75" cy="1098.37" r="3.15"/><circle cx="236.84" cy="1112.37" r="3.15"/><circle cx="226.37" cy="1112.2" r="3.15"/><circle cx="220.13" cy="1130.13" r="3.15"/><circle cx="251.75" cy="1051.35" r="3.15"/><circle cx="209.7" cy="1093.51" r="3.15"/><circle cx="260.03" cy="1120.99" r="3.15"/><circle cx="222.75" cy="1030.85" r="3.15"/><circle cx="278.52" cy="997.51" r="3.15"/><circle cx="377.11" cy="1076.86" r="3.15"/><circle cx="237.98" cy="1049.68" r="3.15"/><circle cx="279.54" cy="1027.03" r="3.15"/><circle cx="287.68" cy="1082.19" r="3.15"/><circle cx="273.16" cy="1027.67" r="3.15"/><circle cx="260.43" cy="1026.86" r="3.15"/><circle cx="288.4" cy="986.4" r="3.15"/><circle cx="228.72" cy="1096.39" r="3.15"/><circle cx="359.44" cy="1043.56" r="3.15"/><circle cx="208.93" cy="1105.73" r="3.15"/><circle cx="246.76" cy="1081.08" r="3.15"/><circle cx="361.15" cy="998.71" r="3.15"/><circle cx="225.18" cy="976.11" r="3.15"/><circle cx="236.62" cy="1125.97" r="3.15"/><circle cx="243.3" cy="1030.29" r="3.15"/><circle cx="353.96" cy="1098.99" r="3.15"/><circle cx="337.5" cy="1079.62" r="3.15"/><circle cx="211.94" cy="1058.55" r="3.15"/><circle cx="217.12" cy="1063.16" r="3.15"/><circle cx="364.93" cy="1105.21" r="3.15"/><circle cx="247.3" cy="1038.86" r="3.15"/><circle cx="256.58" cy="1051.35" r="3.15"/><circle cx="260.28" cy="1059.74" r="3.15"/><circle cx="205.34" cy="1048.91" r="3.15"/><circle cx="314.81" cy="1075.57" r="3.15"/><circle cx="422.73" cy="986.22" r="3.15"/><circle cx="204.9" cy="1037.23" r="3.15"/><circle cx="219.95" cy="1010.65" r="3.15"/><circle cx="216.07" cy="1069.87" r="3.15"/><circle cx="228.21" cy="1041.55" r="3.15"/><circle cx="210.18" cy="1129.57" r="3.15"/><circle cx="243.68" cy="1048.82" r="3.15"/><circle cx="291.59" cy="1076.7" r="3.15"/><circle cx="269.04" cy="1086.24" r="3.15"/><circle cx="319.16" cy="955.12" r="3.15"/><circle cx="255.18" cy="1120.99" r="3.15"/><circle cx="249.81" cy="1140.93" r="3.15"/><circle cx="306.68" cy="1114.2" r="3.15"/><circle cx="211.11" cy="1006.94" r="3.15"/><circle cx="214.81" cy="1102.78" r="3.15"/><circle cx="281.68" cy="1086.89" r="3.15"/><circle cx="295.08" cy="1050.51" r="3.15"/><circle cx="364.62" cy="1108.81" r="3.15"/><circle cx="340.17" cy="1076.09" r="3.15"/><circle cx="279.25" cy="1024.24" r="3.15"/><circle cx="277.18" cy="1038.9" r="3.15"/><circle cx="226.23" cy="1015.93" r="3.15"/><circle cx="333.88" cy="998.82" r="3.15"/><circle cx="274.95" cy="1130.06" r="3.15"/><circle cx="208.68" cy="1009.2" r="3.15"/><circle cx="221.59" cy="1080.23" r="3.15"/><circle cx="219.32" cy="1171.74" r="3.15"/><circle cx="272.72" cy="1071" r="3.15"/><circle cx="216.58" cy="1045.85" r="3.15"/><circle cx="249.22" cy="1092.44" r="3.15"/><circle cx="205.36" cy="1085.03" r="3.15"/><circle cx="263.81" cy="1091.21" r="3.15"/><circle cx="276.4" cy="1059.98" r="3.15"/><circle cx="328.74" cy="1120.52" r="3.15"/><circle cx="261.53" cy="983.45" r="3.15"/><circle cx="239.9" cy="812.2" r="3.15"/><circle cx="263.2" cy="820.6" r="3.15"/><circle cx="321.4" cy="815.9" r="3.15"/><circle cx="281.8" cy="841.1" r="3.15"/><circle cx="260.8" cy="886.7" r="3.15"/><circle cx="273.9" cy="888.1" r="3.15"/><circle cx="347.9" cy="886.2" r="3.15"/><circle cx="363.3" cy="870.4" r="3.15"/><circle cx="318.1" cy="905.3" r="3.15"/><circle cx="359.6" cy="903.9" r="3.15"/><circle cx="408.9" cy="903" r="3.15"/><circle cx="427.6" cy="904" r="3.15"/><circle cx="477.4" cy="922.6" r="3.15"/><circle cx="409.9" cy="930" r="3.15"/><circle cx="221.2" cy="930" r="3.15"/><circle cx="251.5" cy="921.6" r="3.15"/><circle cx="292.5" cy="928.6" r="3.15"/><circle cx="337.7" cy="927.2" r="3.15"/><circle cx="357.7" cy="930" r="3.15"/><circle cx="377.3" cy="948.2" r="3.15"/><circle cx="395" cy="955.2" r="3.15"/><circle cx="405.2" cy="965.9" r="3.15"/><circle cx="475.1" cy="984.5" r="3.15"/><circle cx="484.4" cy="991.5" r="3.15"/><circle cx="437.8" cy="1006.9" r="3.15"/><circle cx="457.4" cy="995.2" r="3.15"/><circle cx="529.6" cy="1005.5" r="3.15"/><circle cx="507.7" cy="1021.8" r="3.15"/><circle cx="475.1" cy="1045.1" r="3.15"/><circle cx="442.5" cy="1047.4" r="3.15"/><circle cx="499.8" cy="1069.3" r="3.15"/><circle cx="510.9" cy="1085.1" r="3.15"/><circle cx="484.4" cy="1131.2" r="3.15"/><circle cx="520.3" cy="1106.6" r="3.15"/><circle cx="461.1" cy="1106.6" r="3.15"/><circle cx="444.8" cy="1096.3" r="3.15"/><circle cx="381" cy="1139.6" r="3.15"/><circle cx="340" cy="1165.2" r="3.15"/><circle cx="384.7" cy="1191.8" r="3.15"/><circle cx="255.2" cy="1153.6" r="3.15"/><circle cx="225" cy="1158.3" r="3.15"/><circle cx="207.3" cy="1146.1" r="3.15"/></g>
<line x1="287.17" y1="770.3" x2="287.17" y2="1252.7" stroke="#333" stroke-width="4.2" stroke-linecap="round" stroke-dasharray="0 8.8"/>
<line x1="126.1" y1="1058.18" x2="614.3" y2="1058.18" stroke="#333" stroke-width="4.2" stroke-linecap="round" stroke-dasharray="0 10"/>
<line x1="204.3" y1="1063.6" x2="616" y2="1039.1" stroke="#4a6cb3" stroke-width="5"/>
<rect x="122.1" y="761.9" width="495.2" height="493.8" fill="none" stroke="#000" stroke-width="4.4"/>
<line x1="97.6" y1="761.9" x2="122.1" y2="761.9" stroke="#000" stroke-width="4.4"/>
<text transform="translate(70.1 776.56) scale(1 1.04)" font-size="41" fill="#000" stroke="#000" stroke-width="0.55" stroke-linejoin="round">6</text>
<line x1="97.6" y1="860.66" x2="122.1" y2="860.66" stroke="#000" stroke-width="4.4"/>
<text transform="translate(69.5 875.32) scale(1 1.04)" font-size="41" fill="#000" stroke="#000" stroke-width="0.55" stroke-linejoin="round">4</text>
<line x1="97.6" y1="959.42" x2="122.1" y2="959.42" stroke="#000" stroke-width="4.4"/>
<text transform="translate(70.36 974.08) scale(1 1.04)" font-size="41" fill="#000" stroke="#000" stroke-width="0.55" stroke-linejoin="round">2</text>
<line x1="97.6" y1="1058.18" x2="122.1" y2="1058.18" stroke="#000" stroke-width="4.4"/>
<text transform="translate(69.9 1072.84) scale(1 1.04)" font-size="41" fill="#000" stroke="#000" stroke-width="0.55" stroke-linejoin="round">0</text>
<line x1="97.6" y1="1156.94" x2="122.1" y2="1156.94" stroke="#000" stroke-width="4.4"/>
<text transform="translate(56.71 1171.6) scale(1 1.04)" font-size="41" fill="#000" stroke="#000" stroke-width="0.55" stroke-linejoin="round">-2</text>
<line x1="97.6" y1="1255.7" x2="122.1" y2="1255.7" stroke="#000" stroke-width="4.4"/>
<text transform="translate(55.85 1270.36) scale(1 1.04)" font-size="41" fill="#000" stroke="#000" stroke-width="0.55" stroke-linejoin="round">-4</text>
<line x1="122.1" y1="1255.7" x2="122.1" y2="1280.2" stroke="#000" stroke-width="4.4"/>
<text transform="translate(103.99 1321.8) scale(1 1.04)" font-size="41" fill="#000" stroke="#000" stroke-width="0.55" stroke-linejoin="round">-2</text>
<line x1="287.17" y1="1255.7" x2="287.17" y2="1280.2" stroke="#000" stroke-width="4.4"/>
<text transform="translate(275.77 1321.8) scale(1 1.04)" font-size="41" fill="#000" stroke="#000" stroke-width="0.55" stroke-linejoin="round">0</text>
<line x1="452.23" y1="1255.7" x2="452.23" y2="1280.2" stroke="#000" stroke-width="4.4"/>
<text transform="translate(440.83 1321.8) scale(1 1.04)" font-size="41" fill="#000" stroke="#000" stroke-width="0.55" stroke-linejoin="round">2</text>
<line x1="617.3" y1="1255.7" x2="617.3" y2="1280.2" stroke="#000" stroke-width="4.4"/>
<text transform="translate(606.03 1321.8) scale(1 1.04)" font-size="41" fill="#000" stroke="#000" stroke-width="0.55" stroke-linejoin="round">4</text>
<text transform="translate(132.62 804.1) scale(1 1.04)" font-size="41.79" fill="#000" stroke="#000" stroke-width="0.55" stroke-linejoin="round">n=1100</text>
<text transform="translate(350.06 811) scale(1 1.04)" font-size="41.78" fill="#000" stroke="#000" stroke-width="0.55" stroke-linejoin="round">TCGA-BRCA</text>
<text transform="translate(417.66 861.9) scale(1 1.04)" font-size="40.77" fill="#000" stroke="#000" stroke-width="0.55" stroke-linejoin="round">Rho=0.11</text>
<text transform="translate(459.59 910.5) scale(1 1.04)" font-size="41.58" fill="#000" stroke="#000" stroke-width="0.55" stroke-linejoin="round">P=1e-4</text>
<text transform="translate(190.04 1373.1) scale(1 1.04)" font-size="44.63" fill="#000" stroke="#000" stroke-width="0.55" stroke-linejoin="round">NQO1 Expression</text>
<text transform="translate(39.5 1252.82) rotate(-90) scale(1 1.04)" font-size="44.08" fill="#000" stroke="#000" stroke-width="0.55" stroke-linejoin="round">HNRNPA2B1 Expression</text>
<g fill="#7ba6dc"><circle cx="964.85" cy="1126.66" r="3.0"/><circle cx="939.15" cy="1051.02" r="3.0"/><circle cx="911.97" cy="1147.7" r="3.0"/><circle cx="928.76" cy="1095.79" r="3.0"/><circle cx="972.1" cy="1047.55" r="3.0"/><circle cx="924.24" cy="1100.04" r="3.0"/><circle cx="994.07" cy="1028.03" r="3.0"/><circle cx="1013.66" cy="1075.87" r="3.0"/><circle cx="1003.28" cy="1078.43" r="3.0"/><circle cx="937.17" cy="1012.05" r="3.0"/><circle cx="930.87" cy="1052.37" r="3.0"/><circle cx="1010.56" cy="1085.91" r="3.0"/><circle cx="937.56" cy="1092.81" r="3.0"/><circle cx="938.97" cy="1039.85" r="3.0"/><circle cx="942.31" cy="1017.86" r="3.0"/><circle cx="1035.22" cy="1079.16" r="3.0"/><circle cx="877.49" cy="1079.33" r="3.0"/><circle cx="1024.37" cy="1026.75" r="3.0"/><circle cx="1013.41" cy="1095.7" r="3.0"/><circle cx="1047.43" cy="1050.93" r="3.0"/><circle cx="992.62" cy="1059.13" r="3.0"/><circle cx="1080.04" cy="1072.2" r="3.0"/><circle cx="1007.47" cy="1104.03" r="3.0"/><circle cx="927.19" cy="1162.28" r="3.0"/><circle cx="899.84" cy="1079.12" r="3.0"/><circle cx="971.58" cy="1117.85" r="3.0"/><circle cx="992.43" cy="1059.41" r="3.0"/><circle cx="984.85" cy="1090.95" r="3.0"/><circle cx="1019.2" cy="1085.11" r="3.0"/><circle cx="1025.7" cy="1012.93" r="3.0"/><circle cx="849.51" cy="1047.51" r="3.0"/><circle cx="968.52" cy="1107.13" r="3.0"/><circle cx="968.99" cy="1037.31" r="3.0"/><circle cx="998.39" cy="1083.5" r="3.0"/><circle cx="930.07" cy="1121.74" r="3.0"/><circle cx="1026.61" cy="1062.97" r="3.0"/><circle cx="972.51" cy="1069.63" r="3.0"/><circle cx="1034.5" cy="1030.47" r="3.0"/><circle cx="938.32" cy="1031.56" r="3.0"/><circle cx="963.19" cy="1027.81" r="3.0"/><circle cx="904.74" cy="1098.45" r="3.0"/><circle cx="922.98" cy="1073.81" r="3.0"/><circle cx="953.91" cy="1138.72" r="3.0"/><circle cx="942.16" cy="1058.59" r="3.0"/><circle cx="984.61" cy="1077.52" r="3.0"/><circle cx="990.78" cy="1152.37" r="3.0"/><circle cx="968.91" cy="1045.88" r="3.0"/><circle cx="969.68" cy="1052.48" r="3.0"/><circle cx="914.31" cy="1133" r="3.0"/><circle cx="947.83" cy="1156.86" r="3.0"/><circle cx="957.65" cy="1084.36" r="3.0"/><circle cx="932.92" cy="1062.74" r="3.0"/><circle cx="1005.91" cy="1073.66" r="3.0"/><circle cx="995.88" cy="1015.08" r="3.0"/><circle cx="928.36" cy="981.85" r="3.0"/><circle cx="945.75" cy="1067.37" r="3.0"/><circle cx="964.54" cy="1078.93" r="3.0"/><circle cx="972.12" cy="1087.82" r="3.0"/><circle cx="1040.51" cy="988.15" r="3.0"/><circle cx="957.34" cy="1069.49" r="3.0"/><circle cx="937.24" cy="1044.41" r="3.0"/><circle cx="984.32" cy="1035.03" r="3.0"/><circle cx="997.86" cy="1028.99" r="3.0"/><circle cx="1025.76" cy="1051.29" r="3.0"/><circle cx="918.62" cy="998.28" r="3.0"/><circle cx="953.39" cy="1047.61" r="3.0"/><circle cx="976.32" cy="1061.43" r="3.0"/><circle cx="974.36" cy="1110.49" r="3.0"/><circle cx="890.31" cy="1085" r="3.0"/><circle cx="985.18" cy="1070.33" r="3.0"/><circle cx="1036.29" cy="1026" r="3.0"/><circle cx="995.78" cy="1089.91" r="3.0"/><circle cx="958.41" cy="1060.07" r="3.0"/><circle cx="914.72" cy="1078.21" r="3.0"/><circle cx="963.62" cy="1058.9" r="3.0"/><circle cx="928.27" cy="1003.71" r="3.0"/><circle cx="928.45" cy="1126.56" r="3.0"/><circle cx="885.04" cy="1026.95" r="3.0"/><circle cx="986.55" cy="1116.14" r="3.0"/><circle cx="1005.89" cy="1084.45" r="3.0"/><circle cx="961.09" cy="1073.19" r="3.0"/><circle cx="994.17" cy="1031.4" r="3.0"/><circle cx="970.41" cy="1068.98" r="3.0"/><circle cx="1044.6" cy="1063.9" r="3.0"/><circle cx="959.9" cy="1032.62" r="3.0"/><circle cx="963.56" cy="1029.95" r="3.0"/><circle cx="905.98" cy="1075.24" r="3.0"/><circle cx="961.75" cy="1048.46" r="3.0"/><circle cx="944.83" cy="1014.02" r="3.0"/><circle cx="940.43" cy="1048.59" r="3.0"/><circle cx="1037.73" cy="1103.98" r="3.0"/><circle cx="1001.9" cy="1063.25" r="3.0"/><circle cx="1014.26" cy="1125.41" r="3.0"/><circle cx="979.82" cy="980.46" r="3.0"/><circle cx="919.79" cy="1060.8" r="3.0"/><circle cx="966.54" cy="1132.02" r="3.0"/><circle cx="1014.96" cy="1083.4" r="3.0"/><circle cx="923.5" cy="1051.82" r="3.0"/><circle cx="956.31" cy="1039.65" r="3.0"/><circle cx="964.04" cy="1073.27" r="3.0"/><circle cx="1015.08" cy="1082.09" r="3.0"/><circle cx="966.9" cy="1104.59" r="3.0"/><circle cx="1001.25" cy="1031.23" r="3.0"/><circle cx="997.02" cy="1017.02" r="3.0"/><circle cx="952.54" cy="1054.88" r="3.0"/><circle cx="975.9" cy="1059.23" r="3.0"/><circle cx="904.51" cy="1063.5" r="3.0"/><circle cx="942.3" cy="1089.68" r="3.0"/><circle cx="993.2" cy="1081.48" r="3.0"/><circle cx="986.68" cy="1044.91" r="3.0"/><circle cx="984.56" cy="1056.69" r="3.0"/><circle cx="969.4" cy="1050.48" r="3.0"/><circle cx="1008.5" cy="1095.71" r="3.0"/><circle cx="998.96" cy="1036.21" r="3.0"/><circle cx="972.05" cy="1108.14" r="3.0"/><circle cx="890.64" cy="1020.92" r="3.0"/><circle cx="1081.5" cy="1052.04" r="3.0"/><circle cx="929.08" cy="1096.36" r="3.0"/><circle cx="1043.93" cy="1068.89" r="3.0"/><circle cx="957.92" cy="1098.16" r="3.0"/><circle cx="1028.71" cy="1060.02" r="3.0"/><circle cx="928.4" cy="1140.03" r="3.0"/><circle cx="969.19" cy="1022.71" r="3.0"/><circle cx="947.5" cy="1060.81" r="3.0"/><circle cx="1006.61" cy="1039.02" r="3.0"/><circle cx="1014.73" cy="1071.31" r="3.0"/><circle cx="976.34" cy="1047.54" r="3.0"/><circle cx="858.67" cy="1099.13" r="3.0"/><circle cx="974.2" cy="1103.02" r="3.0"/><circle cx="918.18" cy="1086.01" r="3.0"/><circle cx="1046.73" cy="1123.73" r="3.0"/><circle cx="945.75" cy="1037.46" r="3.0"/><circle cx="865.6" cy="1085.25" r="3.0"/><circle cx="963.55" cy="1076.79" r="3.0"/><circle cx="905.18" cy="1103.59" r="3.0"/><circle cx="992.43" cy="1046.23" r="3.0"/><circle cx="908.75" cy="1027.97" r="3.0"/><circle cx="989.56" cy="1080.32" r="3.0"/><circle cx="889.3" cy="1027.36" r="3.0"/><circle cx="1027.09" cy="1052.91" r="3.0"/><circle cx="967.15" cy="1059.28" r="3.0"/><circle cx="1004.78" cy="1133.3" r="3.0"/><circle cx="958" cy="1103.45" r="3.0"/><circle cx="1069.38" cy="1017.1" r="3.0"/><circle cx="958.38" cy="1025.72" r="3.0"/><circle cx="1000.88" cy="979.07" r="3.0"/><circle cx="963.13" cy="1091.27" r="3.0"/><circle cx="1028.43" cy="1033.16" r="3.0"/><circle cx="897.14" cy="1128.11" r="3.0"/><circle cx="890.33" cy="1102.21" r="3.0"/><circle cx="993.35" cy="1108.24" r="3.0"/><circle cx="931.13" cy="1100.31" r="3.0"/><circle cx="918.42" cy="1054.91" r="3.0"/><circle cx="989.92" cy="1007.98" r="3.0"/><circle cx="965.87" cy="1057.5" r="3.0"/><circle cx="844.36" cy="1118.05" r="3.0"/><circle cx="971.46" cy="1011.7" r="3.0"/><circle cx="939.12" cy="1051.33" r="3.0"/><circle cx="913.65" cy="1127.79" r="3.0"/><circle cx="1002.82" cy="1008.41" r="3.0"/><circle cx="994.09" cy="1061.55" r="3.0"/><circle cx="1034" cy="1031.5" r="3.0"/><circle cx="939.56" cy="1089.69" r="3.0"/><circle cx="919.47" cy="1086.23" r="3.0"/><circle cx="1092.63" cy="1043.66" r="3.0"/><circle cx="1007.88" cy="1126.85" r="3.0"/><circle cx="1000.73" cy="1060.76" r="3.0"/><circle cx="921.64" cy="1030.31" r="3.0"/><circle cx="943.04" cy="1047.24" r="3.0"/><circle cx="1004.2" cy="1066.06" r="3.0"/><circle cx="900.12" cy="1082.81" r="3.0"/><circle cx="978.48" cy="1004.73" r="3.0"/><circle cx="870.03" cy="1055.94" r="3.0"/><circle cx="998.63" cy="1055.89" r="3.0"/><circle cx="952.17" cy="1101.24" r="3.0"/><circle cx="878.1" cy="1051.03" r="3.0"/><circle cx="961.69" cy="1034.1" r="3.0"/><circle cx="963.67" cy="1155.2" r="3.0"/><circle cx="957.67" cy="997.92" r="3.0"/><circle cx="991.01" cy="1030.6" r="3.0"/><circle cx="883.63" cy="1074.53" r="3.0"/><circle cx="935.07" cy="1137.68" r="3.0"/><circle cx="986.27" cy="965.99" r="3.0"/><circle cx="974.29" cy="1036.46" r="3.0"/><circle cx="972.65" cy="1084.14" r="3.0"/><circle cx="940.83" cy="1023.58" r="3.0"/><circle cx="932.22" cy="1139.42" r="3.0"/><circle cx="993.18" cy="1064.62" r="3.0"/><circle cx="951.5" cy="1077.93" r="3.0"/><circle cx="1007.82" cy="1112.59" r="3.0"/><circle cx="952.82" cy="1095.13" r="3.0"/><circle cx="1049.44" cy="1091.17" r="3.0"/><circle cx="929.41" cy="1030.55" r="3.0"/><circle cx="949.94" cy="1049.45" r="3.0"/><circle cx="1006.88" cy="1017.63" r="3.0"/><circle cx="966.65" cy="1105.86" r="3.0"/><circle cx="1009.09" cy="1011.74" r="3.0"/><circle cx="1002.24" cy="1049.85" r="3.0"/><circle cx="1008.16" cy="1013.41" r="3.0"/><circle cx="902.63" cy="1079.44" r="3.0"/><circle cx="1009.46" cy="1044.12" r="3.0"/><circle cx="968.85" cy="1103.44" r="3.0"/><circle cx="982.01" cy="1018.14" r="3.0"/><circle cx="924.17" cy="1062.31" r="3.0"/><circle cx="991.9" cy="1089" r="3.0"/><circle cx="1008.31" cy="1069.91" r="3.0"/><circle cx="986.2" cy="1062.47" r="3.0"/><circle cx="993.7" cy="1140.25" r="3.0"/><circle cx="976.92" cy="1062.71" r="3.0"/><circle cx="958.9" cy="1111.37" r="3.0"/><circle cx="993.33" cy="1071.59" r="3.0"/><circle cx="960.22" cy="1061.25" r="3.0"/><circle cx="962.91" cy="973.15" r="3.0"/><circle cx="992.27" cy="1050.45" r="3.0"/><circle cx="1018.03" cy="1120.17" r="3.0"/><circle cx="1055.7" cy="1042.94" r="3.0"/><circle cx="1025.93" cy="1112.77" r="3.0"/><circle cx="974.32" cy="1109.35" r="3.0"/><circle cx="930.88" cy="1099.51" r="3.0"/><circle cx="986.73" cy="1029.91" r="3.0"/><circle cx="920.68" cy="1001.58" r="3.0"/><circle cx="920.89" cy="1041.46" r="3.0"/><circle cx="876.14" cy="1123.81" r="3.0"/><circle cx="1031.45" cy="1059.63" r="3.0"/><circle cx="1026.61" cy="1033.06" r="3.0"/><circle cx="976.22" cy="1082.61" r="3.0"/><circle cx="988.63" cy="964.44" r="3.0"/><circle cx="1046.8" cy="1121.8" r="3.0"/><circle cx="1041.52" cy="1106.91" r="3.0"/><circle cx="927.02" cy="1116.5" r="3.0"/><circle cx="987.01" cy="1009.88" r="3.0"/><circle cx="893.29" cy="1031" r="3.0"/><circle cx="965.2" cy="1035.79" r="3.0"/><circle cx="973.12" cy="1018.08" r="3.0"/><circle cx="956.61" cy="1093.11" r="3.0"/><circle cx="914.6" cy="1144.91" r="3.0"/><circle cx="953.45" cy="1044" r="3.0"/><circle cx="1076.46" cy="1129.05" r="3.0"/><circle cx="939.43" cy="1040.48" r="3.0"/><circle cx="971.01" cy="1043.79" r="3.0"/><circle cx="1017.64" cy="1056.56" r="3.0"/><circle cx="1012.02" cy="1010.44" r="3.0"/><circle cx="952.54" cy="1048.55" r="3.0"/><circle cx="1042.65" cy="1111.71" r="3.0"/><circle cx="1041.63" cy="1093.73" r="3.0"/><circle cx="981.68" cy="1035.89" r="3.0"/><circle cx="986.64" cy="1089.45" r="3.0"/><circle cx="966.47" cy="1038.19" r="3.0"/><circle cx="999.24" cy="1073.79" r="3.0"/><circle cx="986.35" cy="1051.82" r="3.0"/><circle cx="1028.41" cy="1100.1" r="3.0"/><circle cx="888.7" cy="1072.32" r="3.0"/><circle cx="1018.31" cy="1127.81" r="3.0"/><circle cx="965.98" cy="1092.2" r="3.0"/><circle cx="1043.58" cy="1038.76" r="3.0"/><circle cx="1030.73" cy="1087.9" r="3.0"/><circle cx="964.46" cy="1102.66" r="3.0"/><circle cx="971.13" cy="1028.07" r="3.0"/><circle cx="948.83" cy="1032.9" r="3.0"/><circle cx="921.97" cy="1112.28" r="3.0"/><circle cx="961.65" cy="1054.19" r="3.0"/><circle cx="1010.68" cy="1042.15" r="3.0"/><circle cx="959.62" cy="1099.9" r="3.0"/><circle cx="905.97" cy="1096.51" r="3.0"/><circle cx="969.53" cy="1070.47" r="3.0"/><circle cx="917.54" cy="1004.65" r="3.0"/><circle cx="972.43" cy="1065.18" r="3.0"/><circle cx="1003.15" cy="1064.93" r="3.0"/><circle cx="1026.28" cy="1047.57" r="3.0"/><circle cx="928.97" cy="1026.29" r="3.0"/><circle cx="842.54" cy="1112.96" r="3.0"/><circle cx="967.41" cy="1032.86" r="3.0"/><circle cx="957.43" cy="1049.67" r="3.0"/><circle cx="1005.46" cy="1030.52" r="3.0"/><circle cx="1002.3" cy="1063.31" r="3.0"/><circle cx="954.57" cy="1063.08" r="3.0"/><circle cx="971.56" cy="962.91" r="3.0"/><circle cx="1011.08" cy="988.14" r="3.0"/><circle cx="935.21" cy="1102.33" r="3.0"/><circle cx="861.19" cy="1134.54" r="3.0"/><circle cx="984.84" cy="1047.7" r="3.0"/><circle cx="975.28" cy="1045.46" r="3.0"/><circle cx="942.32" cy="1059.92" r="3.0"/><circle cx="1030.98" cy="1067.34" r="3.0"/><circle cx="961.35" cy="1005.55" r="3.0"/><circle cx="979.16" cy="1103.68" r="3.0"/><circle cx="1054.07" cy="1036.09" r="3.0"/><circle cx="913.82" cy="1046.09" r="3.0"/><circle cx="1009.06" cy="1043.47" r="3.0"/><circle cx="904.3" cy="1097" r="3.0"/><circle cx="1002.19" cy="994.72" r="3.0"/><circle cx="943.7" cy="1025.84" r="3.0"/><circle cx="946.59" cy="1031.01" r="3.0"/><circle cx="1001.65" cy="1045.33" r="3.0"/><circle cx="880.3" cy="1091.65" r="3.0"/><circle cx="955.9" cy="1118.02" r="3.0"/><circle cx="926.91" cy="1068.07" r="3.0"/><circle cx="1025.16" cy="1126.24" r="3.0"/><circle cx="970.66" cy="1069.54" r="3.0"/><circle cx="923.58" cy="1097.08" r="3.0"/><circle cx="1009.28" cy="1069.59" r="3.0"/><circle cx="999.39" cy="1158.57" r="3.0"/><circle cx="961.24" cy="1115.32" r="3.0"/><circle cx="1007.2" cy="1065.53" r="3.0"/><circle cx="983.99" cy="1042.64" r="3.0"/><circle cx="1013.73" cy="1121.27" r="3.0"/><circle cx="913.04" cy="1047.56" r="3.0"/><circle cx="998.55" cy="968.1" r="3.0"/><circle cx="1013.09" cy="1076.76" r="3.0"/><circle cx="923.94" cy="1104.8" r="3.0"/><circle cx="1043.28" cy="1136.29" r="3.0"/><circle cx="980.42" cy="1094.9" r="3.0"/><circle cx="939.94" cy="1085.93" r="3.0"/><circle cx="955.78" cy="1050.51" r="3.0"/><circle cx="966.41" cy="999.5" r="3.0"/><circle cx="990.44" cy="1106.88" r="3.0"/><circle cx="902.2" cy="1063.05" r="3.0"/><circle cx="912.06" cy="1012.27" r="3.0"/><circle cx="1032.23" cy="1044.17" r="3.0"/><circle cx="901.42" cy="1062.13" r="3.0"/><circle cx="1066.78" cy="1058.33" r="3.0"/><circle cx="960.63" cy="1121.23" r="3.0"/><circle cx="896.02" cy="1126.63" r="3.0"/><circle cx="923.68" cy="1038.37" r="3.0"/><circle cx="1050.95" cy="1009.37" r="3.0"/><circle cx="978.85" cy="1023.37" r="3.0"/><circle cx="916.54" cy="1026.32" r="3.0"/><circle cx="1030.71" cy="998.16" r="3.0"/><circle cx="992.86" cy="1005.69" r="3.0"/><circle cx="936.17" cy="1081.51" r="3.0"/><circle cx="912" cy="1056.83" r="3.0"/><circle cx="891.11" cy="1159.48" r="3.0"/><circle cx="969.44" cy="1023.33" r="3.0"/><circle cx="993.01" cy="1057.96" r="3.0"/><circle cx="1042.61" cy="1058.71" r="3.0"/><circle cx="1044.96" cy="1022.59" r="3.0"/><circle cx="1018.01" cy="1116.86" r="3.0"/><circle cx="895.84" cy="1061.34" r="3.0"/><circle cx="939.67" cy="1100.88" r="3.0"/><circle cx="995.03" cy="1001.39" r="3.0"/><circle cx="956.17" cy="1116.8" r="3.0"/><circle cx="974.62" cy="1088.78" r="3.0"/><circle cx="947.17" cy="1048.5" r="3.0"/><circle cx="969.17" cy="997.81" r="3.0"/><circle cx="1019.22" cy="1065.06" r="3.0"/><circle cx="994.67" cy="1121.79" r="3.0"/><circle cx="898" cy="1096.81" r="3.0"/><circle cx="946.42" cy="1053.16" r="3.0"/><circle cx="911.84" cy="1045.53" r="3.0"/><circle cx="887.92" cy="1118.12" r="3.0"/><circle cx="1017.45" cy="1017.94" r="3.0"/><circle cx="967.72" cy="1101.36" r="3.0"/><circle cx="1090.45" cy="1099.72" r="3.0"/><circle cx="1002.68" cy="1072.86" r="3.0"/><circle cx="995.04" cy="1113.77" r="3.0"/><circle cx="944.18" cy="1115.76" r="3.0"/><circle cx="933.33" cy="1076.23" r="3.0"/><circle cx="1008.11" cy="1162.05" r="3.0"/><circle cx="944.62" cy="1082.58" r="3.0"/><circle cx="1047.51" cy="1112.97" r="3.0"/><circle cx="1018.98" cy="1053.28" r="3.0"/><circle cx="1018.87" cy="1103.45" r="3.0"/><circle cx="980.23" cy="1030.59" r="3.0"/><circle cx="924.97" cy="1054.57" r="3.0"/><circle cx="1031.2" cy="1044.9" r="3.0"/><circle cx="942.71" cy="1058.89" r="3.0"/><circle cx="971.39" cy="1101.33" r="3.0"/><circle cx="1010.75" cy="1050.32" r="3.0"/><circle cx="953.91" cy="1042.74" r="3.0"/><circle cx="949.96" cy="1062.84" r="3.0"/><circle cx="905.26" cy="1055.71" r="3.0"/><circle cx="1025.77" cy="1051.18" r="3.0"/><circle cx="1057.81" cy="1073.46" r="3.0"/><circle cx="929.96" cy="1089.05" r="3.0"/><circle cx="1030.47" cy="1059.86" r="3.0"/><circle cx="1069.35" cy="1057.18" r="3.0"/><circle cx="1062.03" cy="1038.24" r="3.0"/><circle cx="1026.21" cy="1016.08" r="3.0"/><circle cx="941.49" cy="1079.49" r="3.0"/><circle cx="902.37" cy="1086.41" r="3.0"/><circle cx="940.77" cy="987.99" r="3.0"/><circle cx="1000.5" cy="1067.05" r="3.0"/><circle cx="1045.91" cy="1064.77" r="3.0"/><circle cx="1041.55" cy="1096.57" r="3.0"/><circle cx="970.69" cy="1050.21" r="3.0"/><circle cx="998.83" cy="1152.78" r="3.0"/><circle cx="955.98" cy="1096.28" r="3.0"/><circle cx="887.49" cy="1078.51" r="3.0"/><circle cx="944.46" cy="1095.47" r="3.0"/><circle cx="1030.36" cy="1055.29" r="3.0"/><circle cx="1016.71" cy="1019.35" r="3.0"/><circle cx="983.42" cy="1051.55" r="3.0"/><circle cx="979.09" cy="1081.29" r="3.0"/><circle cx="1001.35" cy="1097.97" r="3.0"/><circle cx="963.44" cy="1018.34" r="3.0"/><circle cx="907.8" cy="1009.08" r="3.0"/><circle cx="946.24" cy="1044.94" r="3.0"/><circle cx="997.68" cy="1032.65" r="3.0"/><circle cx="951.41" cy="1036.41" r="3.0"/><circle cx="1001.83" cy="1125.59" r="3.0"/><circle cx="953.02" cy="1085.32" r="3.0"/><circle cx="956.53" cy="1044.9" r="3.0"/><circle cx="1022.95" cy="1023.06" r="3.0"/><circle cx="939.95" cy="1067.74" r="3.0"/><circle cx="991.89" cy="993.11" r="3.0"/><circle cx="1021.22" cy="1072.75" r="3.0"/><circle cx="987.65" cy="1089.62" r="3.0"/><circle cx="891.71" cy="1093.85" r="3.0"/><circle cx="1049.37" cy="1148.16" r="3.0"/><circle cx="1010.62" cy="1039.71" r="3.0"/><circle cx="929.72" cy="1091.58" r="3.0"/><circle cx="951.44" cy="1043.93" r="3.0"/><circle cx="1005.81" cy="1050.65" r="3.0"/><circle cx="933.48" cy="1048.76" r="3.0"/><circle cx="1004.55" cy="1133.88" r="3.0"/><circle cx="909.12" cy="1086.36" r="3.0"/><circle cx="977.83" cy="1080.08" r="3.0"/><circle cx="1012.25" cy="1055.38" r="3.0"/><circle cx="950.33" cy="1110.69" r="3.0"/><circle cx="978.32" cy="1111.41" r="3.0"/><circle cx="990.54" cy="1023.03" r="3.0"/><circle cx="1044.02" cy="1124.39" r="3.0"/><circle cx="1031.83" cy="1059.02" r="3.0"/><circle cx="982.52" cy="1113.74" r="3.0"/><circle cx="984.91" cy="1038.03" r="3.0"/><circle cx="952.27" cy="1089.9" r="3.0"/><circle cx="950.89" cy="1085.82" r="3.0"/><circle cx="946.98" cy="1108.15" r="3.0"/><circle cx="941.45" cy="1149.93" r="3.0"/><circle cx="1011.98" cy="998.53" r="3.0"/><circle cx="955.69" cy="1073" r="3.0"/><circle cx="925.33" cy="1012.46" r="3.0"/><circle cx="926.21" cy="1044.45" r="3.0"/><circle cx="962" cy="1108.82" r="3.0"/><circle cx="989.9" cy="1089.92" r="3.0"/><circle cx="937.88" cy="1047.93" r="3.0"/><circle cx="915.86" cy="1068.13" r="3.0"/><circle cx="975.99" cy="1096.28" r="3.0"/><circle cx="1014.26" cy="1052.44" r="3.0"/><circle cx="915.27" cy="1036.48" r="3.0"/><circle cx="944.36" cy="1021.41" r="3.0"/><circle cx="871.04" cy="1004.51" r="3.0"/><circle cx="1087.1" cy="1061" r="3.0"/><circle cx="913.35" cy="1084.06" r="3.0"/><circle cx="905.17" cy="1083.99" r="3.0"/><circle cx="977.68" cy="1169.96" r="3.0"/><circle cx="948.07" cy="1014.37" r="3.0"/><circle cx="1003.84" cy="1001.11" r="3.0"/><circle cx="970.77" cy="1062.12" r="3.0"/><circle cx="976.02" cy="1089.72" r="3.0"/><circle cx="992.1" cy="1077.65" r="3.0"/><circle cx="1058.84" cy="1137.15" r="3.0"/><circle cx="963.77" cy="1074.76" r="3.0"/><circle cx="923.81" cy="1154.73" r="3.0"/><circle cx="988.04" cy="1044.02" r="3.0"/><circle cx="929.99" cy="1033.06" r="3.0"/><circle cx="1012.24" cy="1018.54" r="3.0"/><circle cx="979.8" cy="1137.45" r="3.0"/><circle cx="972.11" cy="1118.3" r="3.0"/><circle cx="887.76" cy="1098.19" r="3.0"/><circle cx="889.36" cy="1018.05" r="3.0"/><circle cx="935.89" cy="1080.51" r="3.0"/><circle cx="963.07" cy="1007.82" r="3.0"/><circle cx="862.17" cy="1066.4" r="3.0"/><circle cx="940.95" cy="1044.89" r="3.0"/><circle cx="976.25" cy="1129.13" r="3.0"/><circle cx="934.62" cy="1139.6" r="3.0"/><circle cx="1011.74" cy="1101.63" r="3.0"/><circle cx="977.85" cy="1119.53" r="3.0"/><circle cx="1043.38" cy="1128.98" r="3.0"/><circle cx="930.65" cy="1049.79" r="3.0"/><circle cx="988.24" cy="1006.46" r="3.0"/><circle cx="924.81" cy="1076.31" r="3.0"/><circle cx="1012.76" cy="1014.43" r="3.0"/><circle cx="944.84" cy="1067.67" r="3.0"/><circle cx="939.52" cy="1039.73" r="3.0"/><circle cx="904.22" cy="1042.27" r="3.0"/><circle cx="1049.31" cy="1017.81" r="3.0"/><circle cx="1028.86" cy="1020.7" r="3.0"/><circle cx="963.78" cy="1056.86" r="3.0"/><circle cx="982.2" cy="1107.78" r="3.0"/><circle cx="964.76" cy="1024.06" r="3.0"/><circle cx="895.43" cy="1114.93" r="3.0"/><circle cx="981.5" cy="1061.42" r="3.0"/><circle cx="937.74" cy="1049.55" r="3.0"/><circle cx="1019.33" cy="1035.43" r="3.0"/><circle cx="966.49" cy="1047.57" r="3.0"/><circle cx="913.6" cy="1081.84" r="3.0"/><circle cx="992.26" cy="1071.27" r="3.0"/><circle cx="962.96" cy="1127.9" r="3.0"/><circle cx="982" cy="1156.01" r="3.0"/><circle cx="959" cy="1072.71" r="3.0"/><circle cx="980.72" cy="1059.13" r="3.0"/><circle cx="979.18" cy="1084.87" r="3.0"/><circle cx="920.13" cy="1078.72" r="3.0"/><circle cx="1070.99" cy="1073.9" r="3.0"/><circle cx="977.97" cy="993.84" r="3.0"/><circle cx="841.55" cy="1096.38" r="3.0"/><circle cx="1015.08" cy="986.59" r="3.0"/><circle cx="891.32" cy="1097.29" r="3.0"/><circle cx="984.61" cy="1074.49" r="3.0"/><circle cx="1043.05" cy="1065.61" r="3.0"/><circle cx="950.41" cy="1042.15" r="3.0"/><circle cx="959.75" cy="1006.77" r="3.0"/><circle cx="1023.75" cy="1022.36" r="3.0"/><circle cx="996.39" cy="1018.47" r="3.0"/><circle cx="992.45" cy="1051.19" r="3.0"/><circle cx="956.96" cy="1064.5" r="3.0"/><circle cx="967.89" cy="1068.74" r="3.0"/><circle cx="870.38" cy="1114.25" r="3.0"/><circle cx="944.26" cy="975.57" r="3.0"/><circle cx="958.56" cy="1067.65" r="3.0"/><circle cx="996.3" cy="1092.73" r="3.0"/><circle cx="989.67" cy="1112.17" r="3.0"/><circle cx="899.69" cy="1078.84" r="3.0"/><circle cx="926" cy="1109.93" r="3.0"/><circle cx="852.93" cy="1026.74" r="3.0"/><circle cx="955.86" cy="1017.81" r="3.0"/><circle cx="1038.24" cy="1090.09" r="3.0"/><circle cx="971.63" cy="1012.72" r="3.0"/><circle cx="924.17" cy="1032.93" r="3.0"/><circle cx="968.68" cy="1050.52" r="3.0"/><circle cx="953.35" cy="1053.56" r="3.0"/><circle cx="900.24" cy="1077.91" r="3.0"/><circle cx="916.61" cy="1028.4" r="3.0"/><circle cx="951.18" cy="1134" r="3.0"/><circle cx="1002.07" cy="1033.18" r="3.0"/><circle cx="931.46" cy="1068.47" r="3.0"/><circle cx="926.82" cy="1159.88" r="3.0"/><circle cx="891" cy="1080.75" r="3.0"/><circle cx="958.16" cy="1059.01" r="3.0"/><circle cx="905.98" cy="1041.44" r="3.0"/><circle cx="1050.05" cy="1058.44" r="3.0"/><circle cx="964.59" cy="1103.93" r="3.0"/><circle cx="1029.38" cy="1058.55" r="3.0"/><circle cx="956.75" cy="1112.45" r="3.0"/><circle cx="967.82" cy="1081.32" r="3.0"/><circle cx="928.42" cy="1094.56" r="3.0"/><circle cx="913.52" cy="1061.21" r="3.0"/><circle cx="921.63" cy="984.36" r="3.0"/><circle cx="950.83" cy="1066.52" r="3.0"/><circle cx="978.41" cy="1086.11" r="3.0"/><circle cx="1055.75" cy="1067.67" r="3.0"/><circle cx="978.33" cy="1105.3" r="3.0"/><circle cx="1000.68" cy="1090.7" r="3.0"/><circle cx="1008.75" cy="1096.51" r="3.0"/><circle cx="920.82" cy="1045.93" r="3.0"/><circle cx="911.39" cy="1091.38" r="3.0"/><circle cx="917.15" cy="1064.91" r="3.0"/><circle cx="1037.22" cy="1051.25" r="3.0"/><circle cx="891.7" cy="1112.3" r="3.0"/><circle cx="989.32" cy="1043.09" r="3.0"/><circle cx="919.56" cy="1003.46" r="3.0"/><circle cx="1089.37" cy="1073.61" r="3.0"/><circle cx="893.66" cy="1058.78" r="3.0"/><circle cx="899.56" cy="1023.68" r="3.0"/><circle cx="936.42" cy="1014.11" r="3.0"/><circle cx="905.2" cy="1057.25" r="3.0"/><circle cx="999.22" cy="1074.69" r="3.0"/><circle cx="1007.94" cy="1043.85" r="3.0"/><circle cx="1010.12" cy="1109.76" r="3.0"/><circle cx="1066.64" cy="1096.64" r="3.0"/><circle cx="915.95" cy="1091.12" r="3.0"/><circle cx="970.82" cy="1049.26" r="3.0"/><circle cx="943.6" cy="1113.71" r="3.0"/><circle cx="926.48" cy="1057.88" r="3.0"/><circle cx="980.71" cy="1134.74" r="3.0"/><circle cx="1072.45" cy="1104.13" r="3.0"/><circle cx="918.3" cy="1104.61" r="3.0"/><circle cx="1073.77" cy="1040.96" r="3.0"/><circle cx="980.1" cy="993.66" r="3.0"/><circle cx="941.33" cy="1132.51" r="3.0"/><circle cx="905.91" cy="1058.88" r="3.0"/><circle cx="1007.72" cy="1071.19" r="3.0"/><circle cx="972.56" cy="1049.96" r="3.0"/><circle cx="957.33" cy="1090.77" r="3.0"/><circle cx="934.32" cy="1033.96" r="3.0"/><circle cx="957.56" cy="1153.34" r="3.0"/><circle cx="946.51" cy="1028.87" r="3.0"/><circle cx="971.76" cy="1008.23" r="3.0"/><circle cx="872.47" cy="1104.22" r="3.0"/><circle cx="977.31" cy="1060.41" r="3.0"/><circle cx="1014.44" cy="1111.6" r="3.0"/><circle cx="1005.23" cy="1079.48" r="3.0"/><circle cx="897.46" cy="1080.76" r="3.0"/><circle cx="979.43" cy="1031.81" r="3.0"/><circle cx="1022.45" cy="1038.48" r="3.0"/><circle cx="1009.51" cy="990.53" r="3.0"/><circle cx="1016.88" cy="1068.94" r="3.0"/><circle cx="958.08" cy="1062.42" r="3.0"/><circle cx="999.68" cy="1017.77" r="3.0"/><circle cx="959.57" cy="1142.31" r="3.0"/><circle cx="950.43" cy="1045.42" r="3.0"/><circle cx="887.57" cy="1083.71" r="3.0"/><circle cx="981.81" cy="988.04" r="3.0"/><circle cx="955.25" cy="1073.79" r="3.0"/><circle cx="887.3" cy="1027.34" r="3.0"/><circle cx="1031.38" cy="1082.03" r="3.0"/><circle cx="984.78" cy="1007.95" r="3.0"/><circle cx="982.5" cy="1021.71" r="3.0"/><circle cx="955.89" cy="1024.21" r="3.0"/><circle cx="975.68" cy="1077.81" r="3.0"/><circle cx="1010.92" cy="1014.88" r="3.0"/><circle cx="926.47" cy="1106.2" r="3.0"/><circle cx="898.76" cy="1100.02" r="3.0"/><circle cx="1017.25" cy="1024.25" r="3.0"/><circle cx="991.87" cy="1031.45" r="3.0"/><circle cx="928.5" cy="990.29" r="3.0"/><circle cx="1018.68" cy="1092.42" r="3.0"/><circle cx="906.15" cy="1047.4" r="3.0"/><circle cx="971.76" cy="1041.83" r="3.0"/><circle cx="983.69" cy="1018.42" r="3.0"/><circle cx="967.42" cy="1108.43" r="3.0"/><circle cx="989.77" cy="1059.31" r="3.0"/><circle cx="942.33" cy="1081.73" r="3.0"/><circle cx="885.75" cy="1044.53" r="3.0"/><circle cx="995.71" cy="1032.44" r="3.0"/><circle cx="969.5" cy="997.84" r="3.0"/><circle cx="965.08" cy="1037.2" r="3.0"/><circle cx="951.07" cy="1077.36" r="3.0"/><circle cx="1022.02" cy="1048.85" r="3.0"/><circle cx="941.59" cy="1063.19" r="3.0"/><circle cx="981.11" cy="1066.89" r="3.0"/><circle cx="981.8" cy="1027.31" r="3.0"/><circle cx="921.04" cy="1040.36" r="3.0"/><circle cx="1007.57" cy="1095.45" r="3.0"/><circle cx="989.77" cy="1147.74" r="3.0"/><circle cx="996.99" cy="1083.51" r="3.0"/><circle cx="900.03" cy="1047.31" r="3.0"/><circle cx="1026.27" cy="1003.1" r="3.0"/><circle cx="948.01" cy="1054.98" r="3.0"/><circle cx="965.36" cy="1040.02" r="3.0"/><circle cx="987.25" cy="1018.83" r="3.0"/><circle cx="1011.33" cy="1012.68" r="3.0"/><circle cx="939.91" cy="1092.52" r="3.0"/><circle cx="982.87" cy="1069.4" r="3.0"/><circle cx="968" cy="1033.97" r="3.0"/><circle cx="965.05" cy="1083.51" r="3.0"/><circle cx="965.6" cy="1097.63" r="3.0"/><circle cx="918.79" cy="1073.74" r="3.0"/><circle cx="963.67" cy="1060.28" r="3.0"/><circle cx="1025.45" cy="1015.07" r="3.0"/><circle cx="916.79" cy="1082.29" r="3.0"/><circle cx="885.85" cy="1096.91" r="3.0"/><circle cx="1035.95" cy="1073.75" r="3.0"/><circle cx="897.93" cy="1027.27" r="3.0"/><circle cx="949.18" cy="1133.06" r="3.0"/><circle cx="934.68" cy="1047.12" r="3.0"/><circle cx="976.69" cy="1017.23" r="3.0"/><circle cx="946.83" cy="1075.54" r="3.0"/><circle cx="987.97" cy="1081.83" r="3.0"/><circle cx="941.39" cy="1107.29" r="3.0"/><circle cx="910.08" cy="1097.75" r="3.0"/><circle cx="1083.42" cy="1061.05" r="3.0"/><circle cx="970.58" cy="1007.33" r="3.0"/><circle cx="990.13" cy="1035.33" r="3.0"/><circle cx="903.42" cy="1077.09" r="3.0"/><circle cx="930.19" cy="1119.31" r="3.0"/><circle cx="941.51" cy="1108.5" r="3.0"/><circle cx="1014.09" cy="1013.27" r="3.0"/><circle cx="925.22" cy="1118.12" r="3.0"/><circle cx="990.07" cy="1018.11" r="3.0"/><circle cx="950.57" cy="1053.72" r="3.0"/><circle cx="932.98" cy="1019.21" r="3.0"/><circle cx="1002.26" cy="1043.01" r="3.0"/><circle cx="981.36" cy="1081.82" r="3.0"/><circle cx="915.63" cy="1062.14" r="3.0"/><circle cx="999.15" cy="1075.52" r="3.0"/><circle cx="903.36" cy="1112.75" r="3.0"/><circle cx="991.82" cy="1068.78" r="3.0"/><circle cx="962.42" cy="1064.15" r="3.0"/><circle cx="1077.86" cy="1102.77" r="3.0"/><circle cx="992.75" cy="1071.59" r="3.0"/><circle cx="1072.49" cy="1028.28" r="3.0"/><circle cx="996.26" cy="1060.64" r="3.0"/><circle cx="948.16" cy="1107.71" r="3.0"/><circle cx="1003.2" cy="997.64" r="3.0"/><circle cx="894.58" cy="1092.47" r="3.0"/><circle cx="907.2" cy="1016.3" r="3.0"/><circle cx="961.96" cy="1047.23" r="3.0"/><circle cx="1042.73" cy="1013.44" r="3.0"/><circle cx="1013" cy="1048.85" r="3.0"/><circle cx="900.05" cy="1108.22" r="3.0"/><circle cx="865.62" cy="1014.25" r="3.0"/><circle cx="981.12" cy="1089.48" r="3.0"/><circle cx="889.22" cy="1122.22" r="3.0"/><circle cx="910.77" cy="1122.94" r="3.0"/><circle cx="934.38" cy="1045.2" r="3.0"/><circle cx="917.19" cy="1083.31" r="3.0"/><circle cx="923.71" cy="1081.49" r="3.0"/><circle cx="954.33" cy="1121.51" r="3.0"/><circle cx="1013.05" cy="982.04" r="3.0"/><circle cx="933.25" cy="1032.92" r="3.0"/><circle cx="967.38" cy="1018.07" r="3.0"/><circle cx="987.26" cy="1051.01" r="3.0"/><circle cx="989.94" cy="1010.77" r="3.0"/><circle cx="960.61" cy="1079.4" r="3.0"/><circle cx="928.28" cy="1005.06" r="3.0"/><circle cx="961.53" cy="1060.84" r="3.0"/><circle cx="892.58" cy="1079.51" r="3.0"/><circle cx="961.02" cy="1026.94" r="3.0"/><circle cx="1026.99" cy="1038.77" r="3.0"/><circle cx="994.27" cy="1042.25" r="3.0"/><circle cx="992.33" cy="1095.84" r="3.0"/><circle cx="992.83" cy="1109.9" r="3.0"/><circle cx="948.27" cy="1090.66" r="3.0"/><circle cx="999.3" cy="1052.86" r="3.0"/><circle cx="997.87" cy="1097.65" r="3.0"/><circle cx="957.95" cy="1058.34" r="3.0"/><circle cx="952.73" cy="1101.78" r="3.0"/><circle cx="907.69" cy="1073.76" r="3.0"/><circle cx="1015.9" cy="1034.03" r="3.0"/><circle cx="855.74" cy="1015.25" r="3.0"/><circle cx="983.3" cy="981.06" r="3.0"/><circle cx="946.94" cy="1049.37" r="3.0"/><circle cx="968.26" cy="1045.12" r="3.0"/><circle cx="944.59" cy="997.31" r="3.0"/><circle cx="961.81" cy="1121.83" r="3.0"/><circle cx="921.91" cy="1101.69" r="3.0"/><circle cx="919.29" cy="1021.04" r="3.0"/><circle cx="1047.2" cy="1011.74" r="3.0"/><circle cx="948.6" cy="980.08" r="3.0"/><circle cx="1032.09" cy="982.91" r="3.0"/><circle cx="1003.29" cy="989.65" r="3.0"/><circle cx="975.32" cy="1021.72" r="3.0"/><circle cx="980.68" cy="1052.69" r="3.0"/><circle cx="963.54" cy="1006.71" r="3.0"/><circle cx="1012.66" cy="1128.53" r="3.0"/><circle cx="960.51" cy="1063.1" r="3.0"/><circle cx="946.86" cy="1118.05" r="3.0"/><circle cx="998.55" cy="1064.87" r="3.0"/><circle cx="965.16" cy="1172.14" r="3.0"/><circle cx="991.59" cy="1038.6" r="3.0"/><circle cx="934.73" cy="1061.02" r="3.0"/><circle cx="963" cy="1013.41" r="3.0"/><circle cx="1012.42" cy="1121.3" r="3.0"/><circle cx="1012.18" cy="1071.23" r="3.0"/><circle cx="912.19" cy="1024.35" r="3.0"/><circle cx="960.06" cy="1129.75" r="3.0"/><circle cx="913" cy="1068.67" r="3.0"/><circle cx="1003.74" cy="1147.23" r="3.0"/><circle cx="918.99" cy="984.64" r="3.0"/><circle cx="877.17" cy="1101.74" r="3.0"/><circle cx="908.4" cy="1060.87" r="3.0"/><circle cx="906.61" cy="1049.99" r="3.0"/><circle cx="935.98" cy="1087.06" r="3.0"/><circle cx="1001.2" cy="1128.59" r="3.0"/><circle cx="928.44" cy="1041.34" r="3.0"/><circle cx="983.72" cy="1003.05" r="3.0"/><circle cx="1025.28" cy="1154.36" r="3.0"/><circle cx="1009.99" cy="1063.88" r="3.0"/><circle cx="1030.59" cy="1119.65" r="3.0"/><circle cx="1011.08" cy="1046.46" r="3.0"/><circle cx="954.18" cy="1040.42" r="3.0"/><circle cx="989.28" cy="1025" r="3.0"/><circle cx="972.09" cy="1037.3" r="3.0"/><circle cx="940.96" cy="1130.42" r="3.0"/><circle cx="1069.45" cy="1113.54" r="3.0"/><circle cx="917.81" cy="1068.31" r="3.0"/><circle cx="902.98" cy="1038.2" r="3.0"/><circle cx="939.53" cy="1097.03" r="3.0"/><circle cx="1019.07" cy="1078.51" r="3.0"/><circle cx="946.11" cy="1045.44" r="3.0"/><circle cx="978.02" cy="1057.52" r="3.0"/><circle cx="930.53" cy="1020.47" r="3.0"/><circle cx="1024.97" cy="1106.28" r="3.0"/><circle cx="981.92" cy="1041.86" r="3.0"/><circle cx="970.09" cy="1058.23" r="3.0"/><circle cx="1035.42" cy="1056.35" r="3.0"/><circle cx="925.47" cy="1070.73" r="3.0"/><circle cx="1037.54" cy="1082.28" r="3.0"/><circle cx="1007.91" cy="1006.41" r="3.0"/><circle cx="907.75" cy="1089.66" r="3.0"/><circle cx="958.2" cy="1046.32" r="3.0"/><circle cx="990.65" cy="1057.33" r="3.0"/><circle cx="914.68" cy="1091.09" r="3.0"/><circle cx="925.54" cy="1052.15" r="3.0"/><circle cx="1035.77" cy="1046.81" r="3.0"/><circle cx="1046.19" cy="1090.78" r="3.0"/><circle cx="996.36" cy="1036.32" r="3.0"/><circle cx="973.11" cy="1039.34" r="3.0"/><circle cx="919.36" cy="1024.73" r="3.0"/><circle cx="1005.23" cy="1088.01" r="3.0"/><circle cx="942.71" cy="1050.57" r="3.0"/><circle cx="969.93" cy="1112.13" r="3.0"/><circle cx="974.44" cy="1048.19" r="3.0"/><circle cx="1009.27" cy="1014.58" r="3.0"/><circle cx="995.2" cy="999.5" r="3.0"/><circle cx="938.93" cy="1078.72" r="3.0"/><circle cx="1015.51" cy="1044.35" r="3.0"/><circle cx="1031.07" cy="1132" r="3.0"/><circle cx="1006.13" cy="958.61" r="3.0"/><circle cx="1017.39" cy="1046.41" r="3.0"/><circle cx="915.03" cy="1132.41" r="3.0"/><circle cx="973.19" cy="1041.95" r="3.0"/><circle cx="1013.94" cy="1138.25" r="3.0"/><circle cx="973.99" cy="1097.1" r="3.0"/><circle cx="943.53" cy="1091.31" r="3.0"/><circle cx="1015.32" cy="1063.26" r="3.0"/><circle cx="971.64" cy="992.75" r="3.0"/><circle cx="998.84" cy="1086.91" r="3.0"/><circle cx="889.17" cy="1084.25" r="3.0"/><circle cx="974.52" cy="1059.36" r="3.0"/><circle cx="995.81" cy="1036.51" r="3.0"/><circle cx="1039.46" cy="1046.3" r="3.0"/><circle cx="973.57" cy="1114.22" r="3.0"/><circle cx="891.51" cy="1027.43" r="3.0"/><circle cx="906.6" cy="1097.56" r="3.0"/><circle cx="1023.1" cy="1091.78" r="3.0"/><circle cx="1018.02" cy="958.81" r="3.0"/><circle cx="958.88" cy="1132.69" r="3.0"/><circle cx="927.28" cy="1063.63" r="3.0"/><circle cx="1021.04" cy="1101.51" r="3.0"/><circle cx="943.18" cy="1032.52" r="3.0"/><circle cx="965.58" cy="1044.07" r="3.0"/><circle cx="896.26" cy="1100.38" r="3.0"/><circle cx="840.45" cy="1083.27" r="3.0"/><circle cx="978.1" cy="1081.25" r="3.0"/><circle cx="1056.71" cy="1036.57" r="3.0"/><circle cx="952.77" cy="1130.98" r="3.0"/><circle cx="907.14" cy="1048.46" r="3.0"/><circle cx="1032.46" cy="1046.9" r="3.0"/><circle cx="919.05" cy="1061.66" r="3.0"/><circle cx="864.34" cy="1081.38" r="3.0"/><circle cx="942.09" cy="1032.6" r="3.0"/><circle cx="982.06" cy="1035.89" r="3.0"/><circle cx="926.14" cy="1052.09" r="3.0"/><circle cx="966.5" cy="1056.93" r="3.0"/><circle cx="967.23" cy="1031.91" r="3.0"/><circle cx="969.38" cy="1032.6" r="3.0"/><circle cx="1040.12" cy="1102.68" r="3.0"/><circle cx="975.74" cy="1109.83" r="3.0"/><circle cx="994.11" cy="1075.83" r="3.0"/><circle cx="1032.02" cy="1087.85" r="3.0"/><circle cx="951.15" cy="1084.22" r="3.0"/><circle cx="1010.1" cy="1066.9" r="3.0"/><circle cx="938.44" cy="1004.62" r="3.0"/><circle cx="970.07" cy="1056.81" r="3.0"/><circle cx="963.43" cy="1052.02" r="3.0"/><circle cx="1015.88" cy="1024.24" r="3.0"/><circle cx="1010.99" cy="1084.83" r="3.0"/><circle cx="933.45" cy="1073.99" r="3.0"/><circle cx="919.17" cy="1137.18" r="3.0"/><circle cx="912.41" cy="1097.46" r="3.0"/><circle cx="920.29" cy="1036.74" r="3.0"/><circle cx="935.43" cy="1077.53" r="3.0"/><circle cx="964.43" cy="1074.5" r="3.0"/><circle cx="925.87" cy="998.53" r="3.0"/><circle cx="1056.56" cy="988.02" r="3.0"/><circle cx="1027.68" cy="1051.67" r="3.0"/><circle cx="1069.25" cy="1091.46" r="3.0"/><circle cx="991.87" cy="1111.02" r="3.0"/><circle cx="1001.91" cy="1060.19" r="3.0"/><circle cx="958.41" cy="1106.29" r="3.0"/><circle cx="1026.68" cy="1061.38" r="3.0"/><circle cx="996.23" cy="1081.8" r="3.0"/><circle cx="964.78" cy="1068.14" r="3.0"/><circle cx="988.85" cy="1076.52" r="3.0"/><circle cx="1060.68" cy="1010.1" r="3.0"/><circle cx="1049.44" cy="1066.35" r="3.0"/><circle cx="971.1" cy="995.63" r="3.0"/><circle cx="875.08" cy="1081.91" r="3.0"/><circle cx="966.61" cy="1101.81" r="3.0"/><circle cx="966.37" cy="1050.98" r="3.0"/><circle cx="966.91" cy="1075.87" r="3.0"/><circle cx="988.35" cy="1104.08" r="3.0"/><circle cx="995.4" cy="977.59" r="3.0"/><circle cx="930.99" cy="1057.26" r="3.0"/><circle cx="940.58" cy="1101.84" r="3.0"/><circle cx="1047.64" cy="1122.44" r="3.0"/><circle cx="1078.9" cy="1036.13" r="3.0"/><circle cx="979.18" cy="1034.51" r="3.0"/><circle cx="979.21" cy="1057.08" r="3.0"/><circle cx="1013.86" cy="1087.74" r="3.0"/><circle cx="990.1" cy="1082.22" r="3.0"/><circle cx="976.08" cy="1114.89" r="3.0"/><circle cx="972.56" cy="1086.57" r="3.0"/><circle cx="1044.56" cy="1077.25" r="3.0"/><circle cx="938.85" cy="1039.03" r="3.0"/><circle cx="999.45" cy="1031.67" r="3.0"/><circle cx="917.53" cy="1111.13" r="3.0"/><circle cx="1000.6" cy="1145.66" r="3.0"/><circle cx="989.35" cy="990.95" r="3.0"/><circle cx="969.21" cy="1061.51" r="3.0"/><circle cx="991.34" cy="1096.25" r="3.0"/><circle cx="889.95" cy="1059.32" r="3.0"/><circle cx="935.39" cy="1100.71" r="3.0"/><circle cx="952.32" cy="1087.04" r="3.0"/><circle cx="978.22" cy="1167.42" r="3.0"/><circle cx="971.92" cy="1084.76" r="3.0"/><circle cx="939.14" cy="1004.25" r="3.0"/><circle cx="976.83" cy="1035.71" r="3.0"/><circle cx="991.2" cy="1078.36" r="3.0"/><circle cx="1095.71" cy="1061.64" r="3.0"/><circle cx="982.68" cy="1040.73" r="3.0"/><circle cx="990.52" cy="1025.72" r="3.0"/><circle cx="989" cy="1101.22" r="3.0"/><circle cx="959.13" cy="1079.82" r="3.0"/><circle cx="953.37" cy="1062.16" r="3.0"/><circle cx="1011.7" cy="1031.82" r="3.0"/><circle cx="961.64" cy="1083.23" r="3.0"/><circle cx="950.6" cy="1050.14" r="3.0"/><circle cx="973.48" cy="1036.45" r="3.0"/><circle cx="1052.03" cy="1063.94" r="3.0"/><circle cx="918.27" cy="1048.69" r="3.0"/><circle cx="956.25" cy="1019.42" r="3.0"/><circle cx="988.8" cy="1115.64" r="3.0"/><circle cx="1003.57" cy="1058.68" r="3.0"/><circle cx="1055.74" cy="1051.6" r="3.0"/><circle cx="945.28" cy="1145.1" r="3.0"/><circle cx="1012.47" cy="1096.52" r="3.0"/><circle cx="1069.39" cy="1123.28" r="3.0"/><circle cx="1032.3" cy="1106.45" r="3.0"/><circle cx="935.28" cy="1055.96" r="3.0"/><circle cx="947.52" cy="1108.16" r="3.0"/><circle cx="980.89" cy="1072.34" r="3.0"/><circle cx="1017.42" cy="1065.77" r="3.0"/><circle cx="927.15" cy="1077.9" r="3.0"/><circle cx="1017.57" cy="1031.72" r="3.0"/><circle cx="945.44" cy="1053.54" r="3.0"/><circle cx="1007.25" cy="1098.67" r="3.0"/><circle cx="1011.87" cy="1083.09" r="3.0"/><circle cx="999.13" cy="1053.93" r="3.0"/><circle cx="1026.21" cy="1088.35" r="3.0"/><circle cx="976.12" cy="1047.51" r="3.0"/><circle cx="986.17" cy="1067.05" r="3.0"/><circle cx="1039.69" cy="1085.15" r="3.0"/><circle cx="948.71" cy="1080.04" r="3.0"/><circle cx="946.43" cy="1111.34" r="3.0"/><circle cx="908.19" cy="1056.07" r="3.0"/><circle cx="1058.8" cy="1086.46" r="3.0"/><circle cx="939.13" cy="1096.01" r="3.0"/><circle cx="1021.09" cy="1076.33" r="3.0"/><circle cx="980.22" cy="978.16" r="3.0"/><circle cx="997.59" cy="1018.77" r="3.0"/><circle cx="956.53" cy="1092.01" r="3.0"/><circle cx="968.91" cy="1106.85" r="3.0"/><circle cx="1022.73" cy="1035.8" r="3.0"/><circle cx="980.36" cy="1105.65" r="3.0"/><circle cx="925.82" cy="1020.28" r="3.0"/><circle cx="966.55" cy="1093.2" r="3.0"/><circle cx="907.46" cy="1023.34" r="3.0"/><circle cx="998.93" cy="981.16" r="3.0"/><circle cx="1015.99" cy="1075.89" r="3.0"/><circle cx="983.96" cy="1036.75" r="3.0"/><circle cx="1046.48" cy="1030.52" r="3.0"/><circle cx="964.49" cy="964.56" r="3.0"/><circle cx="1024.08" cy="1094.69" r="3.0"/><circle cx="959.75" cy="1010.26" r="3.0"/><circle cx="980.38" cy="1018.68" r="3.0"/><circle cx="960.75" cy="1049.57" r="3.0"/><circle cx="976.58" cy="1040.01" r="3.0"/><circle cx="913.96" cy="1105.93" r="3.0"/><circle cx="963.47" cy="1096.47" r="3.0"/><circle cx="910.73" cy="1066.44" r="3.0"/><circle cx="1047.58" cy="1111.65" r="3.0"/><circle cx="947.59" cy="1046.42" r="3.0"/><circle cx="968.91" cy="1052.58" r="3.0"/><circle cx="897.17" cy="1000.31" r="3.0"/><circle cx="938.26" cy="1104.44" r="3.0"/><circle cx="997.83" cy="1003.51" r="3.0"/><circle cx="871.7" cy="1046.44" r="3.0"/><circle cx="988.29" cy="1045.53" r="3.0"/><circle cx="949.53" cy="1058.88" r="3.0"/><circle cx="1076.55" cy="1053.48" r="3.0"/><circle cx="1006.72" cy="1084.15" r="3.0"/><circle cx="1017.85" cy="1093.77" r="3.0"/><circle cx="989.83" cy="1005.54" r="3.0"/><circle cx="1024.96" cy="1147.31" r="3.0"/><circle cx="919.07" cy="1018.69" r="3.0"/><circle cx="1057.32" cy="1038.42" r="3.0"/><circle cx="1013.75" cy="1045.18" r="3.0"/><circle cx="898.84" cy="1015.75" r="3.0"/><circle cx="994.48" cy="1054.03" r="3.0"/><circle cx="977.79" cy="1045.22" r="3.0"/><circle cx="1048.96" cy="1026.08" r="3.0"/><circle cx="963.67" cy="1060.2" r="3.0"/><circle cx="979.62" cy="1015.63" r="3.0"/><circle cx="998.96" cy="1018.62" r="3.0"/><circle cx="968.44" cy="1059.73" r="3.0"/><circle cx="1060.08" cy="1035.34" r="3.0"/><circle cx="1000.45" cy="1091.42" r="3.0"/><circle cx="946.08" cy="1045.28" r="3.0"/><circle cx="988.46" cy="1050.02" r="3.0"/><circle cx="967.68" cy="1114.58" r="3.0"/><circle cx="1059.41" cy="1053.6" r="3.0"/><circle cx="925.08" cy="1036.27" r="3.0"/><circle cx="890" cy="1097.89" r="3.0"/><circle cx="1081.19" cy="1105.88" r="3.0"/><circle cx="978.16" cy="1058.38" r="3.0"/><circle cx="1035.27" cy="1078.71" r="3.0"/><circle cx="980.37" cy="1096.15" r="3.0"/><circle cx="956.26" cy="1055.63" r="3.0"/><circle cx="1006.11" cy="1094.71" r="3.0"/><circle cx="983.91" cy="1052.43" r="3.0"/><circle cx="949.07" cy="1015.3" r="3.0"/><circle cx="887.04" cy="1047.3" r="3.0"/><circle cx="994.95" cy="1049.51" r="3.0"/><circle cx="1046.71" cy="1096.14" r="3.0"/><circle cx="1036.49" cy="1003.12" r="3.0"/><circle cx="912.76" cy="1069.85" r="3.0"/><circle cx="1048" cy="985.74" r="3.0"/><circle cx="912.72" cy="1081.27" r="3.0"/><circle cx="956.04" cy="1056.28" r="3.0"/><circle cx="983.95" cy="1109.2" r="3.0"/><circle cx="983.21" cy="1044.29" r="3.0"/><circle cx="940.56" cy="1114.63" r="3.0"/><circle cx="965.14" cy="1055.8" r="3.0"/><circle cx="986.55" cy="989.79" r="3.0"/><circle cx="986.39" cy="1028.61" r="3.0"/><circle cx="1014.84" cy="1109.31" r="3.0"/><circle cx="1026.05" cy="1019.78" r="3.0"/><circle cx="987.63" cy="1106.44" r="3.0"/><circle cx="946.48" cy="1072.52" r="3.0"/><circle cx="1017.46" cy="1079.96" r="3.0"/><circle cx="980.47" cy="1074.91" r="3.0"/><circle cx="942.73" cy="1062.76" r="3.0"/><circle cx="989.42" cy="1017.74" r="3.0"/><circle cx="1013.13" cy="1063.82" r="3.0"/><circle cx="1031.95" cy="1101.03" r="3.0"/><circle cx="932.73" cy="1050.14" r="3.0"/><circle cx="976.41" cy="1002.7" r="3.0"/><circle cx="894.8" cy="1105.14" r="3.0"/><circle cx="987.81" cy="1033.99" r="3.0"/><circle cx="991.89" cy="1064.07" r="3.0"/><circle cx="938.04" cy="1058.76" r="3.0"/><circle cx="1004.31" cy="1082.49" r="3.0"/><circle cx="1027.7" cy="1057.55" r="3.0"/><circle cx="1029.88" cy="1034.71" r="3.0"/><circle cx="935.53" cy="1125.18" r="3.0"/><circle cx="981.42" cy="1092.93" r="3.0"/><circle cx="1030.89" cy="1081.18" r="3.0"/><circle cx="971.39" cy="1085.8" r="3.0"/><circle cx="961.78" cy="1131.62" r="3.0"/><circle cx="967.82" cy="1086.77" r="3.0"/><circle cx="1023.67" cy="1108.7" r="3.0"/><circle cx="969.25" cy="1048.46" r="3.0"/><circle cx="888.93" cy="1066.93" r="3.0"/><circle cx="1013.15" cy="1055.96" r="3.0"/><circle cx="1003.4" cy="1082.3" r="3.0"/><circle cx="1048.39" cy="1101.97" r="3.0"/><circle cx="997.45" cy="1034.74" r="3.0"/><circle cx="970.66" cy="1080.79" r="3.0"/><circle cx="932.01" cy="1090.09" r="3.0"/><circle cx="1006.53" cy="997.15" r="3.0"/><circle cx="981.5" cy="1122.74" r="3.0"/><circle cx="1026.25" cy="1027.85" r="3.0"/><circle cx="989.35" cy="1008.48" r="3.0"/><circle cx="1014.05" cy="1075.78" r="3.0"/><circle cx="882.33" cy="1090.58" r="3.0"/><circle cx="998.03" cy="1047.54" r="3.0"/><circle cx="1011.76" cy="1094.98" r="3.0"/><circle cx="958.9" cy="813" r="3.0"/><circle cx="1015.3" cy="817.3" r="3.0"/><circle cx="991" cy="842.2" r="3.0"/><circle cx="983.2" cy="871.5" r="3.0"/><circle cx="993.9" cy="887.5" r="3.0"/><circle cx="1020.6" cy="887.9" r="3.0"/><circle cx="986.8" cy="906.4" r="3.0"/><circle cx="999.2" cy="908.9" r="3.0"/><circle cx="1004.2" cy="905.4" r="3.0"/><circle cx="1060.6" cy="904.7" r="3.0"/><circle cx="804.5" cy="922.8" r="3.0"/><circle cx="947.5" cy="918.9" r="3.0"/><circle cx="912.6" cy="927.8" r="3.0"/><circle cx="1056.3" cy="929.6" r="3.0"/><circle cx="1097" cy="930.3" r="3.0"/><circle cx="919.7" cy="938.5" r="3.0"/><circle cx="917.9" cy="943.2" r="3.0"/><circle cx="940" cy="936.8" r="3.0"/><circle cx="936.8" cy="942.1" r="3.0"/><circle cx="846.6" cy="964.6" r="3.0"/><circle cx="852.7" cy="963.5" r="3.0"/><circle cx="850.2" cy="972.4" r="3.0"/><circle cx="1065.2" cy="968.8" r="3.0"/><circle cx="835.2" cy="998.1" r="3.0"/><circle cx="856.6" cy="1005.6" r="3.0"/><circle cx="820.9" cy="1016.3" r="3.0"/><circle cx="802" cy="1033.8" r="3.0"/><circle cx="776.3" cy="1039.1" r="3.0"/><circle cx="843" cy="1045.5" r="3.0"/><circle cx="1100.9" cy="1010.6" r="3.0"/><circle cx="1098" cy="1026.6" r="3.0"/><circle cx="1155.1" cy="1089" r="3.0"/><circle cx="1122.3" cy="1105.1" r="3.0"/><circle cx="1105.9" cy="1086.5" r="3.0"/><circle cx="1107" cy="1091.9" r="3.0"/><circle cx="797.7" cy="1076.5" r="3.0"/><circle cx="819.1" cy="1091.9" r="3.0"/><circle cx="834.8" cy="1112.6" r="3.0"/><circle cx="844.8" cy="1127.5" r="3.0"/><circle cx="869.8" cy="1143.6" r="3.0"/><circle cx="893.7" cy="1166.1" r="3.0"/><circle cx="900.8" cy="1151.4" r="3.0"/><circle cx="921.5" cy="1192.8" r="3.0"/><circle cx="973.2" cy="1157.9" r="3.0"/><circle cx="1001.7" cy="1149.7" r="3.0"/><circle cx="1016.7" cy="1142.9" r="3.0"/><circle cx="1023.1" cy="1142.9" r="3.0"/><circle cx="1061.7" cy="1132.9" r="3.0"/></g>
<line x1="967.9" y1="774.7" x2="967.9" y2="1252.6" stroke="#000" stroke-width="4.8" stroke-linecap="round" stroke-dasharray="0 12"/>
<line x1="732.5" y1="1058.36" x2="1212.3" y2="1058.36" stroke="#000" stroke-width="4.8" stroke-linecap="round" stroke-dasharray="0 12"/>
<line x1="775.1" y1="1073.5" x2="1156.6" y2="1045.1" stroke="#d23b33" stroke-width="5" stroke-linecap="round"/>
<rect x="720.5" y="762.5" width="494.8" height="493.1" fill="none" stroke="#000" stroke-width="4.4"/>
<line x1="696" y1="762.5" x2="720.5" y2="762.5" stroke="#000" stroke-width="4.4"/>
<text transform="translate(669 777.16) scale(1 1.04)" font-size="41" fill="#000" stroke="#000" stroke-width="0.55" stroke-linejoin="round">6</text>
<line x1="696" y1="861.12" x2="720.5" y2="861.12" stroke="#000" stroke-width="4.4"/>
<text transform="translate(668.4 875.78) scale(1 1.04)" font-size="41" fill="#000" stroke="#000" stroke-width="0.55" stroke-linejoin="round">4</text>
<line x1="696" y1="959.74" x2="720.5" y2="959.74" stroke="#000" stroke-width="4.4"/>
<text transform="translate(669.26 974.4) scale(1 1.04)" font-size="41" fill="#000" stroke="#000" stroke-width="0.55" stroke-linejoin="round">2</text>
<line x1="696" y1="1058.36" x2="720.5" y2="1058.36" stroke="#000" stroke-width="4.4"/>
<text transform="translate(668.8 1073.02) scale(1 1.04)" font-size="41" fill="#000" stroke="#000" stroke-width="0.55" stroke-linejoin="round">0</text>
<line x1="696" y1="1156.98" x2="720.5" y2="1156.98" stroke="#000" stroke-width="4.4"/>
<text transform="translate(655.61 1171.64) scale(1 1.04)" font-size="41" fill="#000" stroke="#000" stroke-width="0.55" stroke-linejoin="round">-2</text>
<line x1="696" y1="1255.6" x2="720.5" y2="1255.6" stroke="#000" stroke-width="4.4"/>
<text transform="translate(654.75 1270.26) scale(1 1.04)" font-size="41" fill="#000" stroke="#000" stroke-width="0.55" stroke-linejoin="round">-4</text>
<line x1="720.5" y1="1255.6" x2="720.5" y2="1280.1" stroke="#000" stroke-width="4.4"/>
<text transform="translate(702.39 1323.2) scale(1 1.04)" font-size="41" fill="#000" stroke="#000" stroke-width="0.55" stroke-linejoin="round">-2</text>
<line x1="844.2" y1="1255.6" x2="844.2" y2="1280.1" stroke="#000" stroke-width="4.4"/>
<text transform="translate(826.06 1323.2) scale(1 1.04)" font-size="41" fill="#000" stroke="#000" stroke-width="0.55" stroke-linejoin="round">-1</text>
<line x1="967.9" y1="1255.6" x2="967.9" y2="1280.1" stroke="#000" stroke-width="4.4"/>
<text transform="translate(956.5 1323.2) scale(1 1.04)" font-size="41" fill="#000" stroke="#000" stroke-width="0.55" stroke-linejoin="round">0</text>
<line x1="1091.6" y1="1255.6" x2="1091.6" y2="1280.1" stroke="#000" stroke-width="4.4"/>
<text transform="translate(1079.64 1323.2) scale(1 1.04)" font-size="41" fill="#000" stroke="#000" stroke-width="0.55" stroke-linejoin="round">1</text>
<line x1="1215.3" y1="1255.6" x2="1215.3" y2="1280.1" stroke="#000" stroke-width="4.4"/>
<text transform="translate(1203.9 1323.2) scale(1 1.04)" font-size="41" fill="#000" stroke="#000" stroke-width="0.55" stroke-linejoin="round">2</text>
<rect x="950" y="779" width="36" height="27" fill="#fff"/>
<text transform="translate(739.87 809.1) scale(1 1.04)" font-size="41.52" fill="#000" stroke="#000" stroke-width="0.55" stroke-linejoin="round">TCGA-BRCA</text>
<text transform="translate(738.25 859.4) scale(1 1.04)" font-size="42.1" fill="#000" stroke="#000" stroke-width="0.55" stroke-linejoin="round">Rho=0.09</text>
<text transform="translate(738.29 908) scale(1 1.04)" font-size="41.51" fill="#000" stroke="#000" stroke-width="0.55" stroke-linejoin="round">P=0.004</text>
<text transform="translate(1063.62 805.1) scale(1 1.04)" font-size="41.85" fill="#000" stroke="#000" stroke-width="0.55" stroke-linejoin="round">n=1100</text>
<text transform="translate(822.18 1369.8) scale(1 1.04)" font-size="44.15" fill="#000" stroke="#000" stroke-width="0.55" stroke-linejoin="round">NQO1 Stability</text>
<text transform="translate(1297.35 744.9)" font-size="50" font-weight="bold" fill="#000">d</text>
<g fill="#625cb2"><circle cx="1703.67" cy="998.03" r="3.0"/><circle cx="1747.53" cy="1069.09" r="3.0"/><circle cx="1696.28" cy="997.74" r="3.0"/><circle cx="1577.69" cy="1024.27" r="3.0"/><circle cx="1686.86" cy="1040.66" r="3.0"/><circle cx="1648.01" cy="1085.06" r="3.0"/><circle cx="1720.12" cy="1007.77" r="3.0"/><circle cx="1758.13" cy="1017.33" r="3.0"/><circle cx="1702.23" cy="1081.46" r="3.0"/><circle cx="1612.44" cy="1100.37" r="3.0"/><circle cx="1716.4" cy="1069.01" r="3.0"/><circle cx="1722.91" cy="1056.07" r="3.0"/><circle cx="1689.61" cy="1058.36" r="3.0"/><circle cx="1619.57" cy="1112.67" r="3.0"/><circle cx="1654.88" cy="1094.47" r="3.0"/><circle cx="1597.65" cy="1017.76" r="3.0"/><circle cx="1740.92" cy="1058.76" r="3.0"/><circle cx="1810.4" cy="1098.74" r="3.0"/><circle cx="1633.16" cy="1115.36" r="3.0"/><circle cx="1725.22" cy="1019.55" r="3.0"/><circle cx="1744.1" cy="961.41" r="3.0"/><circle cx="1779.41" cy="1101.32" r="3.0"/><circle cx="1702.37" cy="1041.34" r="3.0"/><circle cx="1735.56" cy="1088.26" r="3.0"/><circle cx="1594.74" cy="1137.91" r="3.0"/><circle cx="1706.42" cy="1070.83" r="3.0"/><circle cx="1803.02" cy="1033.17" r="3.0"/><circle cx="1622.03" cy="1108.56" r="3.0"/><circle cx="1742.4" cy="1070.48" r="3.0"/><circle cx="1691.67" cy="1049.6" r="3.0"/><circle cx="1628.9" cy="1041.75" r="3.0"/><circle cx="1689.45" cy="1023.04" r="3.0"/><circle cx="1724.46" cy="1088.03" r="3.0"/><circle cx="1565.25" cy="1039.45" r="3.0"/><circle cx="1604.39" cy="1089.57" r="3.0"/><circle cx="1690.95" cy="1123.88" r="3.0"/><circle cx="1679.9" cy="1130.14" r="3.0"/><circle cx="1664.81" cy="1023.64" r="3.0"/><circle cx="1705.98" cy="1014.29" r="3.0"/><circle cx="1672.4" cy="1045.95" r="3.0"/><circle cx="1736.52" cy="1105.82" r="3.0"/><circle cx="1716.05" cy="1022.81" r="3.0"/><circle cx="1630.68" cy="1050.35" r="3.0"/><circle cx="1568.71" cy="1097.81" r="3.0"/><circle cx="1706.2" cy="1106.06" r="3.0"/><circle cx="1725.08" cy="1098.59" r="3.0"/><circle cx="1697.29" cy="1112.88" r="3.0"/><circle cx="1625.37" cy="1147.03" r="3.0"/><circle cx="1714.18" cy="1112.61" r="3.0"/><circle cx="1719.13" cy="1028.83" r="3.0"/><circle cx="1735.02" cy="1078.05" r="3.0"/><circle cx="1693.46" cy="1089.19" r="3.0"/><circle cx="1654.81" cy="1074.78" r="3.0"/><circle cx="1765.64" cy="1085.8" r="3.0"/><circle cx="1690.43" cy="983.61" r="3.0"/><circle cx="1721.74" cy="1011.04" r="3.0"/><circle cx="1673.97" cy="987.11" r="3.0"/><circle cx="1743.9" cy="1093.3" r="3.0"/><circle cx="1749.09" cy="1060.83" r="3.0"/><circle cx="1660.17" cy="1125.44" r="3.0"/><circle cx="1686.96" cy="1123.76" r="3.0"/><circle cx="1702.2" cy="1101.8" r="3.0"/><circle cx="1759.58" cy="1059.59" r="3.0"/><circle cx="1709.33" cy="1033.21" r="3.0"/><circle cx="1670.7" cy="1141.56" r="3.0"/><circle cx="1710.32" cy="1081.32" r="3.0"/><circle cx="1553.67" cy="1099.74" r="3.0"/><circle cx="1699.83" cy="1035.59" r="3.0"/><circle cx="1757.38" cy="1028.13" r="3.0"/><circle cx="1676.43" cy="1029.31" r="3.0"/><circle cx="1690.83" cy="1130.88" r="3.0"/><circle cx="1585.94" cy="993.31" r="3.0"/><circle cx="1716.48" cy="1089.69" r="3.0"/><circle cx="1652.96" cy="1089.98" r="3.0"/><circle cx="1690.89" cy="1004.78" r="3.0"/><circle cx="1624.5" cy="996.73" r="3.0"/><circle cx="1751.98" cy="1094.73" r="3.0"/><circle cx="1723.07" cy="1068.44" r="3.0"/><circle cx="1677.12" cy="1150.3" r="3.0"/><circle cx="1747.87" cy="1021.48" r="3.0"/><circle cx="1728.16" cy="1055.58" r="3.0"/><circle cx="1616.93" cy="1014.22" r="3.0"/><circle cx="1685.68" cy="1057.89" r="3.0"/><circle cx="1675.42" cy="1063.43" r="3.0"/><circle cx="1755.17" cy="1077.67" r="3.0"/><circle cx="1676.81" cy="1107.11" r="3.0"/><circle cx="1772.14" cy="1149.68" r="3.0"/><circle cx="1667.46" cy="1057.74" r="3.0"/><circle cx="1726.07" cy="1157" r="3.0"/><circle cx="1730.66" cy="1166.73" r="3.0"/><circle cx="1761.56" cy="1056.52" r="3.0"/><circle cx="1652.97" cy="1102.23" r="3.0"/><circle cx="1712.06" cy="1018.27" r="3.0"/><circle cx="1704.58" cy="1079.73" r="3.0"/><circle cx="1747.32" cy="1097.31" r="3.0"/><circle cx="1655.15" cy="1046.53" r="3.0"/><circle cx="1770.37" cy="1025.47" r="3.0"/><circle cx="1621.33" cy="1098.19" r="3.0"/><circle cx="1666.11" cy="1041.51" r="3.0"/><circle cx="1666.03" cy="1122.4" r="3.0"/><circle cx="1725" cy="1017.44" r="3.0"/><circle cx="1696.46" cy="1032.47" r="3.0"/><circle cx="1733.86" cy="1050.28" r="3.0"/><circle cx="1740.18" cy="1038.37" r="3.0"/><circle cx="1525.32" cy="1067.5" r="3.0"/><circle cx="1674.09" cy="1074.34" r="3.0"/><circle cx="1728.16" cy="1010.98" r="3.0"/><circle cx="1783.15" cy="1083.21" r="3.0"/><circle cx="1721.14" cy="1091.29" r="3.0"/><circle cx="1690.71" cy="1103.74" r="3.0"/><circle cx="1565.48" cy="1064.09" r="3.0"/><circle cx="1707.29" cy="1025.34" r="3.0"/><circle cx="1655.71" cy="1082.82" r="3.0"/><circle cx="1649" cy="1095.27" r="3.0"/><circle cx="1742.89" cy="1026.2" r="3.0"/><circle cx="1760.21" cy="1018.05" r="3.0"/><circle cx="1679.57" cy="1000.19" r="3.0"/><circle cx="1655.29" cy="1088.8" r="3.0"/><circle cx="1748.83" cy="1068.78" r="3.0"/><circle cx="1734.68" cy="1063.48" r="3.0"/><circle cx="1754.43" cy="1074.98" r="3.0"/><circle cx="1577.02" cy="1053.6" r="3.0"/><circle cx="1586.14" cy="1104.78" r="3.0"/><circle cx="1724.06" cy="1126.03" r="3.0"/><circle cx="1624.43" cy="1104.32" r="3.0"/><circle cx="1703.96" cy="1063.06" r="3.0"/><circle cx="1659.47" cy="1047.4" r="3.0"/><circle cx="1573.47" cy="1046.43" r="3.0"/><circle cx="1758.04" cy="1024.1" r="3.0"/><circle cx="1708.24" cy="1156.05" r="3.0"/><circle cx="1713.55" cy="1096.59" r="3.0"/><circle cx="1645.47" cy="1051.27" r="3.0"/><circle cx="1635.71" cy="1093.73" r="3.0"/><circle cx="1706.58" cy="989.77" r="3.0"/><circle cx="1701.47" cy="1112.26" r="3.0"/><circle cx="1652.95" cy="1063.34" r="3.0"/><circle cx="1653.74" cy="1110.58" r="3.0"/><circle cx="1638.63" cy="1043.13" r="3.0"/><circle cx="1633.94" cy="1090.73" r="3.0"/><circle cx="1715.66" cy="1037.82" r="3.0"/><circle cx="1606.39" cy="1087.42" r="3.0"/><circle cx="1699.37" cy="1107.3" r="3.0"/><circle cx="1640.02" cy="1070.33" r="3.0"/><circle cx="1659.34" cy="1107.92" r="3.0"/><circle cx="1732.05" cy="1091.49" r="3.0"/><circle cx="1798.21" cy="1064.11" r="3.0"/><circle cx="1606.59" cy="1106.56" r="3.0"/><circle cx="1677.06" cy="1130.93" r="3.0"/><circle cx="1676.46" cy="1085.84" r="3.0"/><circle cx="1779.1" cy="1033.04" r="3.0"/><circle cx="1708.84" cy="1147.21" r="3.0"/><circle cx="1655.65" cy="1094.8" r="3.0"/><circle cx="1646.86" cy="1089.47" r="3.0"/><circle cx="1767.52" cy="1009.82" r="3.0"/><circle cx="1671.7" cy="1062.66" r="3.0"/><circle cx="1574.46" cy="1061.93" r="3.0"/><circle cx="1672.06" cy="1120.32" r="3.0"/><circle cx="1700.69" cy="1033.7" r="3.0"/><circle cx="1709.96" cy="1073.32" r="3.0"/><circle cx="1600.02" cy="1091.27" r="3.0"/><circle cx="1717.88" cy="1102.09" r="3.0"/><circle cx="1664.39" cy="1114.74" r="3.0"/><circle cx="1746.73" cy="1070.9" r="3.0"/><circle cx="1653.73" cy="1054.61" r="3.0"/><circle cx="1696.23" cy="1061.75" r="3.0"/><circle cx="1643.63" cy="1074.26" r="3.0"/><circle cx="1676.12" cy="1127.26" r="3.0"/><circle cx="1671.96" cy="1124.46" r="3.0"/><circle cx="1666.79" cy="1096.67" r="3.0"/><circle cx="1653.69" cy="1053.6" r="3.0"/><circle cx="1687.27" cy="1034.14" r="3.0"/><circle cx="1614.77" cy="977.45" r="3.0"/><circle cx="1743.1" cy="1092.62" r="3.0"/><circle cx="1671.76" cy="1051.22" r="3.0"/><circle cx="1640.24" cy="1121.42" r="3.0"/><circle cx="1575.36" cy="1037.89" r="3.0"/><circle cx="1705.58" cy="1093.51" r="3.0"/><circle cx="1670.23" cy="1111.17" r="3.0"/><circle cx="1666.98" cy="1060.53" r="3.0"/><circle cx="1633.78" cy="1069.53" r="3.0"/><circle cx="1698.92" cy="1110.59" r="3.0"/><circle cx="1699.14" cy="1092.97" r="3.0"/><circle cx="1734.01" cy="1097.64" r="3.0"/><circle cx="1618.59" cy="1009.99" r="3.0"/><circle cx="1638.26" cy="1154.33" r="3.0"/><circle cx="1699.8" cy="1006.01" r="3.0"/><circle cx="1678.39" cy="1064.29" r="3.0"/><circle cx="1708.61" cy="1079.3" r="3.0"/><circle cx="1686.72" cy="1093.76" r="3.0"/><circle cx="1649.1" cy="1091.54" r="3.0"/><circle cx="1618.25" cy="1065.98" r="3.0"/><circle cx="1737.75" cy="1072.58" r="3.0"/><circle cx="1535.17" cy="1104.04" r="3.0"/><circle cx="1624.21" cy="1078.15" r="3.0"/><circle cx="1548.62" cy="1094.38" r="3.0"/><circle cx="1691.56" cy="1082.38" r="3.0"/><circle cx="1630.57" cy="1068.34" r="3.0"/><circle cx="1658.58" cy="1072.75" r="3.0"/><circle cx="1712.34" cy="1085.71" r="3.0"/><circle cx="1727.3" cy="1007.11" r="3.0"/><circle cx="1707.48" cy="1101.07" r="3.0"/><circle cx="1756.51" cy="1124.59" r="3.0"/><circle cx="1652.99" cy="1161.14" r="3.0"/><circle cx="1672.87" cy="1049.91" r="3.0"/><circle cx="1734.05" cy="1073.99" r="3.0"/><circle cx="1770.05" cy="1099.52" r="3.0"/><circle cx="1708.16" cy="977.59" r="3.0"/><circle cx="1580.6" cy="1105.61" r="3.0"/><circle cx="1688.94" cy="1054.63" r="3.0"/><circle cx="1682.05" cy="1108.09" r="3.0"/><circle cx="1633.79" cy="1027.34" r="3.0"/><circle cx="1696.88" cy="1073.54" r="3.0"/><circle cx="1700.76" cy="1102.24" r="3.0"/><circle cx="1645.15" cy="1101.16" r="3.0"/><circle cx="1757.03" cy="1032.47" r="3.0"/><circle cx="1626.08" cy="1099.32" r="3.0"/><circle cx="1697.22" cy="1074.6" r="3.0"/><circle cx="1747.79" cy="1083.7" r="3.0"/><circle cx="1530.19" cy="1053.5" r="3.0"/><circle cx="1767.43" cy="1103.49" r="3.0"/><circle cx="1658.76" cy="994.11" r="3.0"/><circle cx="1664.84" cy="1078.09" r="3.0"/><circle cx="1663.55" cy="1090.59" r="3.0"/><circle cx="1689.12" cy="1083.61" r="3.0"/><circle cx="1632.79" cy="1135.91" r="3.0"/><circle cx="1755.6" cy="1105.29" r="3.0"/><circle cx="1672.2" cy="1099.06" r="3.0"/><circle cx="1569.02" cy="1079.55" r="3.0"/><circle cx="1550.69" cy="1096.31" r="3.0"/><circle cx="1688.72" cy="1141.03" r="3.0"/><circle cx="1769.27" cy="1064.68" r="3.0"/><circle cx="1695.99" cy="1120.75" r="3.0"/><circle cx="1756.02" cy="1066.68" r="3.0"/><circle cx="1547.15" cy="1072.55" r="3.0"/><circle cx="1723.54" cy="1078.2" r="3.0"/><circle cx="1662.71" cy="1063.9" r="3.0"/><circle cx="1789.92" cy="1089.5" r="3.0"/><circle cx="1688.77" cy="1121.44" r="3.0"/><circle cx="1723.77" cy="1120.26" r="3.0"/><circle cx="1773.5" cy="1047.18" r="3.0"/><circle cx="1689.13" cy="1085.66" r="3.0"/><circle cx="1582.96" cy="1041.56" r="3.0"/><circle cx="1631.28" cy="1015.35" r="3.0"/><circle cx="1658.03" cy="1092.88" r="3.0"/><circle cx="1711.95" cy="1015.34" r="3.0"/><circle cx="1766.33" cy="1093.55" r="3.0"/><circle cx="1612" cy="1119.41" r="3.0"/><circle cx="1642.95" cy="1025.84" r="3.0"/><circle cx="1700.85" cy="1124.95" r="3.0"/><circle cx="1819.17" cy="1038.13" r="3.0"/><circle cx="1703.27" cy="1095.23" r="3.0"/><circle cx="1706.96" cy="1077.2" r="3.0"/><circle cx="1610.26" cy="1059.82" r="3.0"/><circle cx="1688.01" cy="1001.92" r="3.0"/><circle cx="1764.21" cy="1082.01" r="3.0"/><circle cx="1738.06" cy="1104.61" r="3.0"/><circle cx="1729.87" cy="1070.48" r="3.0"/><circle cx="1707.63" cy="1102.27" r="3.0"/><circle cx="1650.39" cy="1014.46" r="3.0"/><circle cx="1742.96" cy="1131.11" r="3.0"/><circle cx="1717.67" cy="1084.76" r="3.0"/><circle cx="1722.9" cy="1072.11" r="3.0"/><circle cx="1639.03" cy="1053.08" r="3.0"/><circle cx="1647.67" cy="1044.33" r="3.0"/><circle cx="1785.23" cy="1096.81" r="3.0"/><circle cx="1695.83" cy="1091.44" r="3.0"/><circle cx="1733.79" cy="1038.54" r="3.0"/><circle cx="1580.91" cy="1090.55" r="3.0"/><circle cx="1752.32" cy="1030.7" r="3.0"/><circle cx="1736.28" cy="1067.87" r="3.0"/><circle cx="1731.81" cy="1090.3" r="3.0"/><circle cx="1687.97" cy="1047.29" r="3.0"/><circle cx="1673.54" cy="1093.66" r="3.0"/><circle cx="1679.52" cy="1028.2" r="3.0"/><circle cx="1675.7" cy="1069.85" r="3.0"/><circle cx="1649.01" cy="1033.12" r="3.0"/><circle cx="1633.34" cy="1106.69" r="3.0"/><circle cx="1676.48" cy="1007.34" r="3.0"/><circle cx="1788.04" cy="1022.49" r="3.0"/><circle cx="1690.99" cy="1138.47" r="3.0"/><circle cx="1692.61" cy="1029.98" r="3.0"/><circle cx="1643.77" cy="1164.93" r="3.0"/><circle cx="1803.24" cy="1071.2" r="3.0"/><circle cx="1704.17" cy="1068.08" r="3.0"/><circle cx="1593.04" cy="1092.74" r="3.0"/><circle cx="1668.59" cy="1020.02" r="3.0"/><circle cx="1754.56" cy="1059.18" r="3.0"/><circle cx="1760.74" cy="1070.48" r="3.0"/><circle cx="1661.94" cy="1083.61" r="3.0"/><circle cx="1676.1" cy="1085.1" r="3.0"/><circle cx="1781.18" cy="1125.41" r="3.0"/><circle cx="1696.84" cy="1070.58" r="3.0"/><circle cx="1629.74" cy="995.09" r="3.0"/><circle cx="1760.35" cy="1014.36" r="3.0"/><circle cx="1618.6" cy="1060.66" r="3.0"/><circle cx="1714.76" cy="1100.65" r="3.0"/><circle cx="1660.86" cy="1021.02" r="3.0"/><circle cx="1670.7" cy="1136.59" r="3.0"/><circle cx="1619.5" cy="1087.83" r="3.0"/><circle cx="1736.54" cy="1099.96" r="3.0"/><circle cx="1733.29" cy="1103.76" r="3.0"/><circle cx="1671.48" cy="1032.87" r="3.0"/><circle cx="1626.41" cy="1040.18" r="3.0"/><circle cx="1757.41" cy="1030.94" r="3.0"/><circle cx="1687.51" cy="1048.07" r="3.0"/><circle cx="1579" cy="1087.02" r="3.0"/><circle cx="1605.36" cy="1121.82" r="3.0"/><circle cx="1665.3" cy="1097.67" r="3.0"/><circle cx="1751.4" cy="1027.95" r="3.0"/><circle cx="1656.5" cy="1074.13" r="3.0"/><circle cx="1671.4" cy="1083.7" r="3.0"/><circle cx="1620.37" cy="1075.21" r="3.0"/><circle cx="1645.35" cy="1072.89" r="3.0"/><circle cx="1680.4" cy="1100.33" r="3.0"/><circle cx="1655.65" cy="1103.37" r="3.0"/><circle cx="1733.53" cy="1086.22" r="3.0"/><circle cx="1669.02" cy="1119.88" r="3.0"/><circle cx="1589.9" cy="976.4" r="3.0"/><circle cx="1702.64" cy="1069.71" r="3.0"/><circle cx="1645.53" cy="1093.94" r="3.0"/><circle cx="1716.99" cy="1100.04" r="3.0"/><circle cx="1707.22" cy="1079.09" r="3.0"/><circle cx="1698.01" cy="1084.37" r="3.0"/><circle cx="1623.71" cy="1037.73" r="3.0"/><circle cx="1639.74" cy="1067.06" r="3.0"/><circle cx="1696.2" cy="1047.7" r="3.0"/><circle cx="1805.47" cy="1088.1" r="3.0"/><circle cx="1697.14" cy="1083.87" r="3.0"/><circle cx="1768.89" cy="1084.37" r="3.0"/><circle cx="1727" cy="1009.45" r="3.0"/><circle cx="1734.45" cy="1036.24" r="3.0"/><circle cx="1639.71" cy="1078.67" r="3.0"/><circle cx="1641.69" cy="1068.38" r="3.0"/><circle cx="1590" cy="1090.71" r="3.0"/><circle cx="1721.33" cy="1097.72" r="3.0"/><circle cx="1771.45" cy="1083.31" r="3.0"/><circle cx="1712.22" cy="1109.2" r="3.0"/><circle cx="1545.56" cy="1071.68" r="3.0"/><circle cx="1742.79" cy="1114.67" r="3.0"/><circle cx="1702.48" cy="992.84" r="3.0"/><circle cx="1732.06" cy="1052.41" r="3.0"/><circle cx="1707.32" cy="1120.56" r="3.0"/><circle cx="1720.77" cy="1063.35" r="3.0"/><circle cx="1688.65" cy="1054.71" r="3.0"/><circle cx="1642" cy="1097.82" r="3.0"/><circle cx="1737.04" cy="1111.85" r="3.0"/><circle cx="1696.42" cy="1043.66" r="3.0"/><circle cx="1679.44" cy="1053.47" r="3.0"/><circle cx="1644.41" cy="1074.09" r="3.0"/><circle cx="1695.93" cy="1133.95" r="3.0"/><circle cx="1687" cy="1051.7" r="3.0"/><circle cx="1703.16" cy="1109.64" r="3.0"/><circle cx="1740.31" cy="1122.11" r="3.0"/><circle cx="1721.41" cy="1028.9" r="3.0"/><circle cx="1797.9" cy="1030.64" r="3.0"/><circle cx="1727.33" cy="1061.03" r="3.0"/><circle cx="1755.95" cy="1069.66" r="3.0"/><circle cx="1531.22" cy="1105.53" r="3.0"/><circle cx="1626.4" cy="1084.59" r="3.0"/><circle cx="1759.66" cy="1109.49" r="3.0"/><circle cx="1638.4" cy="1120.16" r="3.0"/><circle cx="1712.99" cy="1029.25" r="3.0"/><circle cx="1668.89" cy="1140.12" r="3.0"/><circle cx="1680.9" cy="1107.36" r="3.0"/><circle cx="1672.7" cy="1120.03" r="3.0"/><circle cx="1739.08" cy="1099.69" r="3.0"/><circle cx="1657.83" cy="1076.9" r="3.0"/><circle cx="1598.32" cy="1096.15" r="3.0"/><circle cx="1669.09" cy="1070.67" r="3.0"/><circle cx="1616.8" cy="1082.63" r="3.0"/><circle cx="1726.95" cy="1028.45" r="3.0"/><circle cx="1689.89" cy="1085.66" r="3.0"/><circle cx="1701" cy="1077.37" r="3.0"/><circle cx="1615.31" cy="1064.47" r="3.0"/><circle cx="1642.89" cy="1095.03" r="3.0"/><circle cx="1669.64" cy="1017.95" r="3.0"/><circle cx="1684.19" cy="1014.5" r="3.0"/><circle cx="1666.39" cy="972.03" r="3.0"/><circle cx="1655.52" cy="1018.83" r="3.0"/><circle cx="1754.93" cy="1083.58" r="3.0"/><circle cx="1537.35" cy="1036.72" r="3.0"/><circle cx="1666.91" cy="1133.92" r="3.0"/><circle cx="1649.42" cy="1092.79" r="3.0"/><circle cx="1791.17" cy="1082.22" r="3.0"/><circle cx="1774.13" cy="1071.14" r="3.0"/><circle cx="1630.71" cy="1071.9" r="3.0"/><circle cx="1593.24" cy="1109.98" r="3.0"/><circle cx="1704.76" cy="1084.48" r="3.0"/><circle cx="1740.05" cy="1100.32" r="3.0"/><circle cx="1581.82" cy="1068.89" r="3.0"/><circle cx="1776.81" cy="1077.4" r="3.0"/><circle cx="1658.35" cy="1079.65" r="3.0"/><circle cx="1706.31" cy="1080.12" r="3.0"/><circle cx="1782.71" cy="1009.52" r="3.0"/><circle cx="1770.51" cy="1072.19" r="3.0"/><circle cx="1674.48" cy="1080.5" r="3.0"/><circle cx="1767.91" cy="1032.83" r="3.0"/><circle cx="1674.72" cy="1064.71" r="3.0"/><circle cx="1672.43" cy="1038.25" r="3.0"/><circle cx="1555.38" cy="1111.61" r="3.0"/><circle cx="1697.58" cy="1048.18" r="3.0"/><circle cx="1682.32" cy="1095.32" r="3.0"/><circle cx="1756.82" cy="1058.53" r="3.0"/><circle cx="1752.25" cy="1059.26" r="3.0"/><circle cx="1606.55" cy="1090.87" r="3.0"/><circle cx="1668.94" cy="1084.4" r="3.0"/><circle cx="1758.38" cy="1102.34" r="3.0"/><circle cx="1739.67" cy="1138.96" r="3.0"/><circle cx="1707.84" cy="1134.63" r="3.0"/><circle cx="1746.79" cy="1041.69" r="3.0"/><circle cx="1751.33" cy="1030.68" r="3.0"/><circle cx="1643.71" cy="1036.54" r="3.0"/><circle cx="1687.38" cy="1022.72" r="3.0"/><circle cx="1608.78" cy="1047.69" r="3.0"/><circle cx="1686.73" cy="996.96" r="3.0"/><circle cx="1696.72" cy="1164.59" r="3.0"/><circle cx="1683.06" cy="1069.85" r="3.0"/><circle cx="1671.43" cy="1042.83" r="3.0"/><circle cx="1680.72" cy="1056.37" r="3.0"/><circle cx="1758.75" cy="1089.88" r="3.0"/><circle cx="1717.8" cy="1099.63" r="3.0"/><circle cx="1722.03" cy="1093.76" r="3.0"/><circle cx="1667.61" cy="1094.25" r="3.0"/><circle cx="1666.99" cy="1083.33" r="3.0"/><circle cx="1741.67" cy="1103.17" r="3.0"/><circle cx="1715.38" cy="1079.97" r="3.0"/><circle cx="1725.81" cy="1062.89" r="3.0"/><circle cx="1677.54" cy="1088.56" r="3.0"/><circle cx="1670.84" cy="1095.58" r="3.0"/><circle cx="1785.64" cy="1037.43" r="3.0"/><circle cx="1657.77" cy="1006.82" r="3.0"/><circle cx="1795.71" cy="1111.84" r="3.0"/><circle cx="1605.58" cy="1025.05" r="3.0"/><circle cx="1722.38" cy="1033.41" r="3.0"/><circle cx="1689.53" cy="1093.76" r="3.0"/><circle cx="1791.8" cy="1086.63" r="3.0"/><circle cx="1682.61" cy="1150.95" r="3.0"/><circle cx="1670.3" cy="1060.54" r="3.0"/><circle cx="1670.24" cy="1100.26" r="3.0"/><circle cx="1585.13" cy="1053.07" r="3.0"/><circle cx="1708.19" cy="1125.22" r="3.0"/><circle cx="1663.2" cy="1098.56" r="3.0"/><circle cx="1690.93" cy="1100.24" r="3.0"/><circle cx="1632.41" cy="1015.18" r="3.0"/><circle cx="1715.43" cy="1063.59" r="3.0"/><circle cx="1730.78" cy="1058.7" r="3.0"/><circle cx="1661.8" cy="1079.67" r="3.0"/><circle cx="1665.86" cy="1061.66" r="3.0"/><circle cx="1642.23" cy="1092.61" r="3.0"/><circle cx="1765.97" cy="1064.67" r="3.0"/><circle cx="1701.02" cy="1139.15" r="3.0"/><circle cx="1644.29" cy="1069" r="3.0"/><circle cx="1710.9" cy="1113.45" r="3.0"/><circle cx="1573.75" cy="1052.08" r="3.0"/><circle cx="1619.45" cy="1087.47" r="3.0"/><circle cx="1745.98" cy="1051.57" r="3.0"/><circle cx="1717.71" cy="1158.52" r="3.0"/><circle cx="1669.6" cy="1057.11" r="3.0"/><circle cx="1700.19" cy="1088.98" r="3.0"/><circle cx="1786.26" cy="1092.89" r="3.0"/><circle cx="1741.16" cy="1030.86" r="3.0"/><circle cx="1704.16" cy="1121.94" r="3.0"/><circle cx="1733.42" cy="1142.7" r="3.0"/><circle cx="1691.94" cy="1049.89" r="3.0"/><circle cx="1708.79" cy="1089.71" r="3.0"/><circle cx="1733.7" cy="1068.83" r="3.0"/><circle cx="1690.75" cy="1091.46" r="3.0"/><circle cx="1669.56" cy="1033.22" r="3.0"/><circle cx="1659.14" cy="1068.51" r="3.0"/><circle cx="1672.05" cy="1097.43" r="3.0"/><circle cx="1746.02" cy="1034.54" r="3.0"/><circle cx="1663.76" cy="1061.68" r="3.0"/><circle cx="1722.01" cy="1067.1" r="3.0"/><circle cx="1681.19" cy="1114.03" r="3.0"/><circle cx="1666.59" cy="1108.34" r="3.0"/><circle cx="1674.47" cy="1112.67" r="3.0"/><circle cx="1680.68" cy="1050.57" r="3.0"/><circle cx="1700.44" cy="1045.87" r="3.0"/><circle cx="1738.02" cy="1097.2" r="3.0"/><circle cx="1655.86" cy="1071" r="3.0"/><circle cx="1675.95" cy="1131.77" r="3.0"/><circle cx="1669.02" cy="1122.5" r="3.0"/><circle cx="1691.92" cy="1080.62" r="3.0"/><circle cx="1565.12" cy="1095.32" r="3.0"/><circle cx="1623.48" cy="987.32" r="3.0"/><circle cx="1602.71" cy="1030.2" r="3.0"/><circle cx="1672.89" cy="1065.9" r="3.0"/><circle cx="1775.32" cy="1084.27" r="3.0"/><circle cx="1674.4" cy="1068.75" r="3.0"/><circle cx="1610.16" cy="1072.55" r="3.0"/><circle cx="1732.42" cy="1036.66" r="3.0"/><circle cx="1673.13" cy="1066.76" r="3.0"/><circle cx="1657.2" cy="1065.03" r="3.0"/><circle cx="1708.58" cy="1149.52" r="3.0"/><circle cx="1700.75" cy="1086.3" r="3.0"/><circle cx="1706.72" cy="1133.37" r="3.0"/><circle cx="1666.38" cy="1087.01" r="3.0"/><circle cx="1770.44" cy="1081.08" r="3.0"/><circle cx="1747.44" cy="1076.85" r="3.0"/><circle cx="1778.89" cy="1089.45" r="3.0"/><circle cx="1622.08" cy="1073.59" r="3.0"/><circle cx="1642.26" cy="1036.68" r="3.0"/><circle cx="1747.35" cy="1071.72" r="3.0"/><circle cx="1706.14" cy="991.99" r="3.0"/><circle cx="1688.5" cy="1080.24" r="3.0"/><circle cx="1734.04" cy="1078.99" r="3.0"/><circle cx="1722.46" cy="1057.69" r="3.0"/><circle cx="1720.51" cy="1052.99" r="3.0"/><circle cx="1605.52" cy="1104.8" r="3.0"/><circle cx="1625.94" cy="1035.33" r="3.0"/><circle cx="1725.28" cy="1094.57" r="3.0"/><circle cx="1684.38" cy="1105.71" r="3.0"/><circle cx="1662.28" cy="1092.05" r="3.0"/><circle cx="1629.1" cy="1095.98" r="3.0"/><circle cx="1691.28" cy="1030.66" r="3.0"/><circle cx="1663.23" cy="1115.1" r="3.0"/><circle cx="1739.18" cy="1063.22" r="3.0"/><circle cx="1807.61" cy="1011.24" r="3.0"/><circle cx="1605.45" cy="1073.46" r="3.0"/><circle cx="1719.01" cy="1087.09" r="3.0"/><circle cx="1697.87" cy="1086.5" r="3.0"/><circle cx="1826.17" cy="1126.68" r="3.0"/><circle cx="1744.28" cy="1051.52" r="3.0"/><circle cx="1719.34" cy="1063.01" r="3.0"/><circle cx="1739.14" cy="1095.35" r="3.0"/><circle cx="1769.36" cy="1111.51" r="3.0"/><circle cx="1706.84" cy="980.42" r="3.0"/><circle cx="1722.54" cy="1130.41" r="3.0"/><circle cx="1750.3" cy="965.13" r="3.0"/><circle cx="1653.03" cy="1133.91" r="3.0"/><circle cx="1672.09" cy="1059.62" r="3.0"/><circle cx="1705.4" cy="1016.16" r="3.0"/><circle cx="1639.1" cy="1015.85" r="3.0"/><circle cx="1651" cy="1120.88" r="3.0"/><circle cx="1613.74" cy="1120.39" r="3.0"/><circle cx="1657.71" cy="1125.95" r="3.0"/><circle cx="1707.8" cy="1106.93" r="3.0"/><circle cx="1746.69" cy="1051.38" r="3.0"/><circle cx="1761.64" cy="1019.33" r="3.0"/><circle cx="1602.88" cy="1043.32" r="3.0"/><circle cx="1716.6" cy="1088.44" r="3.0"/><circle cx="1601.34" cy="1083.14" r="3.0"/><circle cx="1671.36" cy="1095.76" r="3.0"/><circle cx="1641.37" cy="1099.05" r="3.0"/><circle cx="1745.72" cy="1131.97" r="3.0"/><circle cx="1658.79" cy="1001.42" r="3.0"/><circle cx="1713.48" cy="1113.74" r="3.0"/><circle cx="1770" cy="1061.66" r="3.0"/><circle cx="1674.01" cy="1120.69" r="3.0"/><circle cx="1655.13" cy="1137.41" r="3.0"/><circle cx="1600.19" cy="1080.63" r="3.0"/><circle cx="1677.4" cy="1026.31" r="3.0"/><circle cx="1663.45" cy="1105.26" r="3.0"/><circle cx="1733.59" cy="1053.11" r="3.0"/><circle cx="1694.95" cy="1012.27" r="3.0"/><circle cx="1585.77" cy="1062.64" r="3.0"/><circle cx="1708.52" cy="1058.48" r="3.0"/><circle cx="1716.41" cy="1004" r="3.0"/><circle cx="1730.58" cy="1070.75" r="3.0"/><circle cx="1566.75" cy="1119.61" r="3.0"/><circle cx="1629.2" cy="1072.51" r="3.0"/><circle cx="1707.39" cy="1151.47" r="3.0"/><circle cx="1728.07" cy="1068.96" r="3.0"/><circle cx="1735.9" cy="1153.03" r="3.0"/><circle cx="1619.53" cy="1065.16" r="3.0"/><circle cx="1675.92" cy="1120.92" r="3.0"/><circle cx="1642.93" cy="1070.32" r="3.0"/><circle cx="1664.69" cy="1105.7" r="3.0"/><circle cx="1762.43" cy="1054.35" r="3.0"/><circle cx="1762.74" cy="962.21" r="3.0"/><circle cx="1706.8" cy="1066.63" r="3.0"/><circle cx="1668.01" cy="1027.59" r="3.0"/><circle cx="1710.99" cy="1099.24" r="3.0"/><circle cx="1704.8" cy="1103.34" r="3.0"/><circle cx="1611.4" cy="1044" r="3.0"/><circle cx="1714.87" cy="1159.32" r="3.0"/><circle cx="1665.35" cy="1099.78" r="3.0"/><circle cx="1737.55" cy="1076.01" r="3.0"/><circle cx="1764.38" cy="1065.16" r="3.0"/><circle cx="1791.67" cy="1114.39" r="3.0"/><circle cx="1652.62" cy="1090.86" r="3.0"/><circle cx="1765.18" cy="1099.84" r="3.0"/><circle cx="1771.34" cy="1026.86" r="3.0"/><circle cx="1664.34" cy="1029.31" r="3.0"/><circle cx="1637.86" cy="1011.55" r="3.0"/><circle cx="1667.65" cy="1056.77" r="3.0"/><circle cx="1695.14" cy="1059.38" r="3.0"/><circle cx="1657.36" cy="1081.24" r="3.0"/><circle cx="1709.95" cy="1083.24" r="3.0"/><circle cx="1674.08" cy="1103.28" r="3.0"/><circle cx="1657.58" cy="1024.41" r="3.0"/><circle cx="1687.38" cy="1098.83" r="3.0"/><circle cx="1709.22" cy="1086.46" r="3.0"/><circle cx="1713.5" cy="1090.4" r="3.0"/><circle cx="1754.89" cy="1149.51" r="3.0"/><circle cx="1666.75" cy="1122.48" r="3.0"/><circle cx="1682.06" cy="1027.35" r="3.0"/><circle cx="1594.39" cy="996.12" r="3.0"/><circle cx="1702.83" cy="1023.86" r="3.0"/><circle cx="1723.14" cy="1118.95" r="3.0"/><circle cx="1702.9" cy="1023.53" r="3.0"/><circle cx="1763.79" cy="1062.19" r="3.0"/><circle cx="1520.56" cy="1045.7" r="3.0"/><circle cx="1648.36" cy="1100.96" r="3.0"/><circle cx="1744.58" cy="1071.16" r="3.0"/><circle cx="1760.5" cy="1091.56" r="3.0"/><circle cx="1744.64" cy="1059.89" r="3.0"/><circle cx="1801.08" cy="1052.85" r="3.0"/><circle cx="1594.8" cy="1027.81" r="3.0"/><circle cx="1676.77" cy="1056.28" r="3.0"/><circle cx="1618.34" cy="1109.51" r="3.0"/><circle cx="1700.2" cy="1076.35" r="3.0"/><circle cx="1714.46" cy="1107.45" r="3.0"/><circle cx="1651.91" cy="1072.43" r="3.0"/><circle cx="1655.24" cy="1070.6" r="3.0"/><circle cx="1715.03" cy="1043.46" r="3.0"/><circle cx="1733.29" cy="1061.59" r="3.0"/><circle cx="1599.71" cy="1031.84" r="3.0"/><circle cx="1752.05" cy="1113.51" r="3.0"/><circle cx="1776.92" cy="1028.99" r="3.0"/><circle cx="1712.88" cy="1147.72" r="3.0"/><circle cx="1699.73" cy="1144.33" r="3.0"/><circle cx="1673.62" cy="1008.37" r="3.0"/><circle cx="1770.8" cy="979.08" r="3.0"/><circle cx="1742.01" cy="1048.75" r="3.0"/><circle cx="1603.41" cy="1058.56" r="3.0"/><circle cx="1567.43" cy="1110.3" r="3.0"/><circle cx="1727.82" cy="1095.61" r="3.0"/><circle cx="1694.15" cy="1026.64" r="3.0"/><circle cx="1736.75" cy="1030.82" r="3.0"/><circle cx="1668.73" cy="1107.74" r="3.0"/><circle cx="1738.88" cy="1076.08" r="3.0"/><circle cx="1608.67" cy="1061.91" r="3.0"/><circle cx="1734.89" cy="1055.93" r="3.0"/><circle cx="1678.73" cy="1063.66" r="3.0"/><circle cx="1607.68" cy="1124.12" r="3.0"/><circle cx="1687.25" cy="1109.71" r="3.0"/><circle cx="1637.12" cy="1100.17" r="3.0"/><circle cx="1694.21" cy="1115.14" r="3.0"/><circle cx="1552.94" cy="1094.48" r="3.0"/><circle cx="1627.11" cy="1046.05" r="3.0"/><circle cx="1665.36" cy="1035.47" r="3.0"/><circle cx="1694.81" cy="1099.9" r="3.0"/><circle cx="1732.64" cy="1054.78" r="3.0"/><circle cx="1569.95" cy="1030.75" r="3.0"/><circle cx="1607.85" cy="1112.55" r="3.0"/><circle cx="1671.63" cy="1062" r="3.0"/><circle cx="1699.45" cy="1106.31" r="3.0"/><circle cx="1660.81" cy="1068.58" r="3.0"/><circle cx="1666.41" cy="1081.85" r="3.0"/><circle cx="1666.17" cy="1089.43" r="3.0"/><circle cx="1657.41" cy="1092.11" r="3.0"/><circle cx="1592.08" cy="1009.87" r="3.0"/><circle cx="1699.42" cy="1133.11" r="3.0"/><circle cx="1745.13" cy="1033.52" r="3.0"/><circle cx="1731.71" cy="1086.5" r="3.0"/><circle cx="1708.35" cy="1047.62" r="3.0"/><circle cx="1653.27" cy="1023.54" r="3.0"/><circle cx="1691.5" cy="1060.03" r="3.0"/><circle cx="1683.91" cy="1086.71" r="3.0"/><circle cx="1769.14" cy="1087.47" r="3.0"/><circle cx="1684.51" cy="1069.19" r="3.0"/><circle cx="1663.29" cy="1013" r="3.0"/><circle cx="1732.58" cy="1089.2" r="3.0"/><circle cx="1749.92" cy="1031.14" r="3.0"/><circle cx="1691.32" cy="1090.2" r="3.0"/><circle cx="1746.17" cy="1113.9" r="3.0"/><circle cx="1779.36" cy="1122.97" r="3.0"/><circle cx="1693.87" cy="1110.31" r="3.0"/><circle cx="1777.97" cy="1093.39" r="3.0"/><circle cx="1715.43" cy="1028.83" r="3.0"/><circle cx="1672.76" cy="1105.66" r="3.0"/><circle cx="1702.36" cy="1052" r="3.0"/><circle cx="1760.61" cy="1054.32" r="3.0"/><circle cx="1738.75" cy="1058.48" r="3.0"/><circle cx="1591.28" cy="1029.26" r="3.0"/><circle cx="1682.63" cy="1009.56" r="3.0"/><circle cx="1633.68" cy="1088.65" r="3.0"/><circle cx="1699.49" cy="1073.73" r="3.0"/><circle cx="1698.21" cy="1095.4" r="3.0"/><circle cx="1705.5" cy="1097.43" r="3.0"/><circle cx="1762.02" cy="1081.52" r="3.0"/><circle cx="1784.62" cy="1012.78" r="3.0"/><circle cx="1727.35" cy="1073.98" r="3.0"/><circle cx="1719.55" cy="1092.78" r="3.0"/><circle cx="1705.67" cy="1064.25" r="3.0"/><circle cx="1647.99" cy="1007.47" r="3.0"/><circle cx="1686.42" cy="1047.77" r="3.0"/><circle cx="1732.21" cy="1047.59" r="3.0"/><circle cx="1676.16" cy="1071.27" r="3.0"/><circle cx="1683.26" cy="1087.44" r="3.0"/><circle cx="1719.23" cy="1047.49" r="3.0"/><circle cx="1648.54" cy="1028.56" r="3.0"/><circle cx="1744.85" cy="1067" r="3.0"/><circle cx="1732.39" cy="1059.84" r="3.0"/><circle cx="1756.02" cy="1072.87" r="3.0"/><circle cx="1632.19" cy="994.39" r="3.0"/><circle cx="1682.83" cy="1095.63" r="3.0"/><circle cx="1733.72" cy="1036.15" r="3.0"/><circle cx="1648.91" cy="1067.58" r="3.0"/><circle cx="1648.17" cy="1035.34" r="3.0"/><circle cx="1816.18" cy="1110.01" r="3.0"/><circle cx="1605.99" cy="1023.52" r="3.0"/><circle cx="1775.64" cy="1069.42" r="3.0"/><circle cx="1731.32" cy="1108.74" r="3.0"/><circle cx="1582.17" cy="1008.66" r="3.0"/><circle cx="1708.87" cy="1065.19" r="3.0"/><circle cx="1659.64" cy="1085.4" r="3.0"/><circle cx="1730.7" cy="1061.14" r="3.0"/><circle cx="1741.83" cy="1053.98" r="3.0"/><circle cx="1774.26" cy="1141.93" r="3.0"/><circle cx="1600.92" cy="1042.23" r="3.0"/><circle cx="1703.62" cy="1072.19" r="3.0"/><circle cx="1690.81" cy="1076.15" r="3.0"/><circle cx="1597.83" cy="1059.3" r="3.0"/><circle cx="1747.77" cy="1055.23" r="3.0"/><circle cx="1769.65" cy="1108.03" r="3.0"/><circle cx="1672.95" cy="1048.87" r="3.0"/><circle cx="1701.51" cy="980.21" r="3.0"/><circle cx="1640.51" cy="1055.98" r="3.0"/><circle cx="1689.85" cy="1076.8" r="3.0"/><circle cx="1701.75" cy="1046.52" r="3.0"/><circle cx="1592.9" cy="1077.27" r="3.0"/><circle cx="1635.79" cy="1019.78" r="3.0"/><circle cx="1661.97" cy="1104.7" r="3.0"/><circle cx="1674.52" cy="1105.45" r="3.0"/><circle cx="1654.13" cy="1078.71" r="3.0"/><circle cx="1689.99" cy="1047.74" r="3.0"/><circle cx="1700.65" cy="996.15" r="3.0"/><circle cx="1764.86" cy="1043.14" r="3.0"/><circle cx="1764.61" cy="1102.96" r="3.0"/><circle cx="1647.44" cy="1060.91" r="3.0"/><circle cx="1748.06" cy="1117.4" r="3.0"/><circle cx="1704.92" cy="1056.13" r="3.0"/><circle cx="1736.16" cy="1044.8" r="3.0"/><circle cx="1619.15" cy="1038.2" r="3.0"/><circle cx="1671.24" cy="1069.76" r="3.0"/><circle cx="1747.43" cy="1115.57" r="3.0"/><circle cx="1708.48" cy="1102" r="3.0"/><circle cx="1679.02" cy="1062.26" r="3.0"/><circle cx="1673.97" cy="1083.58" r="3.0"/><circle cx="1701.3" cy="1133.32" r="3.0"/><circle cx="1734.6" cy="1053.13" r="3.0"/><circle cx="1732.03" cy="1081.42" r="3.0"/><circle cx="1731.2" cy="1076.37" r="3.0"/><circle cx="1749.07" cy="1081.35" r="3.0"/><circle cx="1672.51" cy="1086.44" r="3.0"/><circle cx="1702.18" cy="1016.91" r="3.0"/><circle cx="1748.14" cy="1065.38" r="3.0"/><circle cx="1804.47" cy="1080.65" r="3.0"/><circle cx="1730.32" cy="1024.14" r="3.0"/><circle cx="1734.34" cy="1108.8" r="3.0"/><circle cx="1765.45" cy="1107.97" r="3.0"/><circle cx="1767.06" cy="1076.94" r="3.0"/><circle cx="1745.66" cy="1040.83" r="3.0"/><circle cx="1817.81" cy="1131.91" r="3.0"/><circle cx="1677.35" cy="1131.17" r="3.0"/><circle cx="1640.19" cy="1053.19" r="3.0"/><circle cx="1673.23" cy="998.82" r="3.0"/><circle cx="1601.85" cy="1070.45" r="3.0"/><circle cx="1732" cy="1054.24" r="3.0"/><circle cx="1716.39" cy="1067.52" r="3.0"/><circle cx="1608.36" cy="1051.11" r="3.0"/><circle cx="1655.55" cy="1068.53" r="3.0"/><circle cx="1617.33" cy="1123.26" r="3.0"/><circle cx="1674.57" cy="1091.49" r="3.0"/><circle cx="1808.6" cy="1033.49" r="3.0"/><circle cx="1605.46" cy="1138.43" r="3.0"/><circle cx="1752.3" cy="1022.37" r="3.0"/><circle cx="1635.15" cy="1157.07" r="3.0"/><circle cx="1701.98" cy="1079.85" r="3.0"/><circle cx="1611.62" cy="967.39" r="3.0"/><circle cx="1718.28" cy="1053.17" r="3.0"/><circle cx="1645.12" cy="1062.79" r="3.0"/><circle cx="1703.88" cy="1110.51" r="3.0"/><circle cx="1696.25" cy="1104.1" r="3.0"/><circle cx="1596.7" cy="1080.05" r="3.0"/><circle cx="1695.44" cy="1072.01" r="3.0"/><circle cx="1695.1" cy="1053.59" r="3.0"/><circle cx="1688.03" cy="1053.67" r="3.0"/><circle cx="1721.79" cy="1104.08" r="3.0"/><circle cx="1717.79" cy="1098.54" r="3.0"/><circle cx="1784.15" cy="1091.1" r="3.0"/><circle cx="1774.1" cy="1004.67" r="3.0"/><circle cx="1726.37" cy="1050.82" r="3.0"/><circle cx="1745.57" cy="1083.95" r="3.0"/><circle cx="1685.16" cy="1065.85" r="3.0"/><circle cx="1642.24" cy="1087.33" r="3.0"/><circle cx="1643.07" cy="1082.09" r="3.0"/><circle cx="1723.69" cy="1103.75" r="3.0"/><circle cx="1711.15" cy="1123.51" r="3.0"/><circle cx="1632.68" cy="1082.32" r="3.0"/><circle cx="1616.42" cy="1120.91" r="3.0"/><circle cx="1667.58" cy="1029.04" r="3.0"/><circle cx="1719.29" cy="1099" r="3.0"/><circle cx="1599.3" cy="1087" r="3.0"/><circle cx="1688.77" cy="1060.85" r="3.0"/><circle cx="1764.23" cy="1109.35" r="3.0"/><circle cx="1636.58" cy="1048.09" r="3.0"/><circle cx="1594.77" cy="1031.42" r="3.0"/><circle cx="1560.49" cy="1034.75" r="3.0"/><circle cx="1768.32" cy="1018.19" r="3.0"/><circle cx="1599.56" cy="1107.65" r="3.0"/><circle cx="1696.05" cy="1091.65" r="3.0"/><circle cx="1715.19" cy="1057.04" r="3.0"/><circle cx="1721.54" cy="1090.85" r="3.0"/><circle cx="1698.5" cy="1034.51" r="3.0"/><circle cx="1728.31" cy="1144.84" r="3.0"/><circle cx="1700.89" cy="1026.53" r="3.0"/><circle cx="1722.83" cy="1104.03" r="3.0"/><circle cx="1704.78" cy="1083.03" r="3.0"/><circle cx="1712.11" cy="1110.91" r="3.0"/><circle cx="1757.28" cy="1048.42" r="3.0"/><circle cx="1531.1" cy="1111.59" r="3.0"/><circle cx="1674.4" cy="1085" r="3.0"/><circle cx="1677.02" cy="1097.11" r="3.0"/><circle cx="1683.95" cy="1138.41" r="3.0"/><circle cx="1651.52" cy="1074.94" r="3.0"/><circle cx="1729.13" cy="1100.98" r="3.0"/><circle cx="1660.28" cy="1038.81" r="3.0"/><circle cx="1658.75" cy="1028.25" r="3.0"/><circle cx="1681.07" cy="1056.5" r="3.0"/><circle cx="1688.06" cy="1034.4" r="3.0"/><circle cx="1582.03" cy="1062.88" r="3.0"/><circle cx="1732.48" cy="1106.89" r="3.0"/><circle cx="1691.24" cy="1011.28" r="3.0"/><circle cx="1709.6" cy="1016.91" r="3.0"/><circle cx="1741.08" cy="1060.48" r="3.0"/><circle cx="1732.06" cy="1045.49" r="3.0"/><circle cx="1767.27" cy="1031.41" r="3.0"/><circle cx="1725.47" cy="1065.89" r="3.0"/><circle cx="1706.27" cy="1104.37" r="3.0"/><circle cx="1567.18" cy="1057.73" r="3.0"/><circle cx="1699.19" cy="1098.6" r="3.0"/><circle cx="1792.48" cy="1094.27" r="3.0"/><circle cx="1737.49" cy="1049.31" r="3.0"/><circle cx="1750.62" cy="1031.08" r="3.0"/><circle cx="1581.92" cy="1057.06" r="3.0"/><circle cx="1772.59" cy="1091.83" r="3.0"/><circle cx="1587.42" cy="1062.17" r="3.0"/><circle cx="1771.88" cy="1059.54" r="3.0"/><circle cx="1725.67" cy="1139.78" r="3.0"/><circle cx="1717.5" cy="1064.45" r="3.0"/><circle cx="1681.86" cy="1080.2" r="3.0"/><circle cx="1726.79" cy="1029.95" r="3.0"/><circle cx="1733.48" cy="1100.33" r="3.0"/><circle cx="1771.76" cy="1043.5" r="3.0"/><circle cx="1736.66" cy="1114.31" r="3.0"/><circle cx="1675.27" cy="1113.23" r="3.0"/><circle cx="1792.13" cy="1095.71" r="3.0"/><circle cx="1706.19" cy="1082.23" r="3.0"/><circle cx="1690.31" cy="1086.99" r="3.0"/><circle cx="1597.96" cy="1047.96" r="3.0"/><circle cx="1617.22" cy="1093.15" r="3.0"/><circle cx="1695.47" cy="1078.03" r="3.0"/><circle cx="1658.81" cy="1021.04" r="3.0"/><circle cx="1667.94" cy="1060.93" r="3.0"/><circle cx="1755.34" cy="1076.67" r="3.0"/><circle cx="1714.09" cy="1056.8" r="3.0"/><circle cx="1611.54" cy="1044.91" r="3.0"/><circle cx="1766.03" cy="1078.2" r="3.0"/><circle cx="1781.76" cy="1095.43" r="3.0"/><circle cx="1693.51" cy="1064.35" r="3.0"/><circle cx="1666.46" cy="1021.7" r="3.0"/><circle cx="1738.54" cy="1088.26" r="3.0"/><circle cx="1630.43" cy="990.94" r="3.0"/><circle cx="1827.88" cy="1102.87" r="3.0"/><circle cx="1721.22" cy="1051.59" r="3.0"/><circle cx="1644.25" cy="1122.24" r="3.0"/><circle cx="1715.57" cy="1107.01" r="3.0"/><circle cx="1773.78" cy="1067.38" r="3.0"/><circle cx="1714.74" cy="1066.78" r="3.0"/><circle cx="1660.76" cy="1040.67" r="3.0"/><circle cx="1742.6" cy="1053.97" r="3.0"/><circle cx="1650.17" cy="1085.22" r="3.0"/><circle cx="1799.09" cy="1029.79" r="3.0"/><circle cx="1694.92" cy="1037.07" r="3.0"/><circle cx="1787.01" cy="1137.61" r="3.0"/><circle cx="1639.87" cy="1001" r="3.0"/><circle cx="1654.81" cy="1105.26" r="3.0"/><circle cx="1691.78" cy="1038.43" r="3.0"/><circle cx="1713.1" cy="1062.35" r="3.0"/><circle cx="1766.31" cy="1115.8" r="3.0"/><circle cx="1738.24" cy="1112.1" r="3.0"/><circle cx="1735.65" cy="1058.1" r="3.0"/><circle cx="1676.6" cy="1021.58" r="3.0"/><circle cx="1731.34" cy="1089.92" r="3.0"/><circle cx="1736.41" cy="1102.84" r="3.0"/><circle cx="1688.53" cy="1115.84" r="3.0"/><circle cx="1720.59" cy="1086.23" r="3.0"/><circle cx="1678.04" cy="1030.2" r="3.0"/><circle cx="1714.03" cy="1097.25" r="3.0"/><circle cx="1636.05" cy="1091.56" r="3.0"/><circle cx="1692.84" cy="1064.08" r="3.0"/><circle cx="1741.24" cy="1091.48" r="3.0"/><circle cx="1609.18" cy="1089.53" r="3.0"/><circle cx="1720.9" cy="1144.05" r="3.0"/><circle cx="1599.94" cy="1032.61" r="3.0"/><circle cx="1678.69" cy="995.63" r="3.0"/><circle cx="1711.28" cy="1099.94" r="3.0"/><circle cx="1690.38" cy="1017.15" r="3.0"/><circle cx="1704.67" cy="1107.32" r="3.0"/><circle cx="1729.18" cy="1110.48" r="3.0"/><circle cx="1695.4" cy="1090.28" r="3.0"/><circle cx="1678.83" cy="1038.26" r="3.0"/><circle cx="1673.2" cy="1071.86" r="3.0"/><circle cx="1679.74" cy="1002.97" r="3.0"/><circle cx="1637.74" cy="1062.38" r="3.0"/><circle cx="1781.47" cy="1035.54" r="3.0"/><circle cx="1648.58" cy="1085.61" r="3.0"/><circle cx="1595.36" cy="1065.75" r="3.0"/><circle cx="1730.22" cy="1070.04" r="3.0"/><circle cx="1609.46" cy="1111.2" r="3.0"/><circle cx="1743.3" cy="1073.51" r="3.0"/><circle cx="1750.55" cy="1129.58" r="3.0"/><circle cx="1628.06" cy="1068.32" r="3.0"/><circle cx="1591.86" cy="984.1" r="3.0"/><circle cx="1737.13" cy="1058.34" r="3.0"/><circle cx="1683.48" cy="1064.73" r="3.0"/><circle cx="1650.39" cy="1085.7" r="3.0"/><circle cx="1788.06" cy="1065.23" r="3.0"/><circle cx="1694.56" cy="1075.45" r="3.0"/><circle cx="1653.91" cy="1062.22" r="3.0"/><circle cx="1772.06" cy="1053.5" r="3.0"/><circle cx="1761.4" cy="1060.39" r="3.0"/><circle cx="1798.14" cy="1074.8" r="3.0"/><circle cx="1637.23" cy="1052.28" r="3.0"/><circle cx="1709.86" cy="1073.52" r="3.0"/><circle cx="1770.93" cy="1068.74" r="3.0"/><circle cx="1605.62" cy="1045.77" r="3.0"/><circle cx="1651.69" cy="1060.46" r="3.0"/><circle cx="1680.28" cy="1086.79" r="3.0"/><circle cx="1675.39" cy="1115.41" r="3.0"/><circle cx="1548.66" cy="1111.3" r="3.0"/><circle cx="1626.72" cy="1071.14" r="3.0"/><circle cx="1681.38" cy="1102.81" r="3.0"/><circle cx="1553.21" cy="1041.67" r="3.0"/><circle cx="1732.11" cy="1092" r="3.0"/><circle cx="1648.01" cy="1080.44" r="3.0"/><circle cx="1654.69" cy="1023.66" r="3.0"/><circle cx="1573.33" cy="1122.56" r="3.0"/><circle cx="1738.86" cy="1052.64" r="3.0"/><circle cx="1636.68" cy="1152.97" r="3.0"/><circle cx="1660.44" cy="1155.69" r="3.0"/><circle cx="1737.97" cy="1066.66" r="3.0"/><circle cx="1735.73" cy="1164.97" r="3.0"/><circle cx="1730.37" cy="1087.15" r="3.0"/><circle cx="1673.1" cy="1028.2" r="3.0"/><circle cx="1586.5" cy="1073.91" r="3.0"/><circle cx="1632.3" cy="1092.29" r="3.0"/><circle cx="1636.31" cy="1056.87" r="3.0"/><circle cx="1713.19" cy="1066.7" r="3.0"/><circle cx="1617.12" cy="1062.74" r="3.0"/><circle cx="1622.45" cy="1117.27" r="3.0"/><circle cx="1671.3" cy="1000.36" r="3.0"/><circle cx="1696.48" cy="1105.97" r="3.0"/><circle cx="1738.59" cy="1008.42" r="3.0"/><circle cx="1710.33" cy="1025.69" r="3.0"/><circle cx="1584.55" cy="1071.86" r="3.0"/><circle cx="1688.52" cy="1052.82" r="3.0"/><circle cx="1715.04" cy="1063.85" r="3.0"/><circle cx="1811.1" cy="1043.21" r="3.0"/><circle cx="1724.41" cy="1098.76" r="3.0"/><circle cx="1722.57" cy="1101.62" r="3.0"/><circle cx="1597.46" cy="1080.32" r="3.0"/><circle cx="1636.2" cy="1008.35" r="3.0"/><circle cx="1651.16" cy="964.93" r="3.0"/><circle cx="1755.82" cy="1049.72" r="3.0"/><circle cx="1697.42" cy="1096.66" r="3.0"/><circle cx="1754.17" cy="1075.64" r="3.0"/><circle cx="1671.84" cy="1144.49" r="3.0"/><circle cx="1714.23" cy="1124.86" r="3.0"/><circle cx="1714.14" cy="1096.93" r="3.0"/><circle cx="1640.42" cy="1037.9" r="3.0"/><circle cx="1745.29" cy="1042.83" r="3.0"/><circle cx="1718.26" cy="1083.74" r="3.0"/><circle cx="1776.72" cy="1032.44" r="3.0"/><circle cx="1763.05" cy="1098.59" r="3.0"/><circle cx="1753.77" cy="1064.21" r="3.0"/><circle cx="1665.98" cy="964.82" r="3.0"/><circle cx="1629.9" cy="1105.52" r="3.0"/><circle cx="1690.4" cy="1085.54" r="3.0"/><circle cx="1634.25" cy="1036.91" r="3.0"/><circle cx="1707.64" cy="1105.98" r="3.0"/><circle cx="1654" cy="1065.97" r="3.0"/><circle cx="1707.67" cy="1027.77" r="3.0"/><circle cx="1722.21" cy="1097.64" r="3.0"/><circle cx="1779.48" cy="1062.68" r="3.0"/><circle cx="1738.79" cy="1074.07" r="3.0"/><circle cx="1677.59" cy="1099.81" r="3.0"/><circle cx="1667.23" cy="1040.25" r="3.0"/><circle cx="1698.63" cy="1086.23" r="3.0"/><circle cx="1713.32" cy="1081.77" r="3.0"/><circle cx="1689.12" cy="1075.7" r="3.0"/><circle cx="1705.55" cy="1097.78" r="3.0"/><circle cx="1728.63" cy="1087.63" r="3.0"/><circle cx="1709.32" cy="1096.67" r="3.0"/><circle cx="1647.21" cy="1151.89" r="3.0"/><circle cx="1644.26" cy="1093.19" r="3.0"/><circle cx="1648.9" cy="812.8" r="3.0"/><circle cx="1675.2" cy="816.4" r="3.0"/><circle cx="1696.2" cy="821" r="3.0"/><circle cx="1673.1" cy="842" r="3.0"/><circle cx="1680.2" cy="886.8" r="3.0"/><circle cx="1706.2" cy="886.8" r="3.0"/><circle cx="1728.3" cy="887.6" r="3.0"/><circle cx="1731.1" cy="904.6" r="3.0"/><circle cx="1737.2" cy="903.6" r="3.0"/><circle cx="1745.4" cy="908.9" r="3.0"/><circle cx="1761.4" cy="906.1" r="3.0"/><circle cx="1771" cy="903.6" r="3.0"/><circle cx="1736.5" cy="918.9" r="3.0"/><circle cx="1736.5" cy="924.9" r="3.0"/><circle cx="1721.2" cy="923.1" r="3.0"/><circle cx="1717.6" cy="930.3" r="3.0"/><circle cx="1599.4" cy="930.3" r="3.0"/><circle cx="1604.8" cy="929.5" r="3.0"/><circle cx="1618" cy="930.3" r="3.0"/><circle cx="1627.6" cy="933.1" r="3.0"/><circle cx="1581.7" cy="939.2" r="3.0"/><circle cx="1599.4" cy="939.9" r="3.0"/><circle cx="1438.2" cy="963" r="3.0"/><circle cx="1491.6" cy="963" r="3.0"/><circle cx="1525.1" cy="959.8" r="3.0"/><circle cx="1813.7" cy="943.8" r="3.0"/><circle cx="1811.9" cy="980.8" r="3.0"/><circle cx="1808.3" cy="1000.7" r="3.0"/><circle cx="1760.3" cy="948.8" r="3.0"/><circle cx="1769.2" cy="966.6" r="3.0"/><circle cx="1505.9" cy="981.9" r="3.0"/><circle cx="1497" cy="989" r="3.0"/><circle cx="1552.1" cy="984.4" r="3.0"/><circle cx="1556.4" cy="985.4" r="3.0"/><circle cx="1477.4" cy="1004.3" r="3.0"/><circle cx="1480.2" cy="1006.1" r="3.0"/><circle cx="1493.4" cy="1017.8" r="3.0"/><circle cx="1525.1" cy="1008.6" r="3.0"/><circle cx="1520.1" cy="1042.4" r="3.0"/><circle cx="1530.8" cy="1047.7" r="3.0"/><circle cx="1519.4" cy="1062.6" r="3.0"/><circle cx="1502.3" cy="1074.4" r="3.0"/><circle cx="1503" cy="1097.5" r="3.0"/><circle cx="1515.8" cy="1092.2" r="3.0"/><circle cx="1530.8" cy="1092.2" r="3.0"/><circle cx="1461.4" cy="1113.5" r="3.0"/><circle cx="1488.1" cy="1122.4" r="3.0"/><circle cx="1527.9" cy="1143.8" r="3.0"/><circle cx="1549.6" cy="1131.3" r="3.0"/><circle cx="1580.6" cy="1146.6" r="3.0"/><circle cx="1584.1" cy="1150.9" r="3.0"/><circle cx="1651.8" cy="1158" r="3.0"/><circle cx="1723.6" cy="1165.8" r="3.0"/><circle cx="1797" cy="1150.2" r="3.0"/><circle cx="1814.4" cy="1122.4" r="3.0"/><circle cx="1829.7" cy="1078" r="3.0"/><circle cx="1830.8" cy="1084.4" r="3.0"/><circle cx="1814.8" cy="1098.2" r="3.0"/><circle cx="1796.6" cy="1028.1" r="3.0"/><circle cx="1813" cy="1033.5" r="3.0"/><circle cx="1797.7" cy="1044.1" r="3.0"/></g>
<line x1="1671.65" y1="774.7" x2="1671.65" y2="1253.1" stroke="#000" stroke-width="4.8" stroke-linecap="round" stroke-dasharray="0 12"/>
<line x1="1436.6" y1="1058.86" x2="1915.7" y2="1058.86" stroke="#000" stroke-width="4.8" stroke-linecap="round" stroke-dasharray="0 12"/>
<line x1="1438.1" y1="1055.4" x2="1832.1" y2="1061.4" stroke="#f0a24a" stroke-width="5" stroke-linecap="round"/>
<rect x="1424.6" y="763" width="494.1" height="493.1" fill="none" stroke="#000" stroke-width="4.4"/>
<line x1="1400.1" y1="763" x2="1424.6" y2="763" stroke="#000" stroke-width="4.4"/>
<text transform="translate(1372.4 777.66) scale(1 1.04)" font-size="41" fill="#000" stroke="#000" stroke-width="0.55" stroke-linejoin="round">6</text>
<line x1="1400.1" y1="861.62" x2="1424.6" y2="861.62" stroke="#000" stroke-width="4.4"/>
<text transform="translate(1371.8 876.28) scale(1 1.04)" font-size="41" fill="#000" stroke="#000" stroke-width="0.55" stroke-linejoin="round">4</text>
<line x1="1400.1" y1="960.24" x2="1424.6" y2="960.24" stroke="#000" stroke-width="4.4"/>
<text transform="translate(1372.66 974.9) scale(1 1.04)" font-size="41" fill="#000" stroke="#000" stroke-width="0.55" stroke-linejoin="round">2</text>
<line x1="1400.1" y1="1058.86" x2="1424.6" y2="1058.86" stroke="#000" stroke-width="4.4"/>
<text transform="translate(1372.2 1073.52) scale(1 1.04)" font-size="41" fill="#000" stroke="#000" stroke-width="0.55" stroke-linejoin="round">0</text>
<line x1="1400.1" y1="1157.48" x2="1424.6" y2="1157.48" stroke="#000" stroke-width="4.4"/>
<text transform="translate(1359.01 1172.14) scale(1 1.04)" font-size="41" fill="#000" stroke="#000" stroke-width="0.55" stroke-linejoin="round">-2</text>
<line x1="1400.1" y1="1256.1" x2="1424.6" y2="1256.1" stroke="#000" stroke-width="4.4"/>
<text transform="translate(1358.15 1270.76) scale(1 1.04)" font-size="41" fill="#000" stroke="#000" stroke-width="0.55" stroke-linejoin="round">-4</text>
<line x1="1424.6" y1="1256.1" x2="1424.6" y2="1280.6" stroke="#000" stroke-width="4.4"/>
<text transform="translate(1406.36 1321.6) scale(1 1.04)" font-size="41" fill="#000" stroke="#000" stroke-width="0.55" stroke-linejoin="round">-3</text>
<line x1="1506.95" y1="1256.1" x2="1506.95" y2="1280.6" stroke="#000" stroke-width="4.4"/>
<text transform="translate(1488.84 1321.6) scale(1 1.04)" font-size="41" fill="#000" stroke="#000" stroke-width="0.55" stroke-linejoin="round">-2</text>
<line x1="1589.3" y1="1256.1" x2="1589.3" y2="1280.6" stroke="#000" stroke-width="4.4"/>
<text transform="translate(1571.16 1321.6) scale(1 1.04)" font-size="41" fill="#000" stroke="#000" stroke-width="0.55" stroke-linejoin="round">-1</text>
<line x1="1671.65" y1="1256.1" x2="1671.65" y2="1280.6" stroke="#000" stroke-width="4.4"/>
<text transform="translate(1660.25 1321.6) scale(1 1.04)" font-size="41" fill="#000" stroke="#000" stroke-width="0.55" stroke-linejoin="round">0</text>
<line x1="1754" y1="1256.1" x2="1754" y2="1280.6" stroke="#000" stroke-width="4.4"/>
<text transform="translate(1742.04 1321.6) scale(1 1.04)" font-size="41" fill="#000" stroke="#000" stroke-width="0.55" stroke-linejoin="round">1</text>
<line x1="1836.35" y1="1256.1" x2="1836.35" y2="1280.6" stroke="#000" stroke-width="4.4"/>
<text transform="translate(1824.95 1321.6) scale(1 1.04)" font-size="41" fill="#000" stroke="#000" stroke-width="0.55" stroke-linejoin="round">2</text>
<line x1="1918.7" y1="1256.1" x2="1918.7" y2="1280.6" stroke="#000" stroke-width="4.4"/>
<text transform="translate(1907.42 1321.6) scale(1 1.04)" font-size="41" fill="#000" stroke="#000" stroke-width="0.55" stroke-linejoin="round">3</text>
<text transform="translate(1438.3 804.9) scale(1 1.04)" font-size="42.1" fill="#000" stroke="#000" stroke-width="0.55" stroke-linejoin="round">n=1060</text>
<rect x="1660" y="780" width="30" height="27" fill="#fff"/>
<text transform="translate(1659.16 811.5) scale(1 1.04)" font-size="41.84" fill="#000" stroke="#000" stroke-width="0.55" stroke-linejoin="round">TCGA-BRCA</text>
<text transform="translate(1725.23 862.9) scale(1 1.04)" font-size="42.27" fill="#000" stroke="#000" stroke-width="0.55" stroke-linejoin="round">Rho=0.00</text>
<text transform="translate(1768.81 911.7) scale(1 1.04)" font-size="42.54" fill="#000" stroke="#000" stroke-width="0.55" stroke-linejoin="round">P=0.89</text>
<text transform="translate(1456.36 1372) scale(1 1.04)" font-size="44.37" fill="#000" stroke="#000" stroke-width="0.55" stroke-linejoin="round">NQO1-AS Expression</text>
<text transform="translate(1343.1 1258.01) rotate(-90) scale(1 1.04)" font-size="44" fill="#000" stroke="#000" stroke-width="0.55" stroke-linejoin="round">HNRNPA2B1 Expression</text>
</svg></body></html>
